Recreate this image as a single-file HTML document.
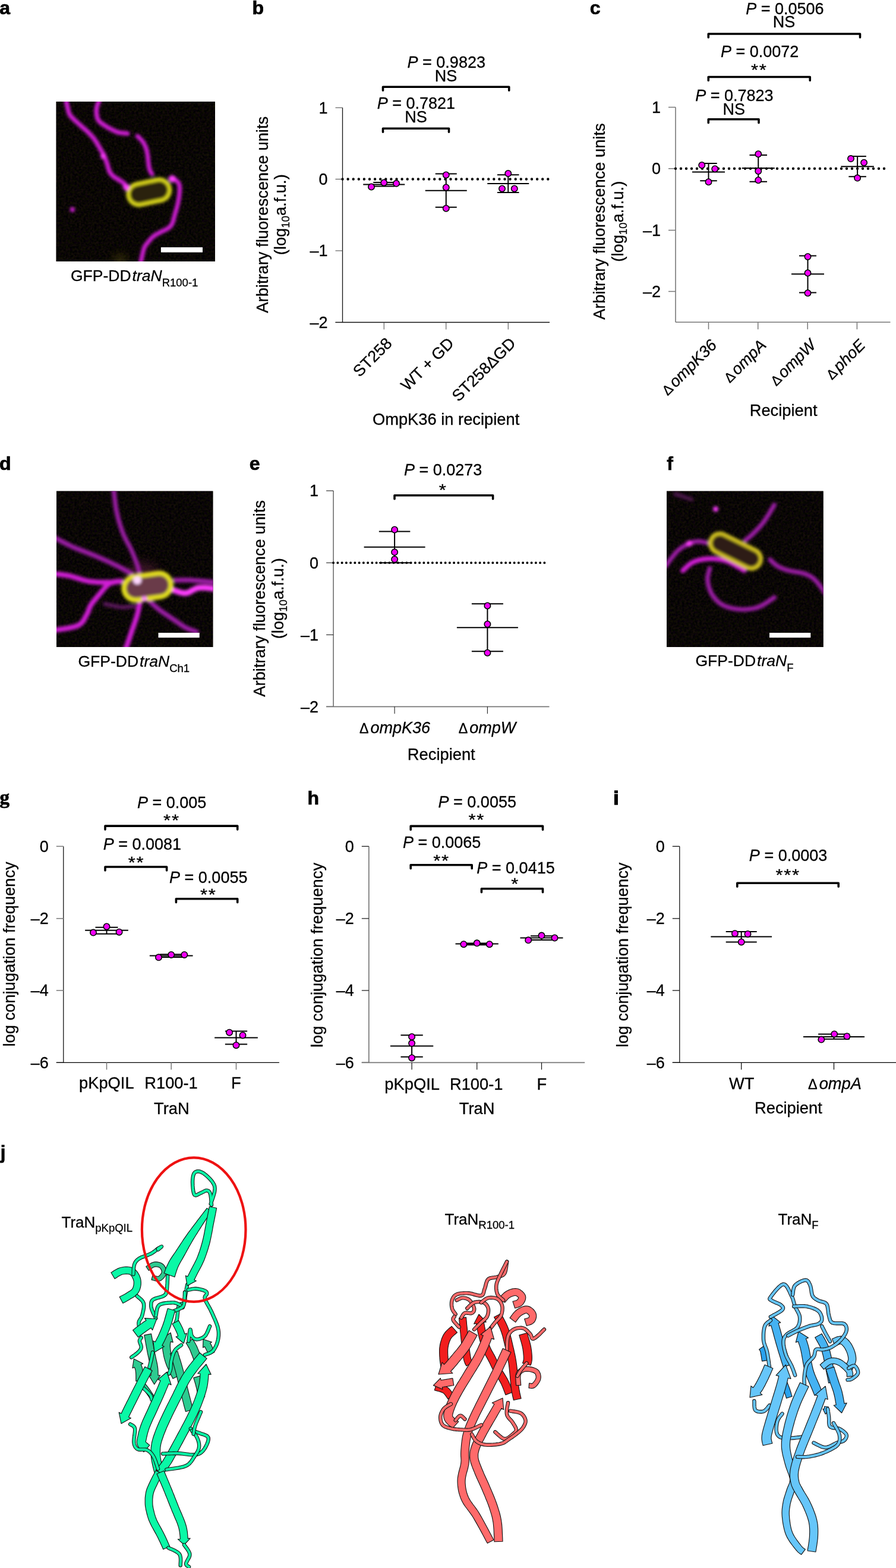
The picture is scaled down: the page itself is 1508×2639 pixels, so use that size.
<!DOCTYPE html><html><head><meta charset="utf-8"><title>Figure</title><style>html,body{margin:0;padding:0;background:#fff;} svg{display:block;} text{font-family:"Liberation Sans",Arial,Helvetica,sans-serif;fill:#000;stroke:#000;stroke-width:0.3px;} .pl{font-family:"Liberation Sans",Arial,sans-serif;font-weight:bold;}</style></head><body>
<svg width="1508" height="2639" viewBox="0 0 1508 2639">
<defs><filter id="blur3" x="-20%" y="-20%" width="140%" height="140%"><feGaussianBlur stdDeviation="2.5"/></filter><filter id="blur8" x="-50%" y="-50%" width="200%" height="200%"><feGaussianBlur stdDeviation="8"/></filter><filter id="blur2" x="-20%" y="-20%" width="140%" height="140%"><feGaussianBlur stdDeviation="1.6"/></filter><filter id="noise" x="0" y="0" width="100%" height="100%" color-interpolation-filters="sRGB"><feTurbulence type="fractalNoise" baseFrequency="0.27" numOctaves="2" seed="5"/><feColorMatrix values="0.14 0 0.1 0 -0.08  0.13 0 0 0 -0.035  0 0 0.11 0 -0.035  0 0 0 0 1"/></filter></defs>
<rect width="1508" height="2639" fill="#fff"/>
<text x="-0.8" y="24.3" font-size="32" font-weight="bold" style="font-family:'Liberation Sans',Arial,sans-serif;stroke:#000;stroke-width:0.7px">a</text>
<text x="424.6" y="24.3" font-size="32" font-weight="bold" style="font-family:'Liberation Sans',Arial,sans-serif;stroke:#000;stroke-width:0.7px">b</text>
<text x="992.8" y="24.3" font-size="32" font-weight="bold" style="font-family:'Liberation Sans',Arial,sans-serif;stroke:#000;stroke-width:0.7px">c</text>
<text x="-0.9" y="791" font-size="32" font-weight="bold" style="font-family:'Liberation Sans',Arial,sans-serif;stroke:#000;stroke-width:0.7px">d</text>
<text x="419.8" y="791" font-size="32" font-weight="bold" style="font-family:'Liberation Sans',Arial,sans-serif;stroke:#000;stroke-width:0.7px">e</text>
<text x="1122.3" y="791" font-size="32" font-weight="bold" style="font-family:'Liberation Sans',Arial,sans-serif;stroke:#000;stroke-width:0.7px">f</text>
<text x="-0.5" y="1352.5" font-size="33" font-weight="bold" style="font-family:'Liberation Serif',serif;stroke:#000;stroke-width:0.7px">g</text>
<text x="517.5" y="1354" font-size="32" font-weight="bold" style="font-family:'Liberation Sans',Arial,sans-serif;stroke:#000;stroke-width:0.7px">h</text>
<text x="1032.5" y="1354" font-size="32" font-weight="bold" style="font-family:'Liberation Sans',Arial,sans-serif;stroke:#000;stroke-width:1.6px">i</text>
<text x="0.8" y="1949.5" font-size="31" font-weight="bold" style="font-family:'Liberation Sans',Arial,sans-serif;stroke:#000;stroke-width:0.7px">j</text>
<clipPath id="ca"><rect x="94.5" y="171" width="267.5" height="269"/></clipPath>
<g clip-path="url(#ca)">
<rect x="94.5" y="171" width="267.5" height="269" fill="#0a0604"/>
<rect x="94.5" y="171" width="267.5" height="269" filter="url(#noise)" opacity="0.9"/>
<circle cx="202" cy="440" r="12" fill="#6a6010" opacity="0.45" filter="url(#blur8)"/>
<g filter="url(#blur3)">
<path d="M110.7,166.0 L111.0,167.8 L111.5,170.3 L112.1,173.2 L112.7,176.4 L113.4,179.4 L114.0,182.0 L114.5,184.2 L115.0,186.3 L115.4,188.2 L116.0,190.1 L116.9,192.1 L118.1,194.1 L119.7,196.2 L121.6,198.2 L123.7,200.3 L126.0,202.5 L128.5,204.7 L131.1,207.1 L134.0,209.7 L137.2,212.6 L140.5,215.5 L143.8,218.4 L146.9,221.2 L149.6,223.8 L151.8,226.1 L153.7,228.1 L155.4,230.1 L157.0,232.0 L158.5,233.9 L160.0,236.0 L161.5,238.2 L162.9,240.5 L164.3,242.9 L165.6,245.2 L166.9,247.5 L168.2,249.8 L169.5,252.0 L170.8,254.1 L172.1,256.2 L173.3,258.3 L174.5,260.4 L175.6,262.7 L176.6,265.2 L177.6,267.8 L178.6,270.5 L179.5,273.2 L180.3,275.7 L181.0,278.0 L181.6,280.0 L182.1,281.8 L182.5,283.5 L182.9,285.0 L183.4,286.5 L184.0,288.0 L184.8,289.5 L185.7,290.9 L186.6,292.2 L187.7,293.6 L188.8,294.8 L190.0,296.0 L191.3,297.1 L192.7,298.1 L194.2,299.1 L195.8,300.0 L197.4,301.0 L199.0,302.0 L200.7,303.1 L202.5,304.3 L204.3,305.4 L206.1,306.6 L207.7,307.9 L209.0,309.1 L210.1,310.5 L210.9,312.0 L211.6,313.5 L212.2,314.9 L212.6,316.1 L213.0,317.0" fill="none" stroke="#d11fd6" stroke-width="7.5" stroke-linecap="round" stroke-linejoin="round" opacity="1"/>
<path d="M168.2,166.0 L167.6,167.5 L166.7,169.7 L165.6,172.2 L164.6,175.0 L163.6,177.6 L163.0,180.0 L162.6,182.1 L162.4,184.2 L162.3,186.2 L162.3,188.1 L162.4,190.1 L162.6,192.0 L162.9,193.9 L163.2,195.8 L163.6,197.7 L164.1,199.5 L164.9,201.3 L166.0,203.0 L167.4,204.6 L169.2,206.2 L171.2,207.8 L173.3,209.2 L175.4,210.6 L177.5,212.0 L179.6,213.3 L181.7,214.6 L183.8,215.8 L186.0,217.0 L188.0,218.0 L190.0,219.0 L191.8,219.9 L193.3,220.6 L194.9,221.3 L196.4,221.9 L198.1,222.5 L200.0,223.0 L202.3,223.4 L205.1,223.8 L207.9,224.1 L210.6,224.3 L213.0,224.5 L214.6,224.7" fill="none" stroke="#d11fd6" stroke-width="7.5" stroke-linecap="round" stroke-linejoin="round" opacity="1"/>
<path d="M231.2,229.0 L232.2,229.9 L233.6,231.2 L235.2,232.8 L236.9,234.4 L238.6,236.2 L240.0,238.0 L241.2,239.8 L242.3,241.8 L243.4,243.8 L244.4,245.9 L245.2,248.0 L246.0,250.0 L246.6,252.0 L247.1,253.9 L247.5,255.9 L247.9,257.9 L248.2,259.9 L248.5,262.0 L248.8,264.3 L249.1,266.7 L249.3,269.1 L249.5,271.6 L249.7,273.9 L250.0,276.0 L250.3,277.9 L250.6,279.7 L250.8,281.4 L251.2,283.0 L251.5,284.6 L252.0,286.0 L252.6,287.4 L253.3,288.8 L254.1,290.1 L254.9,291.3 L255.5,292.3 L256.0,293.0" fill="none" stroke="#d11fd6" stroke-width="7.2" stroke-linecap="round" stroke-linejoin="round" opacity="1"/>
<path d="M287.0,300.0 L288.1,300.4 L289.8,300.9 L291.7,301.5 L293.7,302.2 L295.5,303.1 L297.0,304.0 L298.2,305.0 L299.2,306.1 L300.1,307.3 L300.9,308.6 L301.5,310.2 L302.0,312.0 L302.3,314.2 L302.4,316.6 L302.4,319.3 L302.3,322.1 L302.0,325.0 L301.8,327.7 L301.5,330.4 L301.1,333.0 L300.7,335.7 L300.2,338.4 L299.6,341.2 L299.0,344.0 L298.3,346.9 L297.5,350.0 L296.6,353.1 L295.7,356.2 L294.8,359.2 L294.0,362.0 L293.3,364.6 L292.7,367.2 L292.1,369.6 L291.5,371.9 L290.8,374.1 L290.0,376.0 L289.1,377.7 L288.2,379.2 L287.2,380.5 L286.0,381.7 L284.7,382.8 L283.2,384.0 L281.4,385.2 L279.3,386.3 L277.0,387.4 L274.7,388.5 L272.4,389.6 L270.2,390.7 L268.1,391.9 L266.0,393.0 L263.8,394.1 L261.8,395.3 L259.8,396.6 L258.0,398.0 L256.3,399.5 L254.7,401.1 L253.1,402.8 L251.7,404.6 L250.3,406.3 L249.0,408.0 L247.8,409.5 L246.6,410.7 L245.5,411.9 L244.5,413.3 L243.5,415.3 L242.4,418.0 L241.2,421.9 L240.0,427.0 L238.8,432.6 L237.7,438.1 L236.7,442.7 L236.0,446.0" fill="none" stroke="#d11fd6" stroke-width="7.2" stroke-linecap="round" stroke-linejoin="round" opacity="1"/>
<rect x="215.3" y="305.5" width="71" height="36" rx="18.0" transform="rotate(-12 250.8 323.5)" fill="#2a240a" stroke="#dcd81e" stroke-width="6.5"/>
<circle cx="121.8" cy="352.7" r="4.2" fill="#d11fd6"/>
<circle cx="290" cy="301" r="6" fill="#ff3cff"/>
<circle cx="212.5" cy="315" r="5.5" fill="#ff3cff"/>
<circle cx="173" cy="263" r="4" fill="#ff3cff"/>
</g>
<rect x="270.9" y="416.2" width="70.10000000000002" height="8.5" fill="#fff"/>
</g>
<clipPath id="cd"><rect x="95" y="826.5" width="263.5" height="262.5"/></clipPath>
<g clip-path="url(#cd)">
<rect x="95" y="826.5" width="263.5" height="262.5" fill="#0c050a"/>
<rect x="95" y="826.5" width="263.5" height="262.5" filter="url(#noise)" opacity="0.9"/>
<circle cx="240" cy="975" r="30" fill="#602040" opacity="0.5" filter="url(#blur8)"/>
<g filter="url(#blur3)">
<path d="M191.1,822.0 L191.6,826.4 L192.3,832.6 L193.1,839.9 L194.1,847.7 L195.2,855.4 L196.5,862.3 L198.0,868.7 L199.6,874.9 L201.4,881.1 L203.3,887.1 L205.3,892.9 L207.4,898.5 L209.7,903.7 L212.1,908.7 L214.7,913.4 L217.2,918.1 L219.7,922.7 L221.9,927.5 L224.0,932.5 L226.1,937.7 L228.1,943.0 L230.0,948.0 L231.6,952.6 L232.8,956.6 L233.6,960.0 L234.1,963.0 L234.4,965.6 L234.5,967.8 L234.5,969.6 L234.6,971.0" fill="none" stroke="#9c1aa6" stroke-width="7.5" stroke-linecap="round" stroke-linejoin="round" opacity="1"/>
<path d="M90.0,904.0 L93.5,905.8 L98.2,908.3 L103.8,911.2 L110.0,914.4 L116.2,917.5 L122.2,920.3 L128.0,922.8 L134.0,925.2 L140.1,927.5 L146.3,929.9 L152.4,932.3 L158.5,934.8 L164.6,937.4 L170.9,940.2 L177.2,942.9 L183.3,945.7 L189.2,948.5 L194.7,951.1 L200.1,953.8 L205.4,956.6 L210.6,959.4 L215.2,961.9 L219.0,964.0 L221.9,965.6" fill="none" stroke="#9c1aa6" stroke-width="8" stroke-linecap="round" stroke-linejoin="round" opacity="1"/>
<path d="M90.0,965.6 L92.8,965.9 L96.7,966.3 L101.4,966.8 L106.4,967.5 L111.7,968.2 L116.8,969.2 L121.9,970.5 L127.2,972.1 L132.7,973.9 L138.3,975.6 L143.9,977.1 L149.4,978.3 L155.0,979.1 L160.7,979.6 L166.4,979.9 L171.9,980.0 L177.2,980.1 L182.0,980.1 L186.5,980.0 L190.9,979.7 L194.9,979.3 L198.5,978.9 L201.6,978.5 L203.8,978.3" fill="none" stroke="#d11fd6" stroke-width="8.5" stroke-linecap="round" stroke-linejoin="round" opacity="1"/>
<path d="M90.0,1061.0 L94.8,1060.2 L101.7,1059.2 L109.7,1058.0 L118.0,1056.5 L125.5,1054.8 L131.3,1052.7 L135.4,1050.2 L138.4,1047.3 L140.7,1044.1 L142.5,1040.8 L144.1,1037.5 L145.8,1034.5 L147.3,1031.7 L148.5,1029.0 L149.4,1026.3 L150.3,1023.7 L151.5,1021.0 L153.0,1018.2 L155.0,1015.3 L157.3,1012.2 L159.8,1009.2 L162.4,1006.1 L165.0,1003.0 L167.5,1000.1 L169.9,997.1 L172.3,994.1 L174.8,991.1 L177.2,988.3 L179.6,985.8 L182.0,983.7 L184.6,982.1 L187.4,980.9 L190.2,980.0 L192.7,979.3 L194.9,978.8 L196.5,978.3" fill="none" stroke="#d11fd6" stroke-width="8.5" stroke-linecap="round" stroke-linejoin="round" opacity="1"/>
<path d="M236.4,1007.3 L235.9,1010.3 L235.1,1014.4 L234.3,1019.2 L233.3,1024.4 L232.2,1029.7 L231.0,1034.5 L229.7,1039.0 L228.3,1043.4 L226.8,1047.8 L225.2,1052.3 L223.6,1056.9 L221.9,1061.7 L220.1,1067.2 L218.0,1073.3 L215.9,1079.6 L213.9,1085.4 L212.2,1090.4 L211.0,1094.0" fill="none" stroke="#d11fd6" stroke-width="8.5" stroke-linecap="round" stroke-linejoin="round" opacity="1"/>
<path d="M250.9,1011.0 L252.6,1012.6 L254.9,1014.7 L257.6,1017.2 L260.7,1020.0 L264.0,1022.8 L267.3,1025.5 L270.8,1028.1 L274.7,1030.9 L278.7,1033.7 L282.8,1036.4 L286.9,1039.2 L290.8,1041.8 L294.6,1044.4 L298.3,1047.0 L302.0,1049.6 L305.7,1052.1 L309.2,1054.3 L312.6,1056.3 L316.0,1058.0 L319.6,1059.5 L323.0,1060.8 L326.1,1061.9 L328.8,1062.8 L330.7,1063.5" fill="none" stroke="#9c1aa6" stroke-width="8" stroke-linecap="round" stroke-linejoin="round" opacity="1"/>
<path d="M294.5,976.5 L297.3,976.5 L301.1,976.4 L305.6,976.3 L310.7,976.2 L316.1,976.3 L321.7,976.5 L328.1,976.9 L335.7,977.6 L343.5,978.3 L351.1,979.0 L357.5,979.7 L362.0,980.1" fill="none" stroke="#9c1aa6" stroke-width="8" stroke-linecap="round" stroke-linejoin="round" opacity="1"/>
<path d="M290.8,992.8 L293.2,993.6 L296.5,994.8 L300.3,996.1 L304.5,997.3 L308.7,998.2 L312.6,998.3 L316.2,997.5 L319.6,995.9 L323.1,994.0 L326.6,992.0 L330.3,990.3 L334.3,989.2 L338.9,988.9 L344.1,989.1 L349.5,989.5 L354.6,990.1 L358.9,990.7 L362.0,991.0" fill="none" stroke="#ff3cff" stroke-width="9.5" stroke-linecap="round" stroke-linejoin="round" opacity="1"/>
<path d="M176.6,1016.4 L179.6,1017.1 L183.9,1018.1 L188.8,1019.2 L194.1,1020.3 L199.3,1021.3 L203.8,1021.8 L208.0,1021.9 L212.3,1021.7 L216.4,1021.2 L220.1,1020.7 L223.3,1020.3 L225.6,1020.0" fill="none" stroke="#7a1c7e" stroke-width="7" stroke-linecap="round" stroke-linejoin="round" opacity="0.7"/>
<rect x="208.2" y="967.4" width="80" height="40" rx="20.0" transform="rotate(-8 248.2 987.4)" fill="#6a3a48" stroke="#e4e01c" stroke-width="8"/>
<circle cx="231" cy="976.5" r="7" fill="#ffd8ff"/>
<circle cx="243" cy="1008" r="4.5" fill="#ff88ff"/>
</g>
<rect x="266.5" y="1065" width="69.19999999999999" height="8.200000000000045" fill="#fff"/>
</g>
<clipPath id="cf"><rect x="1122" y="826.5" width="263.7" height="262.5"/></clipPath>
<g clip-path="url(#cf)">
<rect x="1122" y="826.5" width="263.7" height="262.5" fill="#0e060c"/>
<rect x="1122" y="826.5" width="263.7" height="262.5" filter="url(#noise)" opacity="0.9"/>
<g filter="url(#blur3)">
<path d="M1303.3,849.6 L1301.3,852.9 L1298.6,857.5 L1295.4,862.9 L1291.9,868.5 L1288.4,874.0 L1285.2,878.6 L1282.1,882.5 L1279.0,886.2 L1275.8,889.7 L1272.7,892.9 L1269.8,895.8 L1267.1,898.5 L1264.5,901.0 L1262.0,903.2 L1259.6,905.2 L1257.5,906.9 L1255.7,908.3 L1254.4,909.4" fill="none" stroke="#9c1aa6" stroke-width="7.5" stroke-linecap="round" stroke-linejoin="round" opacity="1"/>
<path d="M1120.0,953.0 L1122.2,950.1 L1125.2,945.9 L1128.8,941.0 L1132.7,936.0 L1136.5,931.3 L1140.1,927.5 L1143.5,924.5 L1146.9,922.0 L1150.3,919.8 L1153.7,917.9 L1157.0,916.2 L1160.1,914.8 L1163.0,913.6 L1165.7,912.7 L1168.4,912.0 L1171.0,911.5 L1173.6,911.3 L1176.4,911.2 L1179.5,911.4 L1183.0,912.0 L1186.5,912.8 L1189.7,913.6 L1192.5,914.3 L1194.5,914.8" fill="none" stroke="#9c1aa6" stroke-width="7.5" stroke-linecap="round" stroke-linejoin="round" opacity="1"/>
<path d="M1149.2,960.2 L1151.1,958.5 L1153.6,956.1 L1156.5,953.3 L1159.9,950.4 L1163.5,947.8 L1167.3,945.7 L1171.3,944.2 L1175.7,942.9 L1180.3,941.8 L1185.1,941.0 L1189.9,940.5 L1194.5,940.2 L1199.1,940.2 L1203.9,940.6 L1208.7,941.1 L1213.3,941.9 L1217.7,942.9 L1221.7,943.9 L1225.3,945.1 L1228.6,946.6 L1231.7,948.2 L1234.6,949.8 L1237.3,951.4 L1239.9,952.9 L1242.5,954.3 L1245.0,955.7 L1247.4,957.1 L1249.5,958.4 L1251.3,959.4 L1252.6,960.2" fill="none" stroke="#d11fd6" stroke-width="8" stroke-linecap="round" stroke-linejoin="round" opacity="1"/>
<path d="M1194.5,956.6 L1194.0,958.7 L1193.2,961.6 L1192.2,965.1 L1191.4,968.9 L1190.9,972.7 L1190.9,976.5 L1191.4,980.3 L1192.1,984.3 L1193.2,988.4 L1194.6,992.5 L1196.2,996.4 L1198.2,1000.1 L1200.5,1003.6 L1203.0,1006.9 L1205.9,1010.2 L1209.1,1013.2 L1212.5,1015.9 L1216.3,1018.2 L1220.5,1020.2 L1225.1,1021.8 L1230.0,1023.2 L1235.1,1024.3 L1240.2,1025.0 L1245.3,1025.5 L1250.4,1025.7 L1255.6,1025.5 L1260.8,1025.1 L1266.0,1024.4 L1271.2,1023.3 L1276.1,1021.8 L1281.2,1019.6 L1286.4,1016.7 L1291.6,1013.4 L1296.4,1010.2 L1300.4,1007.4 L1303.3,1005.5" fill="none" stroke="#9c1aa6" stroke-width="7.5" stroke-linecap="round" stroke-linejoin="round" opacity="1"/>
<path d="M1296.1,942.0 L1297.4,943.2 L1299.2,945.0 L1301.3,947.0 L1303.7,949.1 L1306.2,951.2 L1308.8,952.9 L1311.4,954.3 L1314.1,955.7 L1316.9,956.9 L1320.0,958.0 L1323.3,959.1 L1326.9,960.2 L1331.0,961.1 L1335.6,961.9 L1340.5,962.7 L1345.4,963.5 L1350.0,964.4 L1354.1,965.6 L1357.6,967.0 L1360.8,968.4 L1363.7,969.9 L1366.5,971.7 L1369.3,973.9 L1372.2,976.5 L1375.4,980.0 L1378.8,984.3 L1382.2,988.9 L1385.4,993.4 L1388.1,997.3 L1390.0,1000.0" fill="none" stroke="#9c1aa6" stroke-width="7.5" stroke-linecap="round" stroke-linejoin="round" opacity="1"/>
<path d="M1136.5,831.4 L1141.0,832.9 L1145.6,834.4 L1150.1,836.0 L1154.6,837.5 L1159.2,839.0 L1163.7,840.5" fill="none" stroke="#5a1a5a" stroke-width="7" stroke-linecap="round" stroke-linejoin="round" opacity="0.8"/>
<rect x="1192.0" y="911.0" width="92" height="33" rx="16.5" transform="rotate(26.5 1238 927.5)" fill="#2e1e16" stroke="#d4c420" stroke-width="6.5"/>
<circle cx="1204.5" cy="856.8" r="4.5" fill="#ff3cff"/>
<circle cx="1160.1" cy="914.8" r="5" fill="#ff3cff"/>
</g>
<rect x="1295" y="1065" width="69.29999999999995" height="8.200000000000045" fill="#fff"/>
</g>
<text x="119" y="473.2" font-size="26.5">GFP-DD<tspan dx="2" font-style="italic">traN</tspan><tspan font-size="18.5" dy="8.6">R100-1</tspan></text>
<text x="131.5" y="1122" font-size="26.5">GFP-DD<tspan dx="2" font-style="italic">traN</tspan><tspan font-size="18.5" dy="8.6">Ch1</tspan></text>
<text x="1170.5" y="1121.3" font-size="26.5">GFP-DD<tspan dx="2" font-style="italic">traN</tspan><tspan font-size="18.5" dy="8.6">F</tspan></text>
<line x1="576.50" y1="181.25" x2="576.50" y2="542.50" stroke="#111" stroke-width="1.3" />
<line x1="564.50" y1="181.25" x2="576.50" y2="181.25" stroke="#444" stroke-width="1.0" />
<text x="551.50" y="190.65" font-size="27" text-anchor="end" >1</text>
<line x1="564.50" y1="301.50" x2="576.50" y2="301.50" stroke="#444" stroke-width="1.0" />
<text x="551.50" y="310.90" font-size="27" text-anchor="end" >0</text>
<line x1="564.50" y1="422.00" x2="576.50" y2="422.00" stroke="#444" stroke-width="1.0" />
<text x="551.50" y="431.40" font-size="27" text-anchor="end" >&#8211;1</text>
<line x1="564.50" y1="542.50" x2="576.50" y2="542.50" stroke="#444" stroke-width="1.0" />
<text x="551.50" y="551.90" font-size="27" text-anchor="end" >&#8211;2</text>
<line x1="564.50" y1="542.50" x2="925.00" y2="542.50" stroke="#111" stroke-width="1.3" />
<line x1="646.25" y1="542.50" x2="646.25" y2="554.50" stroke="#444" stroke-width="1.0" />
<line x1="750.75" y1="542.50" x2="750.75" y2="554.50" stroke="#444" stroke-width="1.0" />
<line x1="855.25" y1="542.50" x2="855.25" y2="554.50" stroke="#444" stroke-width="1.0" />
<line x1="576.50" y1="301.50" x2="923.00" y2="301.50" stroke="#000" stroke-width="4.4" stroke-linecap="round" stroke-dasharray="0 9.1"/>
<line x1="646.25" y1="307.00" x2="646.25" y2="313.50" stroke="#000" stroke-width="2.0" />
<line x1="628.25" y1="307.00" x2="664.25" y2="307.00" stroke="#000" stroke-width="2.0" />
<line x1="628.25" y1="313.50" x2="664.25" y2="313.50" stroke="#000" stroke-width="2.0" />
<line x1="611.25" y1="310.50" x2="681.25" y2="310.50" stroke="#000" stroke-width="2.0" />
<circle cx="625.00" cy="314.50" r="5.2" fill="#f200f8" stroke="#000" stroke-width="1.6"/>
<circle cx="646.25" cy="307.50" r="5.2" fill="#f200f8" stroke="#000" stroke-width="1.6"/>
<circle cx="667.00" cy="308.75" r="5.2" fill="#f200f8" stroke="#000" stroke-width="1.6"/>
<line x1="750.75" y1="292.50" x2="750.75" y2="348.75" stroke="#000" stroke-width="2.0" />
<line x1="732.75" y1="292.50" x2="768.75" y2="292.50" stroke="#000" stroke-width="2.0" />
<line x1="732.75" y1="348.75" x2="768.75" y2="348.75" stroke="#000" stroke-width="2.0" />
<line x1="715.75" y1="320.75" x2="785.75" y2="320.75" stroke="#000" stroke-width="2.0" />
<circle cx="750.75" cy="294.50" r="5.2" fill="#f200f8" stroke="#000" stroke-width="1.6"/>
<circle cx="750.75" cy="315.50" r="5.2" fill="#f200f8" stroke="#000" stroke-width="1.6"/>
<circle cx="750.75" cy="350.75" r="5.2" fill="#f200f8" stroke="#000" stroke-width="1.6"/>
<line x1="855.25" y1="294.25" x2="855.25" y2="324.00" stroke="#000" stroke-width="2.0" />
<line x1="837.00" y1="294.25" x2="873.50" y2="294.25" stroke="#000" stroke-width="2.0" />
<line x1="837.00" y1="324.00" x2="873.50" y2="324.00" stroke="#000" stroke-width="2.0" />
<line x1="820.25" y1="309.00" x2="890.25" y2="309.00" stroke="#000" stroke-width="2.0" />
<circle cx="855.25" cy="292.00" r="5.2" fill="#f200f8" stroke="#000" stroke-width="1.6"/>
<circle cx="845.00" cy="317.50" r="5.2" fill="#f200f8" stroke="#000" stroke-width="1.6"/>
<circle cx="865.75" cy="317.50" r="5.2" fill="#f200f8" stroke="#000" stroke-width="1.6"/>
<path d="M644.50,222.25 V216.25 H755.50 V222.25" fill="none" stroke="#000" stroke-width="3.6" stroke-linejoin="round" stroke-linecap="round"/>
<text x="700.40" y="183.25" font-size="27" text-anchor="middle" ><tspan font-style="italic">P</tspan> = 0.7821</text>
<text x="700.00" y="206.25" font-size="27" text-anchor="middle" >NS</text>
<path d="M644.50,152.25 V146.25 H856.75 V152.25" fill="none" stroke="#000" stroke-width="3.6" stroke-linejoin="round" stroke-linecap="round"/>
<text x="751.25" y="114.25" font-size="27" text-anchor="middle" ><tspan font-style="italic">P</tspan> = 0.9823</text>
<text x="750.50" y="137.00" font-size="27" text-anchor="middle" >NS</text>
<text transform="translate(450.50,361.25) rotate(-90)" font-size="27.3" text-anchor="middle">Arbitrary fluorescence units</text>
<text transform="translate(481.00,361.25) rotate(-90)" font-size="27.3" text-anchor="middle">(log<tspan font-size="0.68em" dy="6">10</tspan><tspan dy="-6">a.f.u.)</tspan></text>
<text transform="translate(661.50,579.50) rotate(-45)" font-size="27" text-anchor="end">ST258</text>
<text transform="translate(765.50,579.50) rotate(-45)" font-size="27" text-anchor="end">WT + GD</text>
<text transform="translate(869.50,579.50) rotate(-45)" font-size="27" text-anchor="end">ST258&#916;GD</text>
<text x="750.60" y="715.00" font-size="27.3" text-anchor="middle" >OmpK36 in recipient</text>
<line x1="1137.00" y1="180.50" x2="1137.00" y2="542.30" stroke="#777" stroke-width="1.6" />
<line x1="1125.00" y1="180.50" x2="1137.00" y2="180.50" stroke="#777" stroke-width="1.5" />
<text x="1112.00" y="189.90" font-size="27" text-anchor="end" >1</text>
<line x1="1125.00" y1="283.75" x2="1137.00" y2="283.75" stroke="#777" stroke-width="1.5" />
<text x="1112.00" y="293.15" font-size="27" text-anchor="end" >0</text>
<line x1="1125.00" y1="387.50" x2="1137.00" y2="387.50" stroke="#777" stroke-width="1.5" />
<text x="1112.00" y="396.90" font-size="27" text-anchor="end" >&#8211;1</text>
<line x1="1125.00" y1="490.50" x2="1137.00" y2="490.50" stroke="#777" stroke-width="1.5" />
<text x="1112.00" y="499.90" font-size="27" text-anchor="end" >&#8211;2</text>
<line x1="1137.00" y1="542.30" x2="1498.50" y2="542.30" stroke="#777" stroke-width="1.6" />
<line x1="1192.50" y1="542.30" x2="1192.50" y2="554.30" stroke="#777" stroke-width="1.5" />
<line x1="1275.70" y1="542.30" x2="1275.70" y2="554.30" stroke="#777" stroke-width="1.5" />
<line x1="1359.20" y1="542.30" x2="1359.20" y2="554.30" stroke="#777" stroke-width="1.5" />
<line x1="1442.40" y1="542.30" x2="1442.40" y2="554.30" stroke="#777" stroke-width="1.5" />
<line x1="1137.00" y1="283.75" x2="1492.00" y2="283.75" stroke="#000" stroke-width="4.4" stroke-linecap="round" stroke-dasharray="0 9.0"/>
<line x1="1192.50" y1="275.00" x2="1192.50" y2="304.25" stroke="#000" stroke-width="2.0" />
<line x1="1178.25" y1="275.00" x2="1206.75" y2="275.00" stroke="#000" stroke-width="2.0" />
<line x1="1178.25" y1="304.25" x2="1206.75" y2="304.25" stroke="#000" stroke-width="2.0" />
<line x1="1165.00" y1="289.50" x2="1220.00" y2="289.50" stroke="#000" stroke-width="2.0" />
<circle cx="1181.25" cy="278.00" r="5.2" fill="#f200f8" stroke="#000" stroke-width="1.6"/>
<circle cx="1203.25" cy="284.25" r="5.2" fill="#f200f8" stroke="#000" stroke-width="1.6"/>
<circle cx="1192.50" cy="306.25" r="5.2" fill="#f200f8" stroke="#000" stroke-width="1.6"/>
<line x1="1276.25" y1="261.00" x2="1276.25" y2="305.75" stroke="#000" stroke-width="2.0" />
<line x1="1261.50" y1="261.00" x2="1291.00" y2="261.00" stroke="#000" stroke-width="2.0" />
<line x1="1261.50" y1="305.75" x2="1291.00" y2="305.75" stroke="#000" stroke-width="2.0" />
<line x1="1248.75" y1="283.00" x2="1303.75" y2="283.00" stroke="#000" stroke-width="2.0" />
<circle cx="1276.25" cy="259.25" r="5.2" fill="#f200f8" stroke="#000" stroke-width="1.6"/>
<circle cx="1276.25" cy="288.00" r="5.2" fill="#f200f8" stroke="#000" stroke-width="1.6"/>
<circle cx="1276.25" cy="303.25" r="5.2" fill="#f200f8" stroke="#000" stroke-width="1.6"/>
<line x1="1359.50" y1="430.50" x2="1359.50" y2="492.50" stroke="#000" stroke-width="2.0" />
<line x1="1345.00" y1="430.50" x2="1374.00" y2="430.50" stroke="#000" stroke-width="2.0" />
<line x1="1345.00" y1="492.50" x2="1374.00" y2="492.50" stroke="#000" stroke-width="2.0" />
<line x1="1332.00" y1="461.25" x2="1387.00" y2="461.25" stroke="#000" stroke-width="2.0" />
<circle cx="1359.50" cy="432.00" r="5.2" fill="#f200f8" stroke="#000" stroke-width="1.6"/>
<circle cx="1359.50" cy="459.50" r="5.2" fill="#f200f8" stroke="#000" stroke-width="1.6"/>
<circle cx="1359.50" cy="493.25" r="5.2" fill="#f200f8" stroke="#000" stroke-width="1.6"/>
<line x1="1443.10" y1="263.10" x2="1443.10" y2="297.25" stroke="#000" stroke-width="2.0" />
<line x1="1428.35" y1="263.10" x2="1457.85" y2="263.10" stroke="#000" stroke-width="2.0" />
<line x1="1428.35" y1="297.25" x2="1457.85" y2="297.25" stroke="#000" stroke-width="2.0" />
<line x1="1415.35" y1="280.25" x2="1470.85" y2="280.25" stroke="#000" stroke-width="2.0" />
<circle cx="1432.00" cy="267.10" r="5.2" fill="#f200f8" stroke="#000" stroke-width="1.6"/>
<circle cx="1454.10" cy="273.75" r="5.2" fill="#f200f8" stroke="#000" stroke-width="1.6"/>
<circle cx="1443.10" cy="299.60" r="5.2" fill="#f200f8" stroke="#000" stroke-width="1.6"/>
<path d="M1192.25,206.75 V200.75 H1277.00 V206.75" fill="none" stroke="#000" stroke-width="3.6" stroke-linejoin="round" stroke-linecap="round"/>
<text x="1235.90" y="170.00" font-size="27" text-anchor="middle" ><tspan font-style="italic">P</tspan> = 0.7823</text>
<text x="1235.25" y="192.50" font-size="27" text-anchor="middle" >NS</text>
<path d="M1192.25,135.50 V129.50 H1363.25 V135.50" fill="none" stroke="#000" stroke-width="3.6" stroke-linejoin="round" stroke-linecap="round"/>
<text x="1278.60" y="95.75" font-size="27" text-anchor="middle" ><tspan font-style="italic">P</tspan> = 0.0072</text>
<text transform="translate(1277.75,126.94) scale(1.15,1)" font-size="27" text-anchor="middle" letter-spacing="1.5">**</text>
<path d="M1192.25,63.00 V57.00 H1447.50 V63.00" fill="none" stroke="#000" stroke-width="3.6" stroke-linejoin="round" stroke-linecap="round"/>
<text x="1320.90" y="23.75" font-size="27" text-anchor="middle" ><tspan font-style="italic">P</tspan> = 0.0506</text>
<text x="1319.60" y="46.25" font-size="27" text-anchor="middle" >NS</text>
<text transform="translate(1017.50,372.70) rotate(-90)" font-size="27.3" text-anchor="middle">Arbitrary fluorescence units</text>
<text transform="translate(1048.80,372.70) rotate(-90)" font-size="27.3" text-anchor="middle">(log<tspan font-size="0.68em" dy="6">10</tspan><tspan dy="-6">a.f.u.)</tspan></text>
<text transform="translate(1208.00,582.50) rotate(-45)" font-size="27" text-anchor="end"><tspan font-size="0.86em">&#916;</tspan><tspan dx="3" font-style="italic">ompK36</tspan></text>
<text transform="translate(1291.20,582.50) rotate(-45)" font-size="27" text-anchor="end"><tspan font-size="0.86em">&#916;</tspan><tspan dx="3" font-style="italic">ompA</tspan></text>
<text transform="translate(1374.70,582.50) rotate(-45)" font-size="27" text-anchor="end"><tspan font-size="0.86em">&#916;</tspan><tspan dx="3" font-style="italic">ompW</tspan></text>
<text transform="translate(1457.90,582.50) rotate(-45)" font-size="27" text-anchor="end"><tspan font-size="0.86em">&#916;</tspan><tspan dx="3" font-style="italic">phoE</tspan></text>
<text x="1318.60" y="700.00" font-size="27.3" text-anchor="middle" >Recipient</text>
<line x1="561.10" y1="826.00" x2="561.10" y2="1189.30" stroke="#777" stroke-width="1.7" />
<line x1="549.10" y1="826.00" x2="561.10" y2="826.00" stroke="#222" stroke-width="1.1" />
<text x="536.10" y="835.40" font-size="27" text-anchor="end" >1</text>
<line x1="549.10" y1="947.20" x2="561.10" y2="947.20" stroke="#222" stroke-width="1.1" />
<text x="536.10" y="956.60" font-size="27" text-anchor="end" >0</text>
<line x1="549.10" y1="1068.40" x2="561.10" y2="1068.40" stroke="#222" stroke-width="1.1" />
<text x="536.10" y="1077.80" font-size="27" text-anchor="end" >&#8211;1</text>
<line x1="549.10" y1="1189.30" x2="561.10" y2="1189.30" stroke="#222" stroke-width="1.1" />
<text x="536.10" y="1198.70" font-size="27" text-anchor="end" >&#8211;2</text>
<line x1="549.00" y1="1189.30" x2="924.50" y2="1189.30" stroke="#777" stroke-width="1.7" />
<line x1="664.10" y1="1189.30" x2="664.10" y2="1201.30" stroke="#222" stroke-width="1.1" />
<line x1="820.40" y1="1189.30" x2="820.40" y2="1201.30" stroke="#222" stroke-width="1.1" />
<line x1="561.10" y1="947.30" x2="918.00" y2="947.30" stroke="#000" stroke-width="4.0" stroke-linecap="round" stroke-dasharray="0 7.25"/>
<line x1="664.10" y1="894.60" x2="664.10" y2="947.20" stroke="#000" stroke-width="2.0" />
<line x1="637.85" y1="894.60" x2="690.35" y2="894.60" stroke="#000" stroke-width="2.0" />
<line x1="637.85" y1="947.20" x2="690.35" y2="947.20" stroke="#000" stroke-width="2.0" />
<line x1="612.60" y1="920.70" x2="715.60" y2="920.70" stroke="#000" stroke-width="2.0" />
<circle cx="664.10" cy="891.50" r="5.2" fill="#f200f8" stroke="#000" stroke-width="1.6"/>
<circle cx="664.10" cy="929.30" r="5.2" fill="#f200f8" stroke="#000" stroke-width="1.6"/>
<circle cx="664.10" cy="941.30" r="5.2" fill="#f200f8" stroke="#000" stroke-width="1.6"/>
<line x1="820.40" y1="1016.25" x2="820.40" y2="1096.25" stroke="#000" stroke-width="2.0" />
<line x1="793.90" y1="1016.25" x2="846.90" y2="1016.25" stroke="#000" stroke-width="2.0" />
<line x1="793.90" y1="1096.25" x2="846.90" y2="1096.25" stroke="#000" stroke-width="2.0" />
<line x1="768.90" y1="1056.25" x2="871.90" y2="1056.25" stroke="#000" stroke-width="2.0" />
<circle cx="820.40" cy="1019.50" r="5.2" fill="#f200f8" stroke="#000" stroke-width="1.6"/>
<circle cx="820.40" cy="1050.50" r="5.2" fill="#f200f8" stroke="#000" stroke-width="1.6"/>
<circle cx="820.40" cy="1098.75" r="5.2" fill="#f200f8" stroke="#000" stroke-width="1.6"/>
<path d="M664.00,839.80 V833.80 H829.60 V839.80" fill="none" stroke="#000" stroke-width="3.6" stroke-linejoin="round" stroke-linecap="round"/>
<text x="745.65" y="799.50" font-size="27" text-anchor="middle" ><tspan font-style="italic">P</tspan> = 0.0273</text>
<text transform="translate(745.70,834.44) scale(1.15,1)" font-size="27" text-anchor="middle" letter-spacing="1.5">*</text>
<text transform="translate(445.50,1007.25) rotate(-90)" font-size="27.3" text-anchor="middle">Arbitrary fluorescence units</text>
<text transform="translate(476.50,1007.25) rotate(-90)" font-size="27.3" text-anchor="middle">(log<tspan font-size="0.68em" dy="6">10</tspan><tspan dy="-6">a.f.u.)</tspan></text>
<text x="664.60" y="1233.90" font-size="27" text-anchor="middle" ><tspan font-size="0.86em">&#916;</tspan><tspan dx="3" font-style="italic">ompK36</tspan></text>
<text x="820.00" y="1233.90" font-size="27" text-anchor="middle" ><tspan font-size="0.86em">&#916;</tspan><tspan dx="3" font-style="italic">ompW</tspan></text>
<text x="742.75" y="1279.20" font-size="27.3" text-anchor="middle" >Recipient</text>
<line x1="106.80" y1="1424.40" x2="106.80" y2="1788.30" stroke="#000" stroke-width="1.2" />
<line x1="94.80" y1="1424.40" x2="106.80" y2="1424.40" stroke="#777" stroke-width="1.5" />
<text x="81.80" y="1433.80" font-size="27" text-anchor="end" >0</text>
<line x1="94.80" y1="1545.90" x2="106.80" y2="1545.90" stroke="#777" stroke-width="1.5" />
<text x="81.80" y="1555.30" font-size="27" text-anchor="end" >&#8211;2</text>
<line x1="94.80" y1="1667.00" x2="106.80" y2="1667.00" stroke="#777" stroke-width="1.5" />
<text x="81.80" y="1676.40" font-size="27" text-anchor="end" >&#8211;4</text>
<line x1="94.80" y1="1788.30" x2="106.80" y2="1788.30" stroke="#777" stroke-width="1.5" />
<text x="81.80" y="1797.70" font-size="27" text-anchor="end" >&#8211;6</text>
<line x1="94.80" y1="1788.30" x2="470.00" y2="1788.30" stroke="#000" stroke-width="1.2" />
<line x1="179.50" y1="1788.30" x2="179.50" y2="1800.30" stroke="#777" stroke-width="1.5" />
<line x1="288.20" y1="1788.30" x2="288.20" y2="1800.30" stroke="#777" stroke-width="1.5" />
<line x1="397.50" y1="1788.30" x2="397.50" y2="1800.30" stroke="#777" stroke-width="1.5" />
<line x1="179.50" y1="1560.80" x2="179.50" y2="1571.80" stroke="#000" stroke-width="2.0" />
<line x1="160.50" y1="1560.80" x2="198.50" y2="1560.80" stroke="#000" stroke-width="2.0" />
<line x1="160.50" y1="1571.80" x2="198.50" y2="1571.80" stroke="#000" stroke-width="2.0" />
<line x1="143.15" y1="1565.80" x2="215.85" y2="1565.80" stroke="#000" stroke-width="2.0" />
<circle cx="157.00" cy="1569.60" r="5.2" fill="#f200f8" stroke="#000" stroke-width="1.6"/>
<circle cx="179.50" cy="1559.50" r="5.2" fill="#f200f8" stroke="#000" stroke-width="1.6"/>
<circle cx="200.60" cy="1568.70" r="5.2" fill="#f200f8" stroke="#000" stroke-width="1.6"/>
<line x1="288.20" y1="1606.30" x2="288.20" y2="1611.00" stroke="#000" stroke-width="2.0" />
<line x1="269.20" y1="1606.30" x2="307.20" y2="1606.30" stroke="#000" stroke-width="2.0" />
<line x1="269.20" y1="1611.00" x2="307.20" y2="1611.00" stroke="#000" stroke-width="2.0" />
<line x1="251.85" y1="1608.50" x2="324.55" y2="1608.50" stroke="#000" stroke-width="2.0" />
<circle cx="267.00" cy="1611.30" r="5.2" fill="#f200f8" stroke="#000" stroke-width="1.6"/>
<circle cx="288.20" cy="1606.90" r="5.2" fill="#f200f8" stroke="#000" stroke-width="1.6"/>
<circle cx="310.30" cy="1606.90" r="5.2" fill="#f200f8" stroke="#000" stroke-width="1.6"/>
<line x1="397.50" y1="1735.50" x2="397.50" y2="1757.60" stroke="#000" stroke-width="2.0" />
<line x1="378.85" y1="1735.50" x2="416.15" y2="1735.50" stroke="#000" stroke-width="2.0" />
<line x1="378.85" y1="1757.60" x2="416.15" y2="1757.60" stroke="#000" stroke-width="2.0" />
<line x1="361.15" y1="1746.50" x2="433.85" y2="1746.50" stroke="#000" stroke-width="2.0" />
<circle cx="386.10" cy="1737.70" r="5.2" fill="#f200f8" stroke="#000" stroke-width="1.6"/>
<circle cx="408.50" cy="1742.40" r="5.2" fill="#f200f8" stroke="#000" stroke-width="1.6"/>
<circle cx="397.50" cy="1759.20" r="5.2" fill="#f200f8" stroke="#000" stroke-width="1.6"/>
<path d="M177.00,1396.10 V1390.10 H399.70 V1396.10" fill="none" stroke="#000" stroke-width="3.6" stroke-linejoin="round" stroke-linecap="round"/>
<text x="289.10" y="1359.50" font-size="27" text-anchor="middle" ><tspan font-style="italic">P</tspan> = 0.005</text>
<text transform="translate(288.90,1390.04) scale(1.15,1)" font-size="27" text-anchor="middle" letter-spacing="1.5">**</text>
<path d="M177.00,1465.00 V1459.00 H280.60 V1465.00" fill="none" stroke="#000" stroke-width="3.6" stroke-linejoin="round" stroke-linecap="round"/>
<text x="239.35" y="1430.00" font-size="27" text-anchor="middle" ><tspan font-style="italic">P</tspan> = 0.0081</text>
<text transform="translate(229.50,1461.04) scale(1.15,1)" font-size="27" text-anchor="middle" letter-spacing="1.5">**</text>
<path d="M296.40,1518.70 V1512.70 H399.70 V1518.70" fill="none" stroke="#000" stroke-width="3.6" stroke-linejoin="round" stroke-linecap="round"/>
<text x="350.75" y="1485.90" font-size="27" text-anchor="middle" ><tspan font-style="italic">P</tspan> = 0.0055</text>
<text transform="translate(350.70,1514.84) scale(1.15,1)" font-size="27" text-anchor="middle" letter-spacing="1.5">**</text>
<text transform="translate(25.00,1606.00) rotate(-90)" font-size="27.3" text-anchor="middle">log conjugation frequency</text>
<text x="179.30" y="1831.80" font-size="27.3" text-anchor="middle" >pKpQIL</text>
<text x="288.00" y="1831.80" font-size="27.3" text-anchor="middle" >R100-1</text>
<text x="397.30" y="1831.80" font-size="27.3" text-anchor="middle" >F</text>
<text x="288.80" y="1874.50" font-size="27.3" text-anchor="middle" >TraN</text>
<line x1="620.80" y1="1424.40" x2="620.80" y2="1788.30" stroke="#777" stroke-width="1.7" />
<line x1="608.80" y1="1424.40" x2="620.80" y2="1424.40" stroke="#111" stroke-width="1.2" />
<text x="595.80" y="1433.80" font-size="27" text-anchor="end" >0</text>
<line x1="608.80" y1="1545.90" x2="620.80" y2="1545.90" stroke="#111" stroke-width="1.2" />
<text x="595.80" y="1555.30" font-size="27" text-anchor="end" >&#8211;2</text>
<line x1="608.80" y1="1667.00" x2="620.80" y2="1667.00" stroke="#111" stroke-width="1.2" />
<text x="595.80" y="1676.40" font-size="27" text-anchor="end" >&#8211;4</text>
<line x1="608.80" y1="1788.30" x2="620.80" y2="1788.30" stroke="#111" stroke-width="1.2" />
<text x="595.80" y="1797.70" font-size="27" text-anchor="end" >&#8211;6</text>
<line x1="608.80" y1="1788.30" x2="984.20" y2="1788.30" stroke="#777" stroke-width="1.7" />
<line x1="693.10" y1="1788.30" x2="693.10" y2="1800.30" stroke="#111" stroke-width="1.2" />
<line x1="802.70" y1="1788.30" x2="802.70" y2="1800.30" stroke="#111" stroke-width="1.2" />
<line x1="911.50" y1="1788.30" x2="911.50" y2="1800.30" stroke="#111" stroke-width="1.2" />
<line x1="693.10" y1="1742.30" x2="693.10" y2="1778.80" stroke="#000" stroke-width="2.0" />
<line x1="674.45" y1="1742.30" x2="711.75" y2="1742.30" stroke="#000" stroke-width="2.0" />
<line x1="674.45" y1="1778.80" x2="711.75" y2="1778.80" stroke="#000" stroke-width="2.0" />
<line x1="656.95" y1="1760.40" x2="729.25" y2="1760.40" stroke="#000" stroke-width="2.0" />
<circle cx="693.10" cy="1745.00" r="5.2" fill="#f200f8" stroke="#000" stroke-width="1.6"/>
<circle cx="693.10" cy="1755.80" r="5.2" fill="#f200f8" stroke="#000" stroke-width="1.6"/>
<circle cx="693.10" cy="1780.40" r="5.2" fill="#f200f8" stroke="#000" stroke-width="1.6"/>
<line x1="802.70" y1="1587.60" x2="802.70" y2="1590.20" stroke="#000" stroke-width="2.0" />
<line x1="784.20" y1="1587.60" x2="821.20" y2="1587.60" stroke="#000" stroke-width="2.0" />
<line x1="784.20" y1="1590.20" x2="821.20" y2="1590.20" stroke="#000" stroke-width="2.0" />
<line x1="766.55" y1="1588.50" x2="838.85" y2="1588.50" stroke="#000" stroke-width="2.0" />
<circle cx="780.40" cy="1589.20" r="5.2" fill="#f200f8" stroke="#000" stroke-width="1.6"/>
<circle cx="802.70" cy="1587.30" r="5.2" fill="#f200f8" stroke="#000" stroke-width="1.6"/>
<circle cx="823.80" cy="1589.20" r="5.2" fill="#f200f8" stroke="#000" stroke-width="1.6"/>
<line x1="911.50" y1="1575.20" x2="911.50" y2="1582.00" stroke="#000" stroke-width="2.0" />
<line x1="893.00" y1="1575.20" x2="930.00" y2="1575.20" stroke="#000" stroke-width="2.0" />
<line x1="893.00" y1="1582.00" x2="930.00" y2="1582.00" stroke="#000" stroke-width="2.0" />
<line x1="875.50" y1="1578.50" x2="947.50" y2="1578.50" stroke="#000" stroke-width="2.0" />
<circle cx="889.20" cy="1582.30" r="5.2" fill="#f200f8" stroke="#000" stroke-width="1.6"/>
<circle cx="911.50" cy="1574.60" r="5.2" fill="#f200f8" stroke="#000" stroke-width="1.6"/>
<circle cx="933.50" cy="1578.50" r="5.2" fill="#f200f8" stroke="#000" stroke-width="1.6"/>
<path d="M691.20,1396.40 V1390.40 H913.50 V1396.40" fill="none" stroke="#000" stroke-width="3.6" stroke-linejoin="round" stroke-linecap="round"/>
<text x="803.25" y="1359.20" font-size="27" text-anchor="middle" ><tspan font-style="italic">P</tspan> = 0.0055</text>
<text transform="translate(802.30,1389.44) scale(1.15,1)" font-size="27" text-anchor="middle" letter-spacing="1.5">**</text>
<path d="M691.20,1461.80 V1455.80 H794.20 V1461.80" fill="none" stroke="#000" stroke-width="3.6" stroke-linejoin="round" stroke-linecap="round"/>
<text x="743.65" y="1426.90" font-size="27" text-anchor="middle" ><tspan font-style="italic">P</tspan> = 0.0065</text>
<text transform="translate(743.10,1457.94) scale(1.15,1)" font-size="27" text-anchor="middle" letter-spacing="1.5">**</text>
<path d="M810.40,1501.80 V1495.80 H913.50 V1501.80" fill="none" stroke="#000" stroke-width="3.6" stroke-linejoin="round" stroke-linecap="round"/>
<text x="868.00" y="1470.00" font-size="27" text-anchor="middle" ><tspan font-style="italic">P</tspan> = 0.0415</text>
<text transform="translate(867.10,1497.14) scale(1.15,1)" font-size="27" text-anchor="middle" letter-spacing="1.5">*</text>
<text transform="translate(542.50,1607.50) rotate(-90)" font-size="27.3" text-anchor="middle">log conjugation frequency</text>
<text x="693.65" y="1833.50" font-size="27.3" text-anchor="middle" >pKpQIL</text>
<text x="801.70" y="1833.50" font-size="27.3" text-anchor="middle" >R100-1</text>
<text x="911.90" y="1833.50" font-size="27.3" text-anchor="middle" >F</text>
<text x="802.70" y="1875.00" font-size="27.3" text-anchor="middle" >TraN</text>
<line x1="1143.80" y1="1424.40" x2="1143.80" y2="1788.30" stroke="#000" stroke-width="1.2" />
<line x1="1131.80" y1="1424.40" x2="1143.80" y2="1424.40" stroke="#000" stroke-width="1.2" />
<text x="1118.80" y="1433.80" font-size="27" text-anchor="end" >0</text>
<line x1="1131.80" y1="1545.90" x2="1143.80" y2="1545.90" stroke="#000" stroke-width="1.2" />
<text x="1118.80" y="1555.30" font-size="27" text-anchor="end" >&#8211;2</text>
<line x1="1131.80" y1="1667.00" x2="1143.80" y2="1667.00" stroke="#000" stroke-width="1.2" />
<text x="1118.80" y="1676.40" font-size="27" text-anchor="end" >&#8211;4</text>
<line x1="1131.80" y1="1788.30" x2="1143.80" y2="1788.30" stroke="#000" stroke-width="1.2" />
<text x="1118.80" y="1797.70" font-size="27" text-anchor="end" >&#8211;6</text>
<line x1="1131.80" y1="1788.30" x2="1508.00" y2="1788.30" stroke="#000" stroke-width="1.2" />
<line x1="1247.70" y1="1788.30" x2="1247.70" y2="1800.30" stroke="#000" stroke-width="1.2" />
<line x1="1403.50" y1="1788.30" x2="1403.50" y2="1800.30" stroke="#000" stroke-width="1.2" />
<line x1="1247.70" y1="1568.00" x2="1247.70" y2="1585.40" stroke="#000" stroke-width="2.0" />
<line x1="1221.70" y1="1568.00" x2="1273.70" y2="1568.00" stroke="#000" stroke-width="2.0" />
<line x1="1221.70" y1="1585.40" x2="1273.70" y2="1585.40" stroke="#000" stroke-width="2.0" />
<line x1="1196.35" y1="1576.50" x2="1299.05" y2="1576.50" stroke="#000" stroke-width="2.0" />
<circle cx="1236.90" cy="1571.20" r="5.2" fill="#f200f8" stroke="#000" stroke-width="1.6"/>
<circle cx="1258.50" cy="1571.90" r="5.2" fill="#f200f8" stroke="#000" stroke-width="1.6"/>
<circle cx="1247.70" cy="1585.40" r="5.2" fill="#f200f8" stroke="#000" stroke-width="1.6"/>
<line x1="1403.50" y1="1740.40" x2="1403.50" y2="1748.80" stroke="#000" stroke-width="2.0" />
<line x1="1377.15" y1="1740.40" x2="1429.85" y2="1740.40" stroke="#000" stroke-width="2.0" />
<line x1="1377.15" y1="1748.80" x2="1429.85" y2="1748.80" stroke="#000" stroke-width="2.0" />
<line x1="1352.00" y1="1745.00" x2="1455.00" y2="1745.00" stroke="#000" stroke-width="2.0" />
<circle cx="1382.30" cy="1749.60" r="5.2" fill="#f200f8" stroke="#000" stroke-width="1.6"/>
<circle cx="1404.20" cy="1740.40" r="5.2" fill="#f200f8" stroke="#000" stroke-width="1.6"/>
<circle cx="1425.40" cy="1744.20" r="5.2" fill="#f200f8" stroke="#000" stroke-width="1.6"/>
<path d="M1240.80,1492.20 V1486.20 H1411.20 V1492.20" fill="none" stroke="#000" stroke-width="3.6" stroke-linejoin="round" stroke-linecap="round"/>
<text x="1326.55" y="1448.80" font-size="27" text-anchor="middle" ><tspan font-style="italic">P</tspan> = 0.0003</text>
<text transform="translate(1326.15,1482.44) scale(1.15,1)" font-size="27" text-anchor="middle" letter-spacing="1.5">***</text>
<text transform="translate(1057.00,1607.10) rotate(-90)" font-size="27.3" text-anchor="middle">log conjugation frequency</text>
<text x="1248.25" y="1832.70" font-size="27.3" text-anchor="middle" >WT</text>
<text x="1405.00" y="1832.70" font-size="27.3" text-anchor="middle" ><tspan font-size="0.86em">&#916;</tspan><tspan dx="3" font-style="italic">ompA</tspan></text>
<text x="1326.90" y="1873.80" font-size="27.3" text-anchor="middle" >Recipient</text>
<text x="103.5" y="2065.9" font-size="26">TraN<tspan font-size="18.5" dy="7.5">pKpQIL</tspan></text>
<text x="748.5" y="2060.7" font-size="26">TraN<tspan font-size="18.5" dy="7.5">R100-1</tspan></text>
<text x="1309.5" y="2060.7" font-size="26">TraN<tspan font-size="18.5" dy="7.5">F</tspan></text>
<g id="panel-j">
<path d="M240.9,2324.0 L240.8,2322.5 L240.8,2320.4 L240.8,2317.7 L240.8,2314.8 L240.6,2311.6 L240.4,2308.4 L240.0,2305.2 L239.4,2302.1 L238.5,2299.1 L237.4,2296.5 L240.7,2295.1 L225.3,2287.1 L223.0,2302.5 L226.3,2301.1 L227.2,2303.3 L227.8,2305.1 L228.2,2307.1 L228.5,2309.5 L228.7,2312.3 L228.8,2315.1 L228.8,2317.9 L228.8,2320.4 L228.8,2322.7 L228.9,2324.4 Z" fill="#2ccb90" stroke="#141414" stroke-width="1.15" stroke-linejoin="round"/>
<path d="M242.8,2247.1 L243.2,2249.4 L243.8,2252.6 L244.5,2256.3 L245.2,2260.5 L246.0,2264.8 L246.8,2269.2 L247.6,2273.5 L248.3,2277.4 L249.1,2281.0 L249.9,2284.6 L250.7,2288.1 L251.4,2291.5 L252.2,2294.8 L252.8,2298.0 L253.3,2301.1 L253.7,2304.2 L254.0,2307.4 L254.1,2311.0 L254.1,2314.8 L250.5,2314.8 L259.7,2330.0 L269.7,2314.7 L266.1,2314.7 L266.1,2310.8 L266.0,2306.8 L265.7,2303.0 L265.2,2299.4 L264.6,2295.8 L263.9,2292.3 L263.1,2288.8 L262.3,2285.4 L261.6,2281.9 L260.8,2278.5 L260.1,2275.0 L259.4,2271.3 L258.6,2267.1 L257.8,2262.7 L257.0,2258.3 L256.3,2254.2 L255.6,2250.4 L255.0,2247.3 L254.6,2244.9 Z" fill="#2ccb90" stroke="#141414" stroke-width="1.15" stroke-linejoin="round"/>
<path d="M302.7,2314.6 L301.6,2312.4 L300.2,2309.6 L298.5,2306.2 L296.7,2302.5 L294.9,2298.7 L293.2,2294.9 L291.7,2291.2 L290.6,2287.9 L289.7,2284.7 L288.8,2281.3 L288.0,2277.9 L287.4,2274.6 L286.9,2271.3 L286.6,2268.2 L286.4,2265.3 L286.5,2262.9 L286.8,2260.7 L287.4,2258.1 L291.2,2259.1 L287.1,2243.0 L271.1,2254.0 L274.8,2254.9 L274.0,2258.2 L273.5,2261.9 L273.4,2265.6 L273.6,2269.2 L274.0,2272.9 L274.6,2276.7 L275.3,2280.5 L276.1,2284.4 L277.1,2288.1 L278.2,2291.9 L279.6,2295.8 L281.2,2300.0 L283.1,2304.1 L285.0,2308.2 L286.9,2312.0 L288.6,2315.4 L289.9,2318.1 L290.9,2320.2 Z" fill="#2ccb90" stroke="#141414" stroke-width="1.15" stroke-linejoin="round"/>
<path d="M286.4,2278.1 L287.0,2280.2 L287.9,2283.1 L289.0,2286.4 L290.1,2290.1 L291.3,2294.0 L292.5,2298.0 L293.6,2301.8 L294.6,2305.3 L295.5,2308.7 L296.4,2312.1 L297.2,2315.5 L298.1,2318.9 L298.9,2322.3 L299.7,2325.7 L300.5,2329.2 L301.4,2332.7 L302.3,2336.2 L303.2,2339.8 L304.1,2343.5 L305.0,2347.2 L305.9,2350.8 L306.8,2354.2 L307.6,2357.3 L308.3,2360.2 L309.0,2362.8 L309.6,2365.3 L310.2,2367.6 L310.8,2369.7 L311.3,2371.6 L311.8,2373.2 L312.1,2374.6 L312.4,2375.7 L325.0,2372.3 L324.7,2371.2 L324.3,2369.8 L323.9,2368.2 L323.4,2366.3 L322.8,2364.3 L322.2,2362.0 L321.6,2359.6 L320.9,2357.0 L320.2,2354.1 L319.4,2351.0 L318.5,2347.6 L317.6,2344.0 L316.7,2340.4 L315.8,2336.7 L314.9,2333.0 L314.0,2329.5 L313.2,2326.1 L312.3,2322.7 L311.5,2319.3 L310.7,2315.8 L309.9,2312.4 L309.0,2308.9 L308.1,2305.4 L307.2,2301.9 L306.1,2298.2 L305.0,2294.2 L303.8,2290.2 L302.5,2286.3 L301.4,2282.5 L300.3,2279.2 L299.5,2276.4 L298.8,2274.3 Z" fill="#2ccb90" stroke="#141414" stroke-width="1.15" stroke-linejoin="round"/>
<path d="M313.1,2260.2 L313.6,2261.1 L314.4,2262.3 L315.2,2263.7 L316.1,2265.3 L317.0,2266.9 L318.0,2268.6 L318.9,2270.3 L319.7,2272.0 L320.5,2273.9 L321.4,2276.2 L322.4,2278.7 L323.4,2281.3 L324.3,2283.8 L325.2,2286.0 L325.9,2288.0 L326.4,2289.4 L338.6,2284.8 L338.1,2283.4 L337.4,2281.5 L336.5,2279.2 L335.6,2276.7 L334.6,2274.0 L333.5,2271.4 L332.5,2268.9 L331.5,2266.6 L330.5,2264.5 L329.4,2262.5 L328.4,2260.5 L327.3,2258.7 L326.4,2257.1 L325.5,2255.7 L324.8,2254.5 L324.3,2253.6 Z" fill="#2ccb90" stroke="#141414" stroke-width="1.15" stroke-linejoin="round"/>
<path d="M361.0,2275.8 L360.6,2274.8 L360.0,2273.5 L359.3,2271.8 L358.5,2270.0 L357.7,2268.0 L356.7,2266.0 L355.8,2264.1 L354.8,2262.2 L353.7,2260.6 L356.5,2258.8 L342.0,2254.0 L341.6,2268.1 L344.4,2266.4 L345.2,2267.8 L346.0,2269.2 L346.8,2270.8 L347.7,2272.6 L348.5,2274.4 L349.2,2276.2 L349.9,2277.8 L350.5,2279.2 L351.0,2280.2 Z" fill="#2ccb90" stroke="#141414" stroke-width="1.15" stroke-linejoin="round"/>
<path d="M325.8,2318.9 L326.2,2320.3 L326.7,2322.1 L327.4,2324.3 L328.1,2326.7 L328.8,2329.2 L329.5,2331.7 L330.1,2334.1 L330.7,2336.3 L331.1,2338.4 L331.6,2340.7 L332.1,2343.1 L332.6,2345.5 L333.0,2347.7 L333.3,2349.7 L333.6,2351.4 L333.9,2352.7 L344.7,2350.7 L344.5,2349.4 L344.2,2347.7 L343.8,2345.7 L343.4,2343.4 L342.9,2341.0 L342.4,2338.5 L341.9,2336.1 L341.3,2333.7 L340.8,2331.3 L340.1,2328.8 L339.4,2326.2 L338.6,2323.6 L337.9,2321.2 L337.3,2319.0 L336.8,2317.2 L336.4,2315.9 Z" fill="#2ccb90" stroke="#141414" stroke-width="1.15" stroke-linejoin="round"/>
<path d="M236.9,2332.5 L237.5,2333.3 L238.4,2334.3 L239.3,2335.5 L240.4,2336.8 L241.5,2338.2 L242.7,2339.6 L243.8,2341.0 L244.8,2342.4 L245.8,2343.8 L246.9,2345.4 L248.0,2347.1 L249.2,2348.8 L250.2,2350.5 L251.2,2352.0 L252.0,2353.2 L252.7,2354.2 L259.3,2349.8 L258.7,2348.9 L257.9,2347.6 L256.9,2346.1 L255.8,2344.4 L254.7,2342.7 L253.5,2340.9 L252.3,2339.2 L251.2,2337.6 L250.1,2336.2 L249.0,2334.7 L247.8,2333.2 L246.6,2331.7 L245.5,2330.4 L244.5,2329.2 L243.7,2328.2 L243.1,2327.5 Z" fill="#2ccb90" stroke="#141414" stroke-width="1.15" stroke-linejoin="round"/>
<path d="M193.1,2152.2 L194.3,2151.4 L195.9,2150.4 L197.7,2149.3 L199.5,2148.1 L201.5,2146.9 L203.3,2146.0 L205.0,2145.3 L206.4,2144.8 L208.1,2144.5 L210.0,2144.3 L211.9,2144.1 L213.7,2144.1 L215.5,2144.2 L216.9,2144.4 L218.1,2144.7 L218.9,2145.1 L219.6,2145.7 L220.6,2146.7 L221.6,2148.0 L222.6,2149.5 L223.4,2151.2 L224.2,2152.9 L224.7,2154.6 L225.1,2156.1 L225.3,2157.5 L225.3,2159.2 L225.2,2160.9 L225.0,2162.8 L224.6,2164.5 L224.1,2166.2 L223.5,2167.7 L222.9,2168.9 L222.2,2169.8 L221.3,2170.7 L220.1,2171.7 L218.7,2172.7 L217.0,2173.7 L215.3,2174.8 L213.5,2175.9 L211.8,2176.9 L210.3,2177.9 L208.9,2178.7 L207.4,2179.5 L205.9,2180.3 L204.5,2181.0 L203.2,2181.6 L202.1,2182.2 L201.2,2182.7 L206.8,2193.3 L207.6,2192.9 L208.6,2192.4 L209.9,2191.7 L211.4,2191.0 L213.1,2190.1 L214.8,2189.1 L216.6,2188.1 L218.2,2187.1 L219.7,2186.1 L221.4,2185.1 L223.3,2184.0 L225.3,2182.7 L227.4,2181.2 L229.5,2179.5 L231.4,2177.5 L233.1,2175.1 L234.4,2172.7 L235.4,2170.2 L236.2,2167.6 L236.8,2164.9 L237.2,2162.1 L237.3,2159.4 L237.2,2156.6 L236.9,2153.9 L236.3,2151.3 L235.4,2148.6 L234.3,2146.0 L232.9,2143.5 L231.4,2141.1 L229.6,2138.8 L227.6,2136.7 L225.1,2134.9 L222.4,2133.5 L219.6,2132.7 L216.8,2132.2 L214.0,2132.1 L211.3,2132.1 L208.6,2132.3 L206.1,2132.7 L203.6,2133.2 L200.9,2134.0 L198.2,2135.1 L195.7,2136.4 L193.3,2137.8 L191.2,2139.1 L189.4,2140.3 L188.0,2141.2 L186.9,2141.8 Z" fill="#0af8a6" stroke="#141414" stroke-width="1.15" stroke-linejoin="round"/>
<path d="M250.2,2138.3 L251.2,2137.7 L252.5,2136.8 L253.9,2135.7 L255.5,2134.6 L257.0,2133.6 L258.5,2132.8 L259.8,2132.2 L260.8,2131.9 L261.7,2131.8 L262.9,2131.9 L264.2,2132.0 L265.5,2132.3 L266.8,2132.6 L267.9,2133.1 L268.7,2133.6 L269.4,2134.0 L269.9,2134.6 L270.5,2135.4 L271.0,2136.4 L271.5,2137.5 L271.9,2138.6 L272.1,2139.7 L272.1,2140.6 L272.1,2141.2 L271.9,2142.0 L271.4,2143.0 L270.7,2144.2 L269.9,2145.3 L268.9,2146.4 L268.0,2147.3 L267.1,2148.0 L266.6,2148.2 L266.2,2148.3 L265.3,2148.3 L264.0,2148.1 L262.5,2147.8 L261.0,2147.3 L259.5,2146.8 L258.0,2146.4 L257.0,2146.1 L255.0,2153.9 L255.9,2154.1 L257.0,2154.5 L258.6,2155.0 L260.5,2155.5 L262.5,2156.0 L264.7,2156.3 L267.0,2156.3 L269.4,2155.8 L271.4,2154.7 L273.1,2153.4 L274.7,2151.9 L276.1,2150.3 L277.4,2148.5 L278.5,2146.7 L279.3,2144.8 L279.9,2142.8 L280.1,2140.7 L280.0,2138.6 L279.6,2136.6 L279.0,2134.7 L278.2,2132.8 L277.2,2131.1 L276.0,2129.4 L274.6,2128.0 L273.0,2126.8 L271.3,2125.8 L269.4,2125.1 L267.5,2124.5 L265.5,2124.1 L263.4,2123.9 L261.4,2123.8 L259.2,2124.1 L257.0,2124.7 L254.9,2125.6 L252.9,2126.8 L251.0,2128.0 L249.3,2129.2 L247.8,2130.3 L246.6,2131.1 L245.8,2131.7 Z" fill="#2ccb90" stroke="#141414" stroke-width="1.15" stroke-linejoin="round"/>
<path d="M354.7,2026.0 L355.3,2024.3 L356.1,2021.9 L357.1,2019.1 L358.2,2016.0 L359.2,2012.8 L360.1,2009.7 L360.9,2006.8 L361.3,2004.4 L361.5,2002.4 L361.6,2000.5 L361.5,1998.9 L361.3,1997.4 L361.0,1995.9 L360.4,1994.4 L359.7,1992.9 L358.8,1991.2 L357.6,1989.4 L356.1,1987.4 L354.3,1985.3 L352.4,1983.3 L350.4,1981.3 L348.4,1979.4 L346.5,1977.8 L344.8,1976.4 L343.2,1975.2 L341.7,1974.2 L340.1,1973.4 L338.6,1972.7 L337.2,1972.1 L335.8,1971.7 L334.5,1971.5 L333.3,1971.4 L332.1,1971.5 L331.0,1971.7 L330.0,1972.0 L329.0,1972.6 L328.1,1973.2 L327.3,1974.1 L326.5,1975.2 L325.9,1976.4 L325.4,1977.9 L325.0,1979.7 L324.6,1981.7 L324.4,1983.8 L324.2,1986.1 L324.1,1988.4 L324.1,1990.7 L324.2,1992.9 L324.3,1995.2 L324.5,1997.8 L324.7,2000.5 L325.1,2003.2 L325.5,2005.7 L326.0,2007.9 L326.7,2009.8 L327.5,2011.0 L328.5,2011.6 L329.7,2011.7 L331.0,2011.4 L332.4,2010.7 L333.9,2009.9 L335.4,2009.1 L336.9,2008.3 L338.2,2007.7 L339.5,2007.2 L340.8,2006.5 L342.2,2005.8 L343.5,2005.1 L344.7,2004.5 L345.9,2004.0 L347.1,2003.6 L348.1,2003.6 L349.0,2003.8 L349.9,2004.0 L350.7,2004.4 L351.5,2005.0 L352.2,2005.8 L352.8,2006.7 L353.4,2007.9 L353.9,2009.3 L354.4,2011.1 L354.7,2013.5 L355.1,2016.2 L355.3,2019.0 L355.5,2021.8 L355.7,2024.3 L355.9,2026.5 L356.0,2028.0" fill="none" stroke="#141414" stroke-width="6.4" stroke-linecap="round" stroke-linejoin="round"/><path d="M354.7,2026.0 L355.3,2024.3 L356.1,2021.9 L357.1,2019.1 L358.2,2016.0 L359.2,2012.8 L360.1,2009.7 L360.9,2006.8 L361.3,2004.4 L361.5,2002.4 L361.6,2000.5 L361.5,1998.9 L361.3,1997.4 L361.0,1995.9 L360.4,1994.4 L359.7,1992.9 L358.8,1991.2 L357.6,1989.4 L356.1,1987.4 L354.3,1985.3 L352.4,1983.3 L350.4,1981.3 L348.4,1979.4 L346.5,1977.8 L344.8,1976.4 L343.2,1975.2 L341.7,1974.2 L340.1,1973.4 L338.6,1972.7 L337.2,1972.1 L335.8,1971.7 L334.5,1971.5 L333.3,1971.4 L332.1,1971.5 L331.0,1971.7 L330.0,1972.0 L329.0,1972.6 L328.1,1973.2 L327.3,1974.1 L326.5,1975.2 L325.9,1976.4 L325.4,1977.9 L325.0,1979.7 L324.6,1981.7 L324.4,1983.8 L324.2,1986.1 L324.1,1988.4 L324.1,1990.7 L324.2,1992.9 L324.3,1995.2 L324.5,1997.8 L324.7,2000.5 L325.1,2003.2 L325.5,2005.7 L326.0,2007.9 L326.7,2009.8 L327.5,2011.0 L328.5,2011.6 L329.7,2011.7 L331.0,2011.4 L332.4,2010.7 L333.9,2009.9 L335.4,2009.1 L336.9,2008.3 L338.2,2007.7 L339.5,2007.2 L340.8,2006.5 L342.2,2005.8 L343.5,2005.1 L344.7,2004.5 L345.9,2004.0 L347.1,2003.6 L348.1,2003.6 L349.0,2003.8 L349.9,2004.0 L350.7,2004.4 L351.5,2005.0 L352.2,2005.8 L352.8,2006.7 L353.4,2007.9 L353.9,2009.3 L354.4,2011.1 L354.7,2013.5 L355.1,2016.2 L355.3,2019.0 L355.5,2021.8 L355.7,2024.3 L355.9,2026.5 L356.0,2028.0" fill="none" stroke="#0af8a6" stroke-width="4.2" stroke-linecap="round" stroke-linejoin="round"/>
<path d="M282.2,2148.0 L282.1,2150.0 L282.0,2152.8 L281.8,2156.1 L281.7,2159.7 L281.4,2163.4 L281.2,2166.9 L280.9,2170.0 L280.5,2172.5 L280.1,2174.3 L279.8,2175.8 L279.5,2176.9 L279.1,2177.8 L278.5,2178.5 L277.8,2179.2 L276.9,2180.0 L275.6,2180.8 L273.9,2181.7 L271.7,2182.5 L269.1,2183.3 L266.5,2184.0 L263.8,2184.8 L261.3,2185.6 L259.1,2186.4 L257.5,2187.4 L256.3,2188.5 L255.5,2189.6 L254.9,2190.9 L254.5,2192.1 L254.3,2193.4 L254.3,2194.7 L254.2,2196.0 L254.2,2197.3 L254.2,2198.6 L254.4,2199.8 L254.6,2201.1 L255.0,2202.3 L255.4,2203.6 L255.9,2204.9 L256.4,2206.2 L256.9,2207.5 L257.5,2208.9 L258.2,2210.5 L259.0,2212.0 L259.8,2213.6 L260.6,2215.1 L261.3,2216.5 L262.0,2217.6 L262.4,2218.5" fill="none" stroke="#141414" stroke-width="6.4" stroke-linecap="round" stroke-linejoin="round"/><path d="M282.2,2148.0 L282.1,2150.0 L282.0,2152.8 L281.8,2156.1 L281.7,2159.7 L281.4,2163.4 L281.2,2166.9 L280.9,2170.0 L280.5,2172.5 L280.1,2174.3 L279.8,2175.8 L279.5,2176.9 L279.1,2177.8 L278.5,2178.5 L277.8,2179.2 L276.9,2180.0 L275.6,2180.8 L273.9,2181.7 L271.7,2182.5 L269.1,2183.3 L266.5,2184.0 L263.8,2184.8 L261.3,2185.6 L259.1,2186.4 L257.5,2187.4 L256.3,2188.5 L255.5,2189.6 L254.9,2190.9 L254.5,2192.1 L254.3,2193.4 L254.3,2194.7 L254.2,2196.0 L254.2,2197.3 L254.2,2198.6 L254.4,2199.8 L254.6,2201.1 L255.0,2202.3 L255.4,2203.6 L255.9,2204.9 L256.4,2206.2 L256.9,2207.5 L257.5,2208.9 L258.2,2210.5 L259.0,2212.0 L259.8,2213.6 L260.6,2215.1 L261.3,2216.5 L262.0,2217.6 L262.4,2218.5" fill="none" stroke="#0af8a6" stroke-width="4.2" stroke-linecap="round" stroke-linejoin="round"/>
<path d="M315.2,2162.0 L314.9,2163.5 L314.6,2165.6 L314.1,2168.0 L313.7,2170.7 L313.2,2173.5 L312.7,2176.2 L312.3,2178.7 L311.9,2180.8 L311.7,2182.6 L311.5,2184.3 L311.5,2185.8 L311.4,2187.2 L311.3,2188.5 L311.1,2189.8 L310.8,2190.9 L310.2,2192.0 L309.4,2192.9 L308.3,2193.5 L307.0,2194.0 L305.6,2194.4 L304.2,2194.8 L302.9,2195.5 L301.8,2196.5 L300.9,2197.9 L300.2,2199.9 L299.7,2202.3 L299.4,2205.1 L299.1,2208.1 L298.9,2211.0 L298.6,2213.9 L298.4,2216.4 L298.1,2218.5 L297.7,2220.2 L297.4,2221.6 L297.0,2222.8 L296.6,2223.9 L296.2,2224.8 L295.9,2225.5 L295.6,2226.2 L295.4,2226.7" fill="none" stroke="#141414" stroke-width="6.4" stroke-linecap="round" stroke-linejoin="round"/><path d="M315.2,2162.0 L314.9,2163.5 L314.6,2165.6 L314.1,2168.0 L313.7,2170.7 L313.2,2173.5 L312.7,2176.2 L312.3,2178.7 L311.9,2180.8 L311.7,2182.6 L311.5,2184.3 L311.5,2185.8 L311.4,2187.2 L311.3,2188.5 L311.1,2189.8 L310.8,2190.9 L310.2,2192.0 L309.4,2192.9 L308.3,2193.5 L307.0,2194.0 L305.6,2194.4 L304.2,2194.8 L302.9,2195.5 L301.8,2196.5 L300.9,2197.9 L300.2,2199.9 L299.7,2202.3 L299.4,2205.1 L299.1,2208.1 L298.9,2211.0 L298.6,2213.9 L298.4,2216.4 L298.1,2218.5 L297.7,2220.2 L297.4,2221.6 L297.0,2222.8 L296.6,2223.9 L296.2,2224.8 L295.9,2225.5 L295.6,2226.2 L295.4,2226.7" fill="none" stroke="#0af8a6" stroke-width="4.2" stroke-linecap="round" stroke-linejoin="round"/>
<path d="M262.4,2214.3 L262.7,2212.8 L263.0,2210.8 L263.3,2208.3 L263.8,2205.7 L264.4,2203.0 L265.2,2200.4 L266.4,2198.2 L267.9,2196.5 L269.9,2195.3 L272.5,2194.4 L275.4,2193.7 L278.6,2193.2 L281.7,2192.8 L284.8,2192.6 L287.6,2192.5 L289.9,2192.4 L291.8,2192.4 L293.5,2192.5 L295.0,2192.8 L296.3,2193.2 L297.6,2193.6 L298.7,2194.1 L299.8,2194.6 L300.9,2195.1 L302.0,2195.7 L303.1,2196.4 L304.1,2197.2 L305.0,2198.0 L305.8,2198.8 L306.6,2199.5 L307.2,2200.2 L307.7,2200.6" fill="none" stroke="#141414" stroke-width="6.4" stroke-linecap="round" stroke-linejoin="round"/><path d="M262.4,2214.3 L262.7,2212.8 L263.0,2210.8 L263.3,2208.3 L263.8,2205.7 L264.4,2203.0 L265.2,2200.4 L266.4,2198.2 L267.9,2196.5 L269.9,2195.3 L272.5,2194.4 L275.4,2193.7 L278.6,2193.2 L281.7,2192.8 L284.8,2192.6 L287.6,2192.5 L289.9,2192.4 L291.8,2192.4 L293.5,2192.5 L295.0,2192.8 L296.3,2193.2 L297.6,2193.6 L298.7,2194.1 L299.8,2194.6 L300.9,2195.1 L302.0,2195.7 L303.1,2196.4 L304.1,2197.2 L305.0,2198.0 L305.8,2198.8 L306.6,2199.5 L307.2,2200.2 L307.7,2200.6" fill="none" stroke="#0af8a6" stroke-width="4.2" stroke-linecap="round" stroke-linejoin="round"/>
<path d="M289.9,2207.5 L291.4,2206.9 L293.4,2206.2 L295.9,2205.3 L298.6,2204.3 L301.3,2203.2 L303.9,2201.9 L306.1,2200.6 L307.7,2199.2 L308.8,2197.6 L309.5,2195.8 L309.9,2193.8 L310.2,2191.7 L310.3,2189.6 L310.3,2187.6 L310.4,2185.7 L310.5,2184.1 L310.7,2182.6 L310.8,2181.2 L310.9,2179.8 L310.9,2178.6 L311.0,2177.5 L311.0,2176.5 L311.0,2175.7 L311.0,2175.0" fill="none" stroke="#141414" stroke-width="6.4" stroke-linecap="round" stroke-linejoin="round"/><path d="M289.9,2207.5 L291.4,2206.9 L293.4,2206.2 L295.9,2205.3 L298.6,2204.3 L301.3,2203.2 L303.9,2201.9 L306.1,2200.6 L307.7,2199.2 L308.8,2197.6 L309.5,2195.8 L309.9,2193.8 L310.2,2191.7 L310.3,2189.6 L310.3,2187.6 L310.4,2185.7 L310.5,2184.1 L310.7,2182.6 L310.8,2181.2 L310.9,2179.8 L310.9,2178.6 L311.0,2177.5 L311.0,2176.5 L311.0,2175.7 L311.0,2175.0" fill="none" stroke="#0af8a6" stroke-width="4.2" stroke-linecap="round" stroke-linejoin="round"/>
<path d="M316.8,2170.9 L317.8,2170.7 L319.1,2170.4 L320.7,2170.1 L322.5,2169.7 L324.4,2169.4 L326.3,2169.1 L328.2,2169.0 L330.0,2169.0 L331.9,2169.2 L333.9,2169.5 L335.9,2169.9 L338.0,2170.3 L340.0,2170.8 L341.9,2171.4 L343.5,2172.0 L344.8,2172.5 L345.8,2173.0 L346.6,2173.6 L347.2,2174.1 L347.6,2174.7 L347.9,2175.3 L348.0,2176.0 L348.1,2176.7 L348.1,2177.5 L347.9,2178.3 L347.4,2179.0 L346.7,2179.7 L346.0,2180.6 L345.3,2181.5 L344.8,2182.6 L344.6,2184.0 L344.8,2185.7 L345.5,2187.7 L346.5,2190.1 L347.9,2192.6 L349.4,2195.4 L351.0,2198.3 L352.7,2201.3 L354.3,2204.4 L355.8,2207.5 L357.3,2210.7 L358.8,2214.1 L360.4,2217.7 L362.0,2221.3 L363.5,2224.9 L364.8,2228.4 L366.0,2231.8 L366.8,2234.9 L367.4,2237.8 L367.8,2240.6 L368.0,2243.2 L368.0,2245.8 L367.9,2248.3 L367.6,2250.7 L367.3,2253.1 L366.8,2255.5 L366.2,2257.9 L365.5,2260.4 L364.6,2262.9 L363.6,2265.3 L362.4,2267.6 L361.2,2269.8 L359.9,2271.7 L358.6,2273.4 L357.0,2274.8 L355.2,2276.1 L353.2,2277.1 L351.2,2278.0 L349.2,2278.7 L347.4,2279.3 L345.9,2279.8 L344.8,2280.3" fill="none" stroke="#141414" stroke-width="6.4" stroke-linecap="round" stroke-linejoin="round"/><path d="M316.8,2170.9 L317.8,2170.7 L319.1,2170.4 L320.7,2170.1 L322.5,2169.7 L324.4,2169.4 L326.3,2169.1 L328.2,2169.0 L330.0,2169.0 L331.9,2169.2 L333.9,2169.5 L335.9,2169.9 L338.0,2170.3 L340.0,2170.8 L341.9,2171.4 L343.5,2172.0 L344.8,2172.5 L345.8,2173.0 L346.6,2173.6 L347.2,2174.1 L347.6,2174.7 L347.9,2175.3 L348.0,2176.0 L348.1,2176.7 L348.1,2177.5 L347.9,2178.3 L347.4,2179.0 L346.7,2179.7 L346.0,2180.6 L345.3,2181.5 L344.8,2182.6 L344.6,2184.0 L344.8,2185.7 L345.5,2187.7 L346.5,2190.1 L347.9,2192.6 L349.4,2195.4 L351.0,2198.3 L352.7,2201.3 L354.3,2204.4 L355.8,2207.5 L357.3,2210.7 L358.8,2214.1 L360.4,2217.7 L362.0,2221.3 L363.5,2224.9 L364.8,2228.4 L366.0,2231.8 L366.8,2234.9 L367.4,2237.8 L367.8,2240.6 L368.0,2243.2 L368.0,2245.8 L367.9,2248.3 L367.6,2250.7 L367.3,2253.1 L366.8,2255.5 L366.2,2257.9 L365.5,2260.4 L364.6,2262.9 L363.6,2265.3 L362.4,2267.6 L361.2,2269.8 L359.9,2271.7 L358.6,2273.4 L357.0,2274.8 L355.2,2276.1 L353.2,2277.1 L351.2,2278.0 L349.2,2278.7 L347.4,2279.3 L345.9,2279.8 L344.8,2280.3" fill="none" stroke="#0af8a6" stroke-width="4.2" stroke-linecap="round" stroke-linejoin="round"/>
<path d="M265.7,2101.6 L264.9,2102.2 L263.8,2103.1 L262.6,2104.1 L261.2,2105.2 L259.6,2106.4 L257.9,2107.6 L256.1,2108.8 L254.2,2109.9 L252.0,2110.9 L249.6,2111.9 L246.9,2112.9 L244.1,2113.9 L241.3,2114.9 L238.7,2115.9 L236.4,2117.0 L234.4,2118.1 L232.8,2119.2 L231.4,2120.3 L230.2,2121.4 L229.2,2122.5 L228.3,2123.7 L227.5,2125.0 L226.8,2126.4 L226.2,2128.0 L225.7,2129.9 L225.3,2132.0 L225.0,2134.4 L224.8,2136.9 L224.7,2139.2 L224.7,2141.4 L224.6,2143.2 L224.5,2144.5" fill="none" stroke="#141414" stroke-width="6.4" stroke-linecap="round" stroke-linejoin="round"/><path d="M265.7,2101.6 L264.9,2102.2 L263.8,2103.1 L262.6,2104.1 L261.2,2105.2 L259.6,2106.4 L257.9,2107.6 L256.1,2108.8 L254.2,2109.9 L252.0,2110.9 L249.6,2111.9 L246.9,2112.9 L244.1,2113.9 L241.3,2114.9 L238.7,2115.9 L236.4,2117.0 L234.4,2118.1 L232.8,2119.2 L231.4,2120.3 L230.2,2121.4 L229.2,2122.5 L228.3,2123.7 L227.5,2125.0 L226.8,2126.4 L226.2,2128.0 L225.7,2129.9 L225.3,2132.0 L225.0,2134.4 L224.8,2136.9 L224.7,2139.2 L224.7,2141.4 L224.6,2143.2 L224.5,2144.5" fill="none" stroke="#0af8a6" stroke-width="4.2" stroke-linecap="round" stroke-linejoin="round"/>
<path d="M265.7,2101.6 L266.3,2101.3 L267.1,2100.8 L268.1,2100.1 L269.2,2099.5 L270.3,2098.9 L271.1,2098.4 L271.8,2098.1 L272.0,2098.0 L271.8,2098.2 L271.2,2098.8 L270.4,2099.5 L269.4,2100.3 L268.4,2101.1 L267.4,2101.9 L266.5,2102.6 L266.0,2103.0" fill="none" stroke="#141414" stroke-width="6.4" stroke-linecap="round" stroke-linejoin="round"/><path d="M265.7,2101.6 L266.3,2101.3 L267.1,2100.8 L268.1,2100.1 L269.2,2099.5 L270.3,2098.9 L271.1,2098.4 L271.8,2098.1 L272.0,2098.0 L271.8,2098.2 L271.2,2098.8 L270.4,2099.5 L269.4,2100.3 L268.4,2101.1 L267.4,2101.9 L266.5,2102.6 L266.0,2103.0" fill="none" stroke="#0af8a6" stroke-width="4.2" stroke-linecap="round" stroke-linejoin="round"/>
<path d="M230.8,2181.4 L231.7,2182.3 L233.1,2183.4 L234.7,2184.7 L236.5,2186.3 L238.2,2187.9 L239.8,2189.8 L241.0,2191.7 L241.8,2193.7 L242.1,2195.9 L242.2,2198.5 L241.9,2201.2 L241.5,2204.1 L240.9,2206.9 L240.3,2209.6 L239.7,2212.1 L239.1,2214.3 L238.5,2216.1 L237.8,2217.7 L236.9,2219.1 L236.1,2220.3 L235.3,2221.5 L234.6,2222.7 L234.0,2223.9 L233.6,2225.3 L233.4,2226.9 L233.5,2228.6 L233.6,2230.4 L233.9,2232.2 L234.2,2233.9 L234.5,2235.4 L234.8,2236.7 L234.9,2237.7" fill="none" stroke="#141414" stroke-width="6.4" stroke-linecap="round" stroke-linejoin="round"/><path d="M230.8,2181.4 L231.7,2182.3 L233.1,2183.4 L234.7,2184.7 L236.5,2186.3 L238.2,2187.9 L239.8,2189.8 L241.0,2191.7 L241.8,2193.7 L242.1,2195.9 L242.2,2198.5 L241.9,2201.2 L241.5,2204.1 L240.9,2206.9 L240.3,2209.6 L239.7,2212.1 L239.1,2214.3 L238.5,2216.1 L237.8,2217.7 L236.9,2219.1 L236.1,2220.3 L235.3,2221.5 L234.6,2222.7 L234.0,2223.9 L233.6,2225.3 L233.4,2226.9 L233.5,2228.6 L233.6,2230.4 L233.9,2232.2 L234.2,2233.9 L234.5,2235.4 L234.8,2236.7 L234.9,2237.7" fill="none" stroke="#0af8a6" stroke-width="4.2" stroke-linecap="round" stroke-linejoin="round"/>
<path d="M317.4,2256.9 L317.6,2255.2 L317.9,2252.7 L318.2,2249.8 L318.6,2246.6 L319.0,2243.5 L319.4,2240.8 L319.7,2238.8 L320.1,2237.7 L320.4,2237.7 L320.7,2238.5 L320.9,2239.9 L321.2,2241.7 L321.5,2243.7 L321.8,2245.6 L322.3,2247.4 L322.9,2248.7 L323.6,2249.7 L324.4,2250.7 L325.3,2251.6 L326.3,2252.5 L327.4,2253.2 L328.5,2253.7 L329.8,2254.1 L331.1,2254.2 L332.6,2254.1 L334.3,2253.9 L336.1,2253.4 L337.9,2252.8 L339.8,2252.1 L341.6,2251.1 L343.3,2250.0 L344.8,2248.7 L346.2,2247.1 L347.4,2245.0 L348.7,2242.6 L349.8,2240.1 L350.8,2237.7 L351.7,2235.4 L352.5,2233.5 L353.1,2232.2" fill="none" stroke="#141414" stroke-width="6.4" stroke-linecap="round" stroke-linejoin="round"/><path d="M317.4,2256.9 L317.6,2255.2 L317.9,2252.7 L318.2,2249.8 L318.6,2246.6 L319.0,2243.5 L319.4,2240.8 L319.7,2238.8 L320.1,2237.7 L320.4,2237.7 L320.7,2238.5 L320.9,2239.9 L321.2,2241.7 L321.5,2243.7 L321.8,2245.6 L322.3,2247.4 L322.9,2248.7 L323.6,2249.7 L324.4,2250.7 L325.3,2251.6 L326.3,2252.5 L327.4,2253.2 L328.5,2253.7 L329.8,2254.1 L331.1,2254.2 L332.6,2254.1 L334.3,2253.9 L336.1,2253.4 L337.9,2252.8 L339.8,2252.1 L341.6,2251.1 L343.3,2250.0 L344.8,2248.7 L346.2,2247.1 L347.4,2245.0 L348.7,2242.6 L349.8,2240.1 L350.8,2237.7 L351.7,2235.4 L352.5,2233.5 L353.1,2232.2" fill="none" stroke="#0af8a6" stroke-width="4.2" stroke-linecap="round" stroke-linejoin="round"/>
<path d="M305.0,2263.8 L304.1,2264.5 L302.9,2265.4 L301.4,2266.4 L299.8,2267.6 L298.2,2268.9 L296.6,2270.3 L295.2,2271.8 L294.0,2273.4 L293.0,2275.2 L292.1,2277.1 L291.4,2279.2 L290.7,2281.4 L290.0,2283.6 L289.5,2285.8 L289.0,2287.9 L288.5,2289.9 L288.1,2291.8 L287.9,2293.6 L287.7,2295.5 L287.6,2297.3 L287.5,2299.0 L287.4,2300.6 L287.3,2302.2 L287.1,2303.6 L286.8,2305.0 L286.5,2306.2 L286.1,2307.5 L285.7,2308.6 L285.3,2309.6 L284.9,2310.5 L284.6,2311.3 L284.4,2311.9" fill="none" stroke="#141414" stroke-width="6.4" stroke-linecap="round" stroke-linejoin="round"/><path d="M305.0,2263.8 L304.1,2264.5 L302.9,2265.4 L301.4,2266.4 L299.8,2267.6 L298.2,2268.9 L296.6,2270.3 L295.2,2271.8 L294.0,2273.4 L293.0,2275.2 L292.1,2277.1 L291.4,2279.2 L290.7,2281.4 L290.0,2283.6 L289.5,2285.8 L289.0,2287.9 L288.5,2289.9 L288.1,2291.8 L287.9,2293.6 L287.7,2295.5 L287.6,2297.3 L287.5,2299.0 L287.4,2300.6 L287.3,2302.2 L287.1,2303.6 L286.8,2305.0 L286.5,2306.2 L286.1,2307.5 L285.7,2308.6 L285.3,2309.6 L284.9,2310.5 L284.6,2311.3 L284.4,2311.9" fill="none" stroke="#0af8a6" stroke-width="4.2" stroke-linecap="round" stroke-linejoin="round"/>
<path d="M237.7,2251.4 L237.4,2251.8 L237.1,2252.3 L236.6,2252.8 L236.1,2253.5 L235.7,2254.2 L235.3,2255.0 L235.0,2255.9 L234.9,2256.9 L235.0,2258.0 L235.4,2259.3 L235.9,2260.7 L236.5,2262.2 L237.0,2263.7 L237.5,2265.2 L237.7,2266.6 L237.7,2267.9 L237.4,2269.1 L237.0,2270.2 L236.5,2271.2 L235.8,2272.2 L235.0,2273.2 L234.2,2274.2 L233.2,2275.2 L232.2,2276.2 L231.0,2277.3 L229.6,2278.4 L228.0,2279.6 L226.4,2280.8 L224.8,2281.9 L223.3,2282.9 L222.1,2283.8 L221.2,2284.4" fill="none" stroke="#141414" stroke-width="6.4" stroke-linecap="round" stroke-linejoin="round"/><path d="M237.7,2251.4 L237.4,2251.8 L237.1,2252.3 L236.6,2252.8 L236.1,2253.5 L235.7,2254.2 L235.3,2255.0 L235.0,2255.9 L234.9,2256.9 L235.0,2258.0 L235.4,2259.3 L235.9,2260.7 L236.5,2262.2 L237.0,2263.7 L237.5,2265.2 L237.7,2266.6 L237.7,2267.9 L237.4,2269.1 L237.0,2270.2 L236.5,2271.2 L235.8,2272.2 L235.0,2273.2 L234.2,2274.2 L233.2,2275.2 L232.2,2276.2 L231.0,2277.3 L229.6,2278.4 L228.0,2279.6 L226.4,2280.8 L224.8,2281.9 L223.3,2282.9 L222.1,2283.8 L221.2,2284.4" fill="none" stroke="#0af8a6" stroke-width="4.2" stroke-linecap="round" stroke-linejoin="round"/>
<path d="M256.9,2276.2 L256.7,2277.3 L256.4,2278.7 L256.1,2280.5 L255.7,2282.4 L255.3,2284.4 L254.9,2286.3 L254.6,2288.2 L254.2,2289.9 L253.8,2291.5 L253.4,2293.1 L253.0,2294.7 L252.6,2296.3 L252.2,2297.7 L251.9,2299.0 L251.6,2300.1 L251.4,2300.9" fill="none" stroke="#141414" stroke-width="6.4" stroke-linecap="round" stroke-linejoin="round"/><path d="M256.9,2276.2 L256.7,2277.3 L256.4,2278.7 L256.1,2280.5 L255.7,2282.4 L255.3,2284.4 L254.9,2286.3 L254.6,2288.2 L254.2,2289.9 L253.8,2291.5 L253.4,2293.1 L253.0,2294.7 L252.6,2296.3 L252.2,2297.7 L251.9,2299.0 L251.6,2300.1 L251.4,2300.9" fill="none" stroke="#0af8a6" stroke-width="4.2" stroke-linecap="round" stroke-linejoin="round"/>
<path d="M241.8,2336.6 L242.7,2337.5 L244.0,2338.6 L245.5,2340.0 L247.1,2341.6 L248.8,2343.2 L250.4,2344.8 L251.7,2346.3 L252.8,2347.6 L253.6,2348.8 L254.1,2350.0 L254.5,2351.2 L254.8,2352.4 L255.1,2353.4 L255.2,2354.4 L255.3,2355.2 L255.5,2355.8" fill="none" stroke="#141414" stroke-width="6.4" stroke-linecap="round" stroke-linejoin="round"/><path d="M241.8,2336.6 L242.7,2337.5 L244.0,2338.6 L245.5,2340.0 L247.1,2341.6 L248.8,2343.2 L250.4,2344.8 L251.7,2346.3 L252.8,2347.6 L253.6,2348.8 L254.1,2350.0 L254.5,2351.2 L254.8,2352.4 L255.1,2353.4 L255.2,2354.4 L255.3,2355.2 L255.5,2355.8" fill="none" stroke="#0af8a6" stroke-width="4.2" stroke-linecap="round" stroke-linejoin="round"/>
<path d="M348.3,2033.4 L347.0,2035.2 L345.1,2037.6 L342.9,2040.4 L340.5,2043.5 L337.9,2046.9 L335.3,2050.3 L332.7,2053.6 L330.4,2056.8 L328.1,2059.8 L325.8,2062.9 L323.5,2065.9 L321.2,2069.0 L318.9,2072.1 L316.6,2075.2 L314.4,2078.3 L312.3,2081.3 L310.2,2084.3 L308.2,2087.2 L306.3,2090.2 L304.4,2093.0 L302.6,2095.9 L300.8,2098.6 L299.0,2101.3 L297.3,2103.9 L295.6,2106.5 L293.9,2109.0 L292.2,2111.4 L290.5,2113.9 L288.8,2116.4 L287.2,2118.9 L285.6,2121.5 L284.2,2124.1 L282.8,2126.9 L281.4,2129.7 L280.2,2132.4 L279.1,2135.1 L278.1,2137.6 L277.3,2139.7 L276.6,2141.4 L276.1,2142.7 L293.9,2149.3 L294.4,2147.8 L295.0,2145.9 L295.6,2143.7 L296.4,2141.4 L297.2,2138.9 L298.0,2136.5 L298.9,2134.1 L299.8,2131.9 L300.8,2129.7 L302.0,2127.5 L303.3,2125.1 L304.6,2122.7 L306.1,2120.2 L307.6,2117.6 L309.1,2114.9 L310.7,2112.1 L312.3,2109.3 L313.8,2106.4 L315.4,2103.5 L317.0,2100.6 L318.6,2097.6 L320.3,2094.7 L322.0,2091.7 L323.7,2088.7 L325.5,2085.6 L327.5,2082.5 L329.4,2079.3 L331.5,2076.1 L333.5,2072.8 L335.6,2069.6 L337.6,2066.4 L339.6,2063.2 L341.7,2059.9 L344.0,2056.4 L346.3,2052.9 L348.6,2049.3 L350.8,2046.0 L352.8,2043.0 L354.4,2040.5 L355.7,2038.6 Z" fill="#0af8a6" stroke="#141414" stroke-width="1.15" stroke-linejoin="round"/>
<path d="M352.4,2030.8 L351.9,2032.9 L351.4,2035.8 L350.7,2039.2 L350.0,2042.9 L349.2,2046.9 L348.4,2051.0 L347.6,2055.0 L346.9,2058.8 L346.2,2062.5 L345.5,2066.3 L344.8,2070.1 L344.1,2073.8 L343.4,2077.6 L342.6,2081.3 L341.8,2084.9 L340.9,2088.5 L340.0,2092.0 L339.0,2095.5 L338.0,2099.0 L336.9,2102.5 L335.8,2105.9 L334.6,2109.2 L333.4,2112.5 L332.2,2115.6 L330.9,2118.7 L329.6,2121.6 L328.1,2124.6 L326.6,2127.5 L325.0,2130.4 L323.5,2133.3 L321.9,2136.2 L320.4,2139.2 L318.9,2142.2 L317.3,2145.4 L315.7,2148.6 L312.4,2146.9 L315.0,2164.0 L330.3,2155.8 L326.9,2154.2 L328.5,2151.0 L330.1,2147.8 L331.6,2144.8 L333.0,2142.0 L334.5,2139.2 L336.1,2136.3 L337.7,2133.3 L339.3,2130.2 L340.8,2127.0 L342.3,2123.7 L343.8,2120.4 L345.1,2116.9 L346.4,2113.4 L347.6,2109.9 L348.8,2106.3 L350.0,2102.6 L351.0,2099.0 L352.1,2095.3 L353.1,2091.5 L354.0,2087.7 L354.8,2083.9 L355.6,2080.0 L356.4,2076.2 L357.1,2072.3 L357.8,2068.5 L358.4,2064.8 L359.1,2061.2 L359.9,2057.4 L360.7,2053.4 L361.5,2049.3 L362.3,2045.3 L363.0,2041.6 L363.7,2038.2 L364.2,2035.3 L364.6,2033.2 Z" fill="#0af8a6" stroke="#141414" stroke-width="1.15" stroke-linejoin="round"/>
<path d="M232.6,2250.6 L233.9,2249.6 L235.6,2248.3 L237.7,2246.7 L239.9,2245.0 L242.3,2243.3 L244.7,2241.5 L247.1,2239.7 L249.3,2238.2 L251.6,2236.6 L254.2,2234.9 L256.6,2238.6 L263.8,2219.8 L243.4,2218.6 L245.9,2222.4 L243.2,2224.1 L240.7,2225.8 L238.3,2227.6 L235.8,2229.4 L233.3,2231.2 L230.8,2233.1 L228.6,2234.8 L226.5,2236.4 L224.9,2237.7 L223.6,2238.6 Z" fill="#0af8a6" stroke="#141414" stroke-width="1.15" stroke-linejoin="round"/>
<path d="M282.2,2202.3 L281.7,2204.2 L281.0,2206.7 L280.2,2209.7 L279.3,2213.0 L278.3,2216.5 L277.3,2219.9 L276.4,2223.2 L275.4,2226.0 L274.5,2228.7 L273.6,2231.3 L272.6,2233.8 L271.6,2236.3 L270.6,2238.7 L269.6,2241.2 L268.5,2243.6 L267.5,2246.0 L266.4,2248.5 L265.1,2251.0 L263.8,2253.6 L262.5,2256.1 L261.3,2258.6 L257.8,2256.8 L260.0,2276.0 L276.3,2266.3 L272.8,2264.6 L274.1,2262.1 L275.4,2259.4 L276.8,2256.7 L278.1,2254.0 L279.3,2251.4 L280.5,2248.8 L281.6,2246.3 L282.6,2243.7 L283.7,2241.1 L284.7,2238.5 L285.8,2235.8 L286.8,2233.0 L287.8,2230.2 L288.8,2227.0 L289.8,2223.6 L290.8,2220.0 L291.8,2216.5 L292.7,2213.1 L293.6,2210.1 L294.2,2207.6 L294.8,2205.7 Z" fill="#0af8a6" stroke="#141414" stroke-width="1.15" stroke-linejoin="round"/>
<path d="M290.1,2228.1 L290.7,2229.4 L291.7,2231.0 L292.7,2233.0 L293.8,2235.1 L295.0,2237.4 L296.1,2239.7 L297.1,2241.9 L298.0,2243.9 L298.8,2246.1 L299.6,2248.7 L296.1,2249.8 L309.1,2261.0 L314.4,2244.0 L311.0,2245.1 L310.1,2242.3 L309.2,2239.7 L308.1,2237.1 L307.0,2234.5 L305.7,2232.0 L304.5,2229.6 L303.3,2227.3 L302.2,2225.4 L301.4,2223.7 L300.7,2222.5 Z" fill="#0af8a6" stroke="#141414" stroke-width="1.15" stroke-linejoin="round"/>
<path d="M243.8,2300.3 L243.0,2301.8 L241.9,2303.8 L240.7,2306.2 L239.2,2308.9 L237.7,2311.8 L236.1,2314.8 L234.5,2317.9 L232.9,2321.0 L231.3,2324.1 L229.6,2327.4 L227.9,2330.9 L226.1,2334.4 L224.3,2338.0 L222.5,2341.5 L220.8,2345.1 L219.0,2348.6 L217.3,2352.1 L215.5,2355.7 L213.6,2359.3 L211.8,2363.0 L210.0,2366.5 L208.3,2370.0 L206.7,2373.2 L205.3,2376.2 L204.0,2378.9 L200.2,2377.1 L204.0,2396.0 L220.4,2386.7 L216.6,2384.9 L217.9,2382.2 L219.3,2379.3 L220.9,2376.2 L222.6,2372.8 L224.3,2369.3 L226.1,2365.6 L228.0,2362.0 L229.8,2358.3 L231.6,2354.8 L233.3,2351.3 L235.1,2347.8 L236.9,2344.2 L238.6,2340.6 L240.4,2337.1 L242.1,2333.7 L243.8,2330.5 L245.3,2327.4 L246.9,2324.4 L248.5,2321.3 L250.1,2318.3 L251.6,2315.5 L253.0,2312.8 L254.3,2310.4 L255.4,2308.4 L256.2,2306.9 Z" fill="#0af8a6" stroke="#141414" stroke-width="1.15" stroke-linejoin="round"/>
<path d="M251.8,2432.3 L251.0,2431.5 L249.8,2430.7 L248.7,2429.8 L247.5,2428.8 L246.4,2427.9 L245.7,2427.2 L245.3,2426.7 L245.2,2426.7 L245.3,2426.8 L245.3,2426.8 L245.3,2426.8 L245.3,2426.6 L245.4,2425.9 L245.6,2424.8 L246.0,2423.3 L246.3,2421.5 L246.7,2419.6 L247.2,2417.5 L247.7,2415.3 L248.3,2412.9 L249.0,2410.4 L249.8,2407.8 L250.6,2405.2 L251.6,2402.4 L252.8,2399.6 L254.1,2396.4 L255.6,2393.1 L257.1,2389.6 L258.8,2386.1 L260.5,2382.5 L262.1,2378.9 L263.7,2375.4 L265.3,2372.0 L266.8,2368.5 L268.4,2365.1 L270.0,2361.7 L271.6,2358.2 L273.1,2354.7 L274.7,2351.2 L276.2,2347.8 L277.7,2344.2 L279.3,2340.4 L280.9,2336.6 L282.5,2332.7 L283.9,2329.1 L288.1,2330.8 L281.0,2309.0 L265.9,2321.8 L270.0,2323.5 L268.6,2327.1 L267.1,2330.8 L265.5,2334.6 L263.9,2338.3 L262.4,2341.8 L260.9,2345.2 L259.4,2348.6 L257.9,2352.0 L256.4,2355.4 L254.8,2358.9 L253.2,2362.3 L251.6,2365.8 L250.1,2369.2 L248.5,2372.7 L246.9,2376.2 L245.2,2379.8 L243.5,2383.4 L241.9,2386.9 L240.3,2390.5 L238.9,2393.9 L237.6,2397.2 L236.5,2400.3 L235.5,2403.4 L234.6,2406.3 L233.8,2409.1 L233.1,2411.7 L232.6,2414.2 L232.1,2416.5 L231.7,2418.5 L231.3,2420.2 L231.0,2421.7 L230.7,2423.3 L230.4,2425.0 L230.3,2426.9 L230.4,2428.9 L230.9,2431.0 L231.8,2433.3 L233.1,2435.6 L234.7,2437.5 L236.4,2439.0 L237.9,2440.4 L239.4,2441.6 L240.7,2442.6 L241.6,2443.3 L242.2,2443.7 Z" fill="#0af8a6" stroke="#141414" stroke-width="1.15" stroke-linejoin="round"/>
<path d="M336.1,2276.7 L334.7,2278.4 L332.8,2280.6 L330.6,2283.3 L328.0,2286.4 L325.4,2289.6 L322.8,2292.8 L320.2,2296.0 L318.0,2298.9 L316.0,2301.6 L314.2,2304.2 L312.4,2306.7 L310.7,2309.2 L308.9,2311.8 L307.2,2314.5 L305.5,2317.3 L303.8,2320.4 L302.0,2323.6 L300.2,2327.1 L298.4,2330.6 L296.7,2334.1 L295.0,2337.7 L293.2,2341.3 L291.6,2344.8 L289.9,2348.2 L288.2,2351.6 L286.4,2355.1 L284.7,2358.5 L282.9,2361.9 L281.1,2365.4 L279.4,2368.9 L277.7,2372.4 L276.0,2375.9 L274.4,2379.3 L272.7,2382.9 L271.0,2386.4 L269.4,2389.9 L267.8,2393.5 L266.3,2397.0 L264.8,2400.4 L263.5,2403.7 L262.2,2406.9 L261.0,2410.1 L259.9,2413.2 L258.8,2416.3 L257.8,2419.3 L256.9,2422.4 L256.1,2425.4 L255.4,2428.5 L254.9,2431.5 L254.5,2434.5 L254.2,2437.3 L254.1,2440.1 L254.0,2442.8 L254.1,2445.5 L254.1,2448.0 L254.3,2450.5 L254.5,2453.1 L254.8,2455.7 L255.2,2458.2 L255.7,2460.6 L256.1,2462.8 L256.6,2464.9 L257.0,2466.9 L257.4,2468.7 L257.9,2470.5 L258.3,2472.4 L258.8,2474.1 L259.2,2475.7 L259.7,2477.2 L260.0,2478.4 L260.3,2479.4 L260.5,2480.1 L275.5,2475.9 L275.2,2475.0 L274.9,2473.9 L274.5,2472.7 L274.1,2471.4 L273.7,2470.0 L273.3,2468.5 L272.9,2466.9 L272.6,2465.3 L272.2,2463.5 L271.7,2461.5 L271.3,2459.6 L270.8,2457.5 L270.5,2455.5 L270.1,2453.5 L269.9,2451.5 L269.7,2449.5 L269.6,2447.4 L269.6,2445.1 L269.5,2442.9 L269.6,2440.7 L269.7,2438.4 L269.9,2436.2 L270.2,2433.9 L270.6,2431.5 L271.1,2429.1 L271.8,2426.6 L272.6,2424.0 L273.5,2421.3 L274.5,2418.5 L275.5,2415.5 L276.7,2412.5 L277.9,2409.5 L279.2,2406.3 L280.5,2403.1 L282.0,2399.8 L283.5,2396.4 L285.1,2392.9 L286.7,2389.4 L288.4,2386.0 L290.0,2382.5 L291.6,2379.2 L293.3,2375.8 L295.0,2372.4 L296.7,2369.0 L298.5,2365.5 L300.2,2362.1 L302.0,2358.6 L303.7,2355.2 L305.5,2351.6 L307.2,2348.0 L308.9,2344.4 L310.6,2340.9 L312.3,2337.4 L314.0,2334.1 L315.6,2331.0 L317.2,2328.0 L318.8,2325.3 L320.4,2322.7 L322.0,2320.2 L323.5,2317.9 L325.1,2315.6 L326.8,2313.2 L328.5,2310.8 L330.4,2308.3 L332.5,2305.5 L334.8,2302.5 L337.4,2299.4 L340.0,2296.3 L342.5,2293.3 L344.7,2290.6 L346.6,2288.3 L348.1,2286.5 Z" fill="#0af8a6" stroke="#141414" stroke-width="1.15" stroke-linejoin="round"/>
<path d="M273.5,2482.3 L274.5,2481.0 L275.8,2479.5 L277.3,2477.5 L279.2,2475.2 L281.2,2472.6 L283.4,2469.6 L285.6,2466.3 L288.0,2462.7 L290.4,2458.6 L293.0,2454.0 L295.8,2449.0 L298.7,2443.8 L301.6,2438.5 L304.4,2433.2 L307.2,2428.1 L309.8,2423.3 L312.2,2418.8 L314.6,2414.3 L317.0,2409.9 L319.3,2405.6 L321.6,2401.3 L323.7,2397.1 L325.8,2393.1 L327.8,2389.1 L329.6,2385.3 L331.4,2381.7 L333.0,2378.2 L334.6,2374.8 L336.1,2371.4 L337.6,2368.0 L339.0,2364.6 L340.3,2361.1 L341.6,2357.6 L342.9,2354.0 L344.1,2350.5 L345.2,2346.9 L346.3,2343.3 L347.3,2339.7 L348.2,2336.1 L349.0,2332.4 L349.6,2328.5 L350.1,2324.5 L350.5,2320.5 L350.8,2316.6 L351.1,2312.9 L355.2,2313.2 L347.0,2296.0 L332.9,2311.7 L337.1,2312.0 L336.8,2315.6 L336.6,2319.3 L336.2,2323.0 L335.8,2326.5 L335.2,2329.8 L334.5,2333.0 L333.7,2336.2 L332.8,2339.5 L331.9,2342.8 L330.8,2346.1 L329.7,2349.4 L328.5,2352.8 L327.3,2356.1 L326.0,2359.4 L324.7,2362.6 L323.3,2365.8 L321.9,2369.0 L320.4,2372.3 L318.8,2375.7 L317.0,2379.2 L315.2,2382.9 L313.3,2386.7 L311.3,2390.7 L309.2,2394.8 L306.9,2399.0 L304.7,2403.3 L302.3,2407.7 L299.9,2412.1 L297.4,2416.7 L294.9,2421.5 L292.1,2426.5 L289.3,2431.8 L286.4,2437.1 L283.6,2442.2 L280.9,2447.1 L278.3,2451.5 L276.0,2455.3 L274.0,2458.6 L271.9,2461.6 L270.0,2464.2 L268.1,2466.6 L266.4,2468.8 L264.9,2470.6 L263.5,2472.3 L262.5,2473.7 Z" fill="#0af8a6" stroke="#141414" stroke-width="1.15" stroke-linejoin="round"/>
<path d="M219.1,2397.0 L219.8,2397.5 L220.7,2398.0 L221.9,2398.5 L223.1,2399.2 L224.4,2400.1 L225.5,2401.2 L226.4,2402.6 L227.0,2404.4 L227.2,2406.7 L227.1,2409.5 L226.7,2412.6 L226.3,2416.0 L225.8,2419.4 L225.5,2422.6 L225.3,2425.5 L225.4,2428.0 L225.7,2430.0 L226.2,2431.8 L226.8,2433.4 L227.5,2434.8 L228.3,2436.1 L229.3,2437.1 L230.4,2438.1 L231.7,2438.9 L233.2,2439.5 L235.1,2439.7 L237.1,2439.7 L239.2,2439.6 L241.4,2439.6 L243.5,2439.6 L245.5,2439.8 L247.3,2440.4 L248.9,2441.3 L250.5,2442.3 L251.9,2443.4 L253.3,2444.7 L254.6,2446.2 L255.9,2447.8 L257.1,2449.5 L258.3,2451.4 L259.5,2453.7 L260.6,2456.4 L261.8,2459.3 L262.8,2462.4 L263.8,2465.4 L264.7,2468.1 L265.4,2470.3 L266.0,2472.0" fill="none" stroke="#141414" stroke-width="6.4" stroke-linecap="round" stroke-linejoin="round"/><path d="M219.1,2397.0 L219.8,2397.5 L220.7,2398.0 L221.9,2398.5 L223.1,2399.2 L224.4,2400.1 L225.5,2401.2 L226.4,2402.6 L227.0,2404.4 L227.2,2406.7 L227.1,2409.5 L226.7,2412.6 L226.3,2416.0 L225.8,2419.4 L225.5,2422.6 L225.3,2425.5 L225.4,2428.0 L225.7,2430.0 L226.2,2431.8 L226.8,2433.4 L227.5,2434.8 L228.3,2436.1 L229.3,2437.1 L230.4,2438.1 L231.7,2438.9 L233.2,2439.5 L235.1,2439.7 L237.1,2439.7 L239.2,2439.6 L241.4,2439.6 L243.5,2439.6 L245.5,2439.8 L247.3,2440.4 L248.9,2441.3 L250.5,2442.3 L251.9,2443.4 L253.3,2444.7 L254.6,2446.2 L255.9,2447.8 L257.1,2449.5 L258.3,2451.4 L259.5,2453.7 L260.6,2456.4 L261.8,2459.3 L262.8,2462.4 L263.8,2465.4 L264.7,2468.1 L265.4,2470.3 L266.0,2472.0" fill="none" stroke="#0af8a6" stroke-width="4.2" stroke-linecap="round" stroke-linejoin="round"/>
<path d="M274.0,2446.7 L276.0,2446.6 L278.6,2446.5 L281.7,2446.4 L285.2,2446.2 L288.9,2446.1 L292.7,2446.0 L296.4,2445.9 L300.0,2446.0 L303.6,2446.2 L307.3,2446.6 L311.2,2447.1 L315.1,2447.6 L318.9,2448.1 L322.6,2448.4 L325.9,2448.5 L328.8,2448.3 L331.3,2447.8 L333.5,2447.2 L335.5,2446.5 L337.2,2445.5 L338.8,2444.4 L340.2,2443.1 L341.6,2441.7 L343.0,2440.0 L344.4,2438.0 L345.9,2435.5 L347.3,2432.8 L348.6,2430.0 L349.7,2427.1 L350.5,2424.4 L350.8,2422.0 L350.7,2420.0 L349.9,2418.4 L348.6,2417.1 L346.8,2416.0 L344.7,2415.1 L342.5,2414.3 L340.3,2413.6 L338.3,2413.0 L336.6,2412.3 L335.2,2411.7 L333.8,2411.2 L332.6,2410.8 L331.4,2410.5 L330.3,2410.2 L329.2,2409.9 L328.2,2409.5 L327.2,2409.1 L326.2,2408.6 L325.3,2407.9 L324.3,2407.2 L323.5,2406.5 L322.7,2405.9 L322.0,2405.3 L321.4,2404.8 L320.9,2404.4" fill="none" stroke="#141414" stroke-width="6.4" stroke-linecap="round" stroke-linejoin="round"/><path d="M274.0,2446.7 L276.0,2446.6 L278.6,2446.5 L281.7,2446.4 L285.2,2446.2 L288.9,2446.1 L292.7,2446.0 L296.4,2445.9 L300.0,2446.0 L303.6,2446.2 L307.3,2446.6 L311.2,2447.1 L315.1,2447.6 L318.9,2448.1 L322.6,2448.4 L325.9,2448.5 L328.8,2448.3 L331.3,2447.8 L333.5,2447.2 L335.5,2446.5 L337.2,2445.5 L338.8,2444.4 L340.2,2443.1 L341.6,2441.7 L343.0,2440.0 L344.4,2438.0 L345.9,2435.5 L347.3,2432.8 L348.6,2430.0 L349.7,2427.1 L350.5,2424.4 L350.8,2422.0 L350.7,2420.0 L349.9,2418.4 L348.6,2417.1 L346.8,2416.0 L344.7,2415.1 L342.5,2414.3 L340.3,2413.6 L338.3,2413.0 L336.6,2412.3 L335.2,2411.7 L333.8,2411.2 L332.6,2410.8 L331.4,2410.5 L330.3,2410.2 L329.2,2409.9 L328.2,2409.5 L327.2,2409.1 L326.2,2408.6 L325.3,2407.9 L324.3,2407.2 L323.5,2406.5 L322.7,2405.9 L322.0,2405.3 L321.4,2404.8 L320.9,2404.4" fill="none" stroke="#0af8a6" stroke-width="4.2" stroke-linecap="round" stroke-linejoin="round"/>
<path d="M280.2,2473.3 L282.9,2472.9 L286.6,2472.4 L291.0,2471.8 L295.8,2471.1 L300.7,2470.3 L305.4,2469.4 L309.7,2468.3 L313.1,2467.0 L315.8,2465.5 L318.1,2463.8 L320.0,2461.8 L321.7,2459.8 L323.2,2457.7 L324.6,2455.5 L325.9,2453.4 L327.2,2451.4 L328.6,2449.4 L329.8,2447.5 L331.1,2445.5 L332.2,2443.6 L333.2,2441.6 L334.0,2439.6 L334.6,2437.7 L335.0,2435.7 L335.2,2433.7 L335.1,2431.7 L334.9,2429.6 L334.5,2427.6 L334.0,2425.6 L333.3,2423.7 L332.6,2421.8 L331.9,2420.0 L331.0,2418.2 L329.9,2416.5 L328.6,2414.7 L327.3,2413.0 L325.9,2411.5 L324.7,2410.1 L323.7,2408.9 L323.0,2408.0" fill="none" stroke="#141414" stroke-width="6.4" stroke-linecap="round" stroke-linejoin="round"/><path d="M280.2,2473.3 L282.9,2472.9 L286.6,2472.4 L291.0,2471.8 L295.8,2471.1 L300.7,2470.3 L305.4,2469.4 L309.7,2468.3 L313.1,2467.0 L315.8,2465.5 L318.1,2463.8 L320.0,2461.8 L321.7,2459.8 L323.2,2457.7 L324.6,2455.5 L325.9,2453.4 L327.2,2451.4 L328.6,2449.4 L329.8,2447.5 L331.1,2445.5 L332.2,2443.6 L333.2,2441.6 L334.0,2439.6 L334.6,2437.7 L335.0,2435.7 L335.2,2433.7 L335.1,2431.7 L334.9,2429.6 L334.5,2427.6 L334.0,2425.6 L333.3,2423.7 L332.6,2421.8 L331.9,2420.0 L331.0,2418.2 L329.9,2416.5 L328.6,2414.7 L327.3,2413.0 L325.9,2411.5 L324.7,2410.1 L323.7,2408.9 L323.0,2408.0" fill="none" stroke="#0af8a6" stroke-width="4.2" stroke-linecap="round" stroke-linejoin="round"/>
<path d="M338.0,2376.4 L337.2,2378.3 L336.1,2380.8 L334.8,2383.9 L333.4,2387.2 L331.9,2390.7 L330.5,2394.1 L329.3,2397.2 L328.4,2399.8 L327.7,2402.1 L327.2,2404.2 L326.7,2406.3 L326.4,2408.1 L326.1,2409.8 L325.9,2411.3 L325.8,2412.5 L325.6,2413.5" fill="none" stroke="#141414" stroke-width="6.4" stroke-linecap="round" stroke-linejoin="round"/><path d="M338.0,2376.4 L337.2,2378.3 L336.1,2380.8 L334.8,2383.9 L333.4,2387.2 L331.9,2390.7 L330.5,2394.1 L329.3,2397.2 L328.4,2399.8 L327.7,2402.1 L327.2,2404.2 L326.7,2406.3 L326.4,2408.1 L326.1,2409.8 L325.9,2411.3 L325.8,2412.5 L325.6,2413.5" fill="none" stroke="#0af8a6" stroke-width="4.2" stroke-linecap="round" stroke-linejoin="round"/>
<path d="M262.3,2474.9 L261.6,2476.2 L260.6,2477.9 L259.5,2480.0 L258.2,2482.4 L256.9,2484.8 L255.6,2487.4 L254.3,2489.9 L253.2,2492.2 L252.2,2494.4 L251.2,2496.5 L250.2,2498.7 L249.2,2500.9 L248.2,2503.2 L247.3,2505.5 L246.5,2508.0 L245.8,2510.5 L245.3,2513.0 L244.9,2515.5 L244.6,2518.0 L244.3,2520.5 L244.2,2522.9 L244.2,2525.3 L244.2,2527.6 L244.2,2529.9 L244.3,2532.2 L244.5,2534.4 L244.8,2536.5 L245.2,2538.5 L245.5,2540.6 L246.0,2542.6 L246.5,2544.5 L246.9,2546.5 L247.4,2548.5 L247.9,2550.4 L248.5,2552.3 L249.1,2554.4 L249.8,2556.5 L250.6,2558.7 L251.6,2561.0 L252.7,2563.6 L254.0,2566.3 L255.5,2569.3 L257.2,2572.3 L258.9,2575.4 L260.7,2578.6 L262.4,2581.6 L263.9,2584.5 L265.4,2587.2 L266.7,2590.0 L268.1,2592.9 L269.5,2595.8 L270.8,2598.7 L272.0,2601.3 L273.1,2603.8 L274.0,2605.8 L274.7,2607.4 L285.7,2602.4 L285.0,2600.9 L284.1,2598.9 L283.0,2596.4 L281.8,2593.7 L280.5,2590.8 L279.1,2587.7 L277.7,2584.7 L276.2,2581.8 L274.7,2578.8 L273.1,2575.7 L271.4,2572.6 L269.7,2569.5 L268.0,2566.5 L266.4,2563.5 L265.1,2560.9 L263.9,2558.4 L263.0,2556.3 L262.2,2554.2 L261.5,2552.4 L261.0,2550.6 L260.4,2548.9 L260.0,2547.2 L259.5,2545.4 L259.1,2543.5 L258.6,2541.6 L258.2,2539.8 L257.8,2538.1 L257.5,2536.4 L257.2,2534.7 L257.0,2533.0 L256.9,2531.3 L256.8,2529.5 L256.8,2527.5 L256.8,2525.5 L256.8,2523.5 L257.0,2521.4 L257.2,2519.4 L257.4,2517.4 L257.8,2515.4 L258.2,2513.5 L258.7,2511.7 L259.3,2509.9 L260.1,2508.0 L260.9,2506.0 L261.8,2504.0 L262.8,2502.0 L263.8,2499.9 L264.8,2497.8 L265.9,2495.6 L267.0,2493.3 L268.3,2490.9 L269.6,2488.5 L270.9,2486.2 L272.0,2484.2 L273.0,2482.4 L273.7,2481.1 Z" fill="#0af8a6" stroke="#141414" stroke-width="1.15" stroke-linejoin="round"/>
<path d="M264.0,2480.5 L264.9,2482.7 L266.1,2485.5 L267.5,2488.9 L269.1,2492.7 L270.8,2496.7 L272.5,2500.8 L274.2,2504.8 L275.8,2508.7 L277.3,2512.4 L278.8,2516.2 L280.4,2520.1 L282.0,2524.1 L283.5,2528.0 L285.1,2532.0 L286.7,2536.0 L288.3,2539.9 L289.9,2544.0 L291.7,2548.1 L293.4,2552.2 L295.1,2556.2 L296.8,2560.1 L298.3,2563.8 L299.5,2567.4 L300.6,2570.6 L301.3,2573.6 L301.9,2576.7 L302.4,2579.6 L302.7,2582.5 L303.0,2585.3 L303.2,2587.9 L303.3,2590.3 L299.4,2590.6 L310.0,2600.0 L320.2,2589.1 L316.3,2589.4 L316.1,2587.0 L315.9,2584.2 L315.6,2581.2 L315.3,2577.9 L314.7,2574.4 L314.0,2570.8 L313.0,2567.0 L311.8,2563.2 L310.4,2559.2 L308.8,2555.2 L307.1,2551.1 L305.4,2547.0 L303.6,2543.0 L301.9,2539.0 L300.3,2535.1 L298.8,2531.2 L297.2,2527.2 L295.6,2523.2 L294.0,2519.3 L292.5,2515.3 L290.9,2511.4 L289.4,2507.5 L287.8,2503.7 L286.2,2499.9 L284.5,2495.8 L282.8,2491.6 L281.1,2487.6 L279.5,2483.8 L278.1,2480.5 L276.9,2477.6 L276.0,2475.5 Z" fill="#0af8a6" stroke="#141414" stroke-width="1.15" stroke-linejoin="round"/>
<path d="M283.4,2605.0 L285.0,2605.8 L287.2,2606.8 L289.8,2607.9 L292.6,2609.2 L295.5,2610.7 L298.2,2612.3 L300.5,2614.0 L302.1,2615.8 L303.1,2617.9 L303.7,2620.4 L304.0,2623.1 L304.1,2625.9 L304.0,2628.6 L303.8,2631.0 L303.7,2633.1 L303.7,2634.6" fill="none" stroke="#141414" stroke-width="6.4" stroke-linecap="round" stroke-linejoin="round"/><path d="M283.4,2605.0 L285.0,2605.8 L287.2,2606.8 L289.8,2607.9 L292.6,2609.2 L295.5,2610.7 L298.2,2612.3 L300.5,2614.0 L302.1,2615.8 L303.1,2617.9 L303.7,2620.4 L304.0,2623.1 L304.1,2625.9 L304.0,2628.6 L303.8,2631.0 L303.7,2633.1 L303.7,2634.6" fill="none" stroke="#0af8a6" stroke-width="4.2" stroke-linecap="round" stroke-linejoin="round"/>
<path d="M310.0,2600.0 L310.8,2601.2 L312.1,2602.8 L313.5,2604.8 L315.1,2606.9 L316.6,2609.2 L317.9,2611.5 L318.9,2613.7 L319.4,2615.8 L319.3,2617.8 L318.7,2620.0 L317.7,2622.1 L316.5,2624.3 L315.3,2626.4 L314.3,2628.3 L313.5,2630.0 L313.1,2631.5 L313.2,2632.7 L313.7,2633.7 L314.3,2634.6 L315.2,2635.2 L316.0,2635.8 L316.9,2636.3 L317.5,2636.6 L318.0,2637.0" fill="none" stroke="#141414" stroke-width="6.4" stroke-linecap="round" stroke-linejoin="round"/><path d="M310.0,2600.0 L310.8,2601.2 L312.1,2602.8 L313.5,2604.8 L315.1,2606.9 L316.6,2609.2 L317.9,2611.5 L318.9,2613.7 L319.4,2615.8 L319.3,2617.8 L318.7,2620.0 L317.7,2622.1 L316.5,2624.3 L315.3,2626.4 L314.3,2628.3 L313.5,2630.0 L313.1,2631.5 L313.2,2632.7 L313.7,2633.7 L314.3,2634.6 L315.2,2635.2 L316.0,2635.8 L316.9,2636.3 L317.5,2636.6 L318.0,2637.0" fill="none" stroke="#0af8a6" stroke-width="4.2" stroke-linecap="round" stroke-linejoin="round"/>
<ellipse cx="326.2" cy="2069.6" rx="87.3" ry="121.3" fill="none" stroke="#ee1111" stroke-width="4.2"/>
<path d="M760.1,2232.2 L759.3,2233.0 L758.0,2234.0 L756.4,2235.3 L754.6,2236.9 L752.7,2238.7 L750.7,2240.7 L748.7,2243.0 L747.1,2245.4 L745.7,2247.8 L744.6,2250.2 L743.5,2252.7 L742.7,2255.3 L741.9,2257.9 L741.2,2260.5 L740.6,2263.1 L740.2,2265.8 L739.8,2268.5 L739.6,2271.4 L739.6,2274.2 L739.6,2277.0 L739.7,2279.7 L739.8,2282.3 L740.0,2284.6 L740.1,2286.9 L740.3,2289.2 L740.6,2291.5 L740.9,2293.6 L741.2,2295.7 L741.5,2297.5 L741.8,2299.1 L742.0,2300.4 L742.2,2301.3 L756.0,2299.1 L755.8,2298.0 L755.6,2296.6 L755.3,2295.1 L755.0,2293.4 L754.7,2291.6 L754.5,2289.7 L754.2,2287.8 L754.1,2285.9 L754.0,2283.8 L753.8,2281.5 L753.7,2279.1 L753.6,2276.7 L753.6,2274.3 L753.6,2272.0 L753.8,2269.9 L754.0,2267.8 L754.4,2265.8 L754.8,2263.7 L755.4,2261.6 L756.0,2259.6 L756.6,2257.7 L757.4,2255.9 L758.2,2254.2 L758.9,2252.8 L759.8,2251.6 L761.0,2250.2 L762.4,2248.8 L763.9,2247.4 L765.5,2246.0 L767.0,2244.7 L768.4,2243.5 L769.5,2242.6 Z" fill="#f21e1e" stroke="#141414" stroke-width="1.15" stroke-linejoin="round"/>
<path d="M772.5,2218.3 L772.8,2221.4 L773.2,2225.6 L773.7,2230.6 L774.2,2236.1 L774.8,2241.8 L775.4,2247.6 L775.9,2252.9 L776.4,2257.7 L776.9,2262.0 L777.4,2266.2 L777.9,2270.3 L778.4,2274.3 L778.9,2278.1 L779.4,2281.6 L779.9,2284.7 L780.4,2287.6 L781.0,2290.2 L781.7,2292.4 L782.5,2294.3 L783.2,2295.9 L783.9,2297.1 L784.5,2298.0 L784.7,2298.5 L784.9,2298.9 L795.7,2293.5 L795.2,2292.7 L794.7,2291.8 L794.3,2291.1 L793.9,2290.4 L793.5,2289.6 L793.1,2288.5 L792.6,2287.1 L792.2,2285.2 L791.7,2282.7 L791.3,2279.8 L790.8,2276.4 L790.3,2272.8 L789.8,2268.9 L789.3,2264.8 L788.8,2260.6 L788.4,2256.3 L787.9,2251.7 L787.3,2246.3 L786.7,2240.7 L786.2,2234.9 L785.6,2229.4 L785.2,2224.4 L784.8,2220.2 L784.5,2217.1 Z" fill="#f21e1e" stroke="#141414" stroke-width="1.15" stroke-linejoin="round"/>
<path d="M863.1,2343.0 L862.5,2341.5 L861.8,2339.5 L860.9,2337.1 L859.9,2334.4 L858.7,2331.5 L857.5,2328.5 L856.2,2325.6 L854.9,2322.8 L853.5,2320.1 L852.0,2317.5 L850.4,2314.9 L848.9,2312.4 L847.3,2309.9 L845.8,2307.5 L844.4,2305.2 L843.1,2302.9 L841.8,2300.5 L840.6,2298.1 L839.4,2295.8 L838.2,2293.3 L837.0,2290.9 L835.9,2288.5 L834.6,2286.0 L833.4,2283.4 L832.1,2280.9 L830.7,2278.5 L829.5,2276.3 L828.2,2274.1 L827.0,2271.9 L825.9,2269.6 L824.8,2267.2 L823.8,2264.6 L822.8,2261.6 L821.7,2258.2 L820.7,2254.6 L819.7,2250.8 L818.8,2247.0 L817.9,2243.2 L817.0,2239.5 L816.3,2236.1 L815.6,2232.7 L815.0,2229.1 L814.4,2225.5 L818.3,2224.9 L806.0,2212.0 L797.7,2228.1 L801.6,2227.5 L802.1,2231.2 L802.8,2235.0 L803.5,2238.7 L804.3,2242.4 L805.2,2246.2 L806.1,2250.1 L807.1,2254.1 L808.2,2258.0 L809.3,2261.9 L810.4,2265.6 L811.6,2269.0 L812.8,2272.2 L814.1,2275.2 L815.5,2277.9 L816.8,2280.3 L818.1,2282.7 L819.4,2284.9 L820.6,2287.1 L821.8,2289.4 L823.0,2291.7 L824.2,2294.1 L825.4,2296.6 L826.5,2299.0 L827.8,2301.5 L829.0,2304.0 L830.3,2306.6 L831.7,2309.1 L833.2,2311.7 L834.7,2314.3 L836.3,2316.8 L837.9,2319.3 L839.4,2321.7 L840.8,2324.1 L842.1,2326.4 L843.3,2328.6 L844.4,2331.0 L845.5,2333.6 L846.6,2336.3 L847.7,2339.1 L848.7,2341.7 L849.6,2344.0 L850.3,2346.1 L850.9,2347.6 Z" fill="#f21e1e" stroke="#141414" stroke-width="1.15" stroke-linejoin="round"/>
<path d="M831.6,2216.8 L832.6,2218.6 L833.9,2221.0 L835.4,2223.8 L837.0,2226.8 L838.7,2230.0 L840.3,2233.3 L841.8,2236.6 L843.0,2239.7 L844.1,2242.8 L845.2,2246.2 L846.2,2249.7 L847.1,2253.3 L848.0,2257.1 L848.9,2260.8 L849.8,2264.6 L850.7,2268.3 L851.5,2271.9 L852.3,2275.4 L853.1,2278.8 L853.8,2282.2 L854.5,2285.7 L855.2,2289.3 L855.9,2293.1 L856.5,2297.1 L857.0,2301.5 L857.5,2306.4 L858.0,2311.7 L858.5,2317.0 L858.9,2322.3 L859.4,2327.4 L859.9,2332.2 L860.4,2336.3 L860.9,2340.0 L861.5,2343.4 L862.1,2346.5 L862.6,2349.2 L863.2,2351.5 L863.7,2353.5 L864.1,2355.2 L864.3,2356.5 L877.1,2353.7 L876.7,2352.3 L876.3,2350.5 L875.9,2348.6 L875.3,2346.3 L874.8,2343.9 L874.3,2341.1 L873.7,2338.0 L873.2,2334.7 L872.8,2330.8 L872.3,2326.2 L871.9,2321.2 L871.5,2315.9 L871.0,2310.5 L870.5,2305.1 L869.9,2300.0 L869.3,2295.3 L868.7,2291.0 L868.0,2287.0 L867.3,2283.2 L866.6,2279.6 L865.8,2276.0 L865.0,2272.5 L864.2,2268.9 L863.3,2265.3 L862.5,2261.6 L861.6,2257.8 L860.7,2254.0 L859.7,2250.1 L858.7,2246.3 L857.6,2242.5 L856.5,2238.8 L855.2,2235.1 L853.7,2231.5 L852.0,2227.8 L850.3,2224.2 L848.5,2220.7 L846.8,2217.6 L845.3,2214.8 L844.1,2212.5 L843.2,2210.8 Z" fill="#f21e1e" stroke="#141414" stroke-width="1.15" stroke-linejoin="round"/>
<path d="M873.8,2247.1 L874.3,2248.8 L874.9,2251.1 L875.7,2253.8 L876.6,2256.7 L877.5,2259.8 L878.3,2262.8 L879.0,2265.6 L879.5,2268.2 L880.0,2270.6 L880.3,2273.0 L880.7,2275.6 L880.9,2278.0 L881.1,2280.4 L881.3,2282.6 L881.4,2284.7 L881.4,2286.3 L881.3,2287.6 L881.2,2288.6 L881.0,2289.6 L880.8,2290.5 L880.5,2291.4 L880.2,2292.3 L879.9,2293.3 L879.6,2294.2 L893.2,2297.8 L893.3,2297.4 L893.5,2296.7 L893.8,2295.7 L894.3,2294.3 L894.7,2292.7 L895.0,2290.8 L895.3,2288.7 L895.4,2286.5 L895.4,2284.2 L895.3,2281.9 L895.1,2279.3 L894.9,2276.7 L894.6,2273.9 L894.2,2271.1 L893.8,2268.3 L893.3,2265.4 L892.6,2262.5 L891.8,2259.3 L891.0,2256.0 L890.0,2252.8 L889.2,2249.8 L888.4,2247.1 L887.7,2244.9 L887.2,2243.3 Z" fill="#f21e1e" stroke="#141414" stroke-width="1.15" stroke-linejoin="round"/>
<path d="M731.3,2339.8 L732.7,2340.2 L734.6,2340.6 L736.6,2341.2 L738.8,2341.7 L741.0,2342.4 L743.0,2343.1 L744.7,2343.8 L745.8,2344.4 L746.7,2345.1 L747.8,2346.2 L749.0,2347.6 L750.2,2349.2 L751.3,2350.8 L752.3,2352.3 L753.3,2353.7 L754.1,2354.8 L763.7,2347.6 L763.1,2346.8 L762.2,2345.6 L761.2,2343.9 L759.8,2342.1 L758.3,2340.1 L756.6,2338.1 L754.7,2336.2 L752.4,2334.4 L749.9,2333.0 L747.3,2331.9 L744.7,2331.0 L742.1,2330.2 L739.6,2329.5 L737.5,2329.0 L735.8,2328.6 L734.7,2328.2 Z" fill="#f21e1e" stroke="#141414" stroke-width="1.15" stroke-linejoin="round"/>
<path d="M849.6,2192.1 L850.4,2191.3 L851.4,2190.1 L852.5,2188.9 L853.6,2187.6 L854.8,2186.3 L856.0,2185.2 L857.1,2184.3 L858.1,2183.6 L859.3,2183.0 L860.7,2182.3 L862.2,2181.7 L863.7,2181.2 L865.1,2180.8 L866.3,2180.6 L867.3,2180.5 L867.8,2180.5 L868.3,2180.7 L869.1,2181.0 L870.1,2181.6 L871.0,2182.3 L871.9,2183.1 L872.5,2183.8 L872.9,2184.3 L872.9,2184.2 L872.8,2183.8 L872.8,2183.9 L872.7,2184.3 L872.4,2185.0 L871.9,2185.9 L871.4,2186.7 L870.9,2187.4 L870.5,2187.8 L870.3,2187.9 L869.8,2188.2 L868.9,2188.6 L867.7,2189.0 L866.4,2189.3 L865.2,2189.7 L863.9,2190.0 L863.0,2190.3 L866.6,2201.7 L867.2,2201.5 L868.2,2201.3 L869.6,2200.9 L871.2,2200.5 L873.0,2199.9 L874.9,2199.1 L876.8,2198.0 L878.7,2196.6 L880.1,2195.1 L881.2,2193.6 L882.3,2191.9 L883.3,2190.1 L884.1,2188.1 L884.6,2185.8 L884.8,2183.3 L884.3,2180.6 L883.2,2178.2 L881.9,2176.3 L880.3,2174.6 L878.6,2173.0 L876.7,2171.6 L874.6,2170.3 L872.3,2169.3 L869.8,2168.7 L867.2,2168.5 L864.7,2168.7 L862.4,2169.1 L860.1,2169.7 L857.9,2170.5 L855.8,2171.4 L853.9,2172.3 L851.9,2173.4 L849.9,2174.7 L848.1,2176.2 L846.4,2177.8 L844.8,2179.4 L843.5,2180.9 L842.4,2182.2 L841.5,2183.2 L840.8,2183.9 Z" fill="#ff6a6a" stroke="#141414" stroke-width="1.15" stroke-linejoin="round"/>
<path d="M867.7,2225.4 L868.5,2224.3 L869.4,2222.9 L870.5,2221.4 L871.7,2219.8 L873.0,2218.2 L874.2,2216.7 L875.4,2215.5 L876.4,2214.6 L877.6,2213.7 L879.1,2212.8 L880.6,2211.9 L882.1,2211.2 L883.5,2210.6 L884.7,2210.2 L885.5,2210.0 L885.9,2210.0 L886.1,2210.0 L886.6,2210.3 L887.4,2210.8 L888.3,2211.5 L889.2,2212.3 L890.0,2213.2 L890.5,2213.9 L890.7,2214.3 L890.7,2214.3 L890.7,2214.6 L890.7,2215.1 L890.6,2215.8 L890.4,2216.4 L890.2,2217.1 L889.9,2217.6 L889.9,2217.6 L890.0,2217.6 L889.6,2217.8 L888.7,2218.1 L887.5,2218.5 L886.2,2218.9 L884.9,2219.2 L883.6,2219.6 L882.7,2219.9 L886.3,2231.3 L887.0,2231.1 L888.0,2230.8 L889.4,2230.5 L891.1,2230.0 L892.9,2229.4 L894.8,2228.6 L896.8,2227.4 L898.7,2225.8 L900.1,2223.9 L901.0,2222.2 L901.8,2220.3 L902.3,2218.3 L902.7,2216.3 L902.7,2214.1 L902.4,2211.8 L901.7,2209.5 L900.6,2207.5 L899.4,2205.7 L897.9,2204.0 L896.2,2202.4 L894.3,2200.9 L892.2,2199.6 L889.7,2198.6 L886.9,2198.0 L884.2,2198.1 L881.6,2198.6 L879.3,2199.3 L877.0,2200.3 L874.9,2201.4 L872.8,2202.6 L870.9,2203.8 L869.0,2205.2 L867.1,2206.8 L865.3,2208.7 L863.6,2210.6 L862.2,2212.5 L860.8,2214.4 L859.7,2215.9 L858.8,2217.2 L858.1,2218.0 Z" fill="#ff6a6a" stroke="#141414" stroke-width="1.15" stroke-linejoin="round"/>
<path d="M876.7,2331.4 L876.6,2329.7 L876.4,2327.4 L876.2,2324.8 L876.0,2322.0 L875.8,2319.2 L875.9,2316.7 L876.1,2314.6 L876.4,2313.4 L876.9,2312.5 L877.6,2311.5 L878.5,2310.7 L879.6,2309.9 L880.8,2309.3 L882.2,2308.7 L883.6,2308.3 L885.0,2308.1 L886.5,2308.0 L888.5,2308.1 L890.7,2308.3 L892.9,2308.7 L895.1,2309.3 L897.1,2309.9 L898.7,2310.6 L899.7,2311.2 L900.4,2311.8 L900.9,2312.5 L901.4,2313.5 L901.8,2314.5 L902.0,2315.7 L902.2,2316.9 L902.2,2318.1 L902.1,2319.1 L901.8,2320.0 L901.3,2321.3 L900.5,2322.7 L899.6,2324.1 L898.5,2325.5 L897.5,2326.8 L896.5,2327.8 L895.8,2328.4 L895.6,2328.5 L895.3,2328.6 L894.9,2328.6 L894.2,2328.6 L893.3,2328.4 L892.5,2328.3 L891.5,2328.1 L890.6,2328.0 L890.0,2336.0 L890.4,2336.0 L891.0,2336.1 L892.0,2336.3 L893.4,2336.5 L894.9,2336.6 L896.7,2336.4 L898.7,2335.9 L900.6,2334.8 L902.0,2333.6 L903.4,2332.1 L904.8,2330.5 L906.1,2328.7 L907.4,2326.8 L908.5,2324.8 L909.4,2322.7 L909.9,2320.5 L910.2,2318.5 L910.2,2316.5 L909.9,2314.4 L909.5,2312.3 L908.7,2310.2 L907.7,2308.2 L906.3,2306.4 L904.5,2304.8 L902.3,2303.5 L899.9,2302.5 L897.4,2301.6 L894.6,2300.9 L891.9,2300.4 L889.1,2300.1 L886.5,2300.0 L884.0,2300.1 L881.8,2300.5 L879.6,2301.2 L877.4,2302.0 L875.4,2303.1 L873.5,2304.5 L871.7,2306.2 L870.2,2308.1 L869.0,2310.4 L868.2,2313.2 L867.9,2316.2 L867.8,2319.3 L868.0,2322.5 L868.2,2325.5 L868.4,2328.1 L868.6,2330.3 L868.7,2331.8 Z" fill="#ff6a6a" stroke="#141414" stroke-width="1.15" stroke-linejoin="round"/>
<path d="M853.1,2123.5 L852.8,2125.1 L852.6,2127.4 L852.2,2130.1 L851.8,2133.0 L851.3,2136.0 L850.7,2138.8 L850.0,2141.3 L849.1,2143.2 L848.0,2144.6 L846.8,2145.7 L845.5,2146.5 L844.0,2147.1 L842.4,2147.6 L840.8,2148.1 L839.1,2148.6 L837.4,2149.1 L835.6,2149.6 L833.5,2149.9 L831.4,2150.2 L829.2,2150.4 L827.0,2150.8 L825.0,2151.2 L823.2,2152.0 L821.7,2153.0 L820.5,2154.4 L819.5,2156.2 L818.8,2158.2 L818.1,2160.4 L817.6,2162.6 L817.0,2164.8 L816.5,2166.8 L815.8,2168.7 L815.2,2170.5 L814.7,2172.3 L814.3,2174.1 L813.8,2175.8 L813.3,2177.4 L812.5,2178.8 L811.4,2179.8 L809.9,2180.5 L807.9,2180.7 L805.6,2180.5 L802.9,2179.9 L800.0,2179.1 L796.9,2178.3 L793.9,2177.4 L791.0,2176.8 L788.3,2176.5 L785.7,2176.4 L783.0,2176.4 L780.3,2176.5 L777.6,2176.6 L775.1,2176.9 L772.7,2177.3 L770.6,2177.8 L768.7,2178.5 L767.1,2179.3 L765.7,2180.3 L764.5,2181.4 L763.5,2182.7 L762.7,2184.0 L761.9,2185.4 L761.3,2186.8 L760.8,2188.3 L760.4,2189.9 L760.1,2191.5 L760.0,2193.3 L759.9,2195.1 L760.0,2197.0 L760.2,2198.8 L760.5,2200.4 L760.8,2202.0 L761.3,2203.5 L762.0,2205.0 L762.8,2206.4 L763.7,2207.8 L764.7,2209.1 L765.5,2210.2 L766.2,2211.2 L766.7,2211.9" fill="none" stroke="#141414" stroke-width="6.4" stroke-linecap="round" stroke-linejoin="round"/><path d="M853.1,2123.5 L852.8,2125.1 L852.6,2127.4 L852.2,2130.1 L851.8,2133.0 L851.3,2136.0 L850.7,2138.8 L850.0,2141.3 L849.1,2143.2 L848.0,2144.6 L846.8,2145.7 L845.5,2146.5 L844.0,2147.1 L842.4,2147.6 L840.8,2148.1 L839.1,2148.6 L837.4,2149.1 L835.6,2149.6 L833.5,2149.9 L831.4,2150.2 L829.2,2150.4 L827.0,2150.8 L825.0,2151.2 L823.2,2152.0 L821.7,2153.0 L820.5,2154.4 L819.5,2156.2 L818.8,2158.2 L818.1,2160.4 L817.6,2162.6 L817.0,2164.8 L816.5,2166.8 L815.8,2168.7 L815.2,2170.5 L814.7,2172.3 L814.3,2174.1 L813.8,2175.8 L813.3,2177.4 L812.5,2178.8 L811.4,2179.8 L809.9,2180.5 L807.9,2180.7 L805.6,2180.5 L802.9,2179.9 L800.0,2179.1 L796.9,2178.3 L793.9,2177.4 L791.0,2176.8 L788.3,2176.5 L785.7,2176.4 L783.0,2176.4 L780.3,2176.5 L777.6,2176.6 L775.1,2176.9 L772.7,2177.3 L770.6,2177.8 L768.7,2178.5 L767.1,2179.3 L765.7,2180.3 L764.5,2181.4 L763.5,2182.7 L762.7,2184.0 L761.9,2185.4 L761.3,2186.8 L760.8,2188.3 L760.4,2189.9 L760.1,2191.5 L760.0,2193.3 L759.9,2195.1 L760.0,2197.0 L760.2,2198.8 L760.5,2200.4 L760.8,2202.0 L761.3,2203.5 L762.0,2205.0 L762.8,2206.4 L763.7,2207.8 L764.7,2209.1 L765.5,2210.2 L766.2,2211.2 L766.7,2211.9" fill="none" stroke="#ff6a6a" stroke-width="4.2" stroke-linecap="round" stroke-linejoin="round"/>
<path d="M853.1,2123.5 L852.1,2125.4 L850.8,2127.9 L849.3,2131.0 L847.6,2134.3 L845.8,2137.8 L844.1,2141.2 L842.6,2144.4 L841.3,2147.1 L840.2,2149.4 L839.2,2151.6 L838.3,2153.6 L837.5,2155.4 L836.8,2157.3 L836.2,2159.1 L835.7,2160.9 L835.4,2162.8 L835.2,2164.8 L835.2,2166.9 L835.2,2168.9 L835.4,2171.0 L835.7,2173.0 L836.2,2175.0 L836.7,2176.8 L837.4,2178.5 L838.3,2180.1 L839.5,2181.6 L840.9,2183.0 L842.4,2184.4 L843.9,2185.6 L845.3,2186.7 L846.4,2187.6 L847.2,2188.3" fill="none" stroke="#141414" stroke-width="6.4" stroke-linecap="round" stroke-linejoin="round"/><path d="M853.1,2123.5 L852.1,2125.4 L850.8,2127.9 L849.3,2131.0 L847.6,2134.3 L845.8,2137.8 L844.1,2141.2 L842.6,2144.4 L841.3,2147.1 L840.2,2149.4 L839.2,2151.6 L838.3,2153.6 L837.5,2155.4 L836.8,2157.3 L836.2,2159.1 L835.7,2160.9 L835.4,2162.8 L835.2,2164.8 L835.2,2166.9 L835.2,2168.9 L835.4,2171.0 L835.7,2173.0 L836.2,2175.0 L836.7,2176.8 L837.4,2178.5 L838.3,2180.1 L839.5,2181.6 L840.9,2183.0 L842.4,2184.4 L843.9,2185.6 L845.3,2186.7 L846.4,2187.6 L847.2,2188.3" fill="none" stroke="#ff6a6a" stroke-width="4.2" stroke-linecap="round" stroke-linejoin="round"/>
<path d="M768.7,2188.3 L769.4,2187.9 L770.4,2187.4 L771.6,2186.8 L772.9,2186.1 L774.2,2185.5 L775.7,2184.9 L777.1,2184.5 L778.5,2184.4 L779.9,2184.4 L781.4,2184.6 L783.0,2184.9 L784.5,2185.2 L786.1,2185.8 L787.6,2186.5 L789.0,2187.3 L790.3,2188.3 L791.5,2189.6 L792.8,2191.2 L794.0,2193.0 L795.2,2194.9 L796.2,2196.9 L797.1,2198.8 L797.7,2200.5 L798.1,2202.0 L798.2,2203.3 L798.1,2204.6 L797.8,2205.7 L797.4,2206.8 L796.8,2207.8 L796.0,2208.6 L795.1,2209.3 L794.2,2209.9 L793.1,2210.2 L791.7,2210.3 L790.1,2210.1 L788.4,2209.9 L786.7,2209.7 L785.1,2209.5 L783.6,2209.6 L782.4,2209.9 L781.3,2210.6 L780.4,2211.5 L779.5,2212.6 L778.7,2213.8 L778.0,2215.0 L777.4,2216.1 L776.9,2217.0 L776.5,2217.7" fill="none" stroke="#141414" stroke-width="6.4" stroke-linecap="round" stroke-linejoin="round"/><path d="M768.7,2188.3 L769.4,2187.9 L770.4,2187.4 L771.6,2186.8 L772.9,2186.1 L774.2,2185.5 L775.7,2184.9 L777.1,2184.5 L778.5,2184.4 L779.9,2184.4 L781.4,2184.6 L783.0,2184.9 L784.5,2185.2 L786.1,2185.8 L787.6,2186.5 L789.0,2187.3 L790.3,2188.3 L791.5,2189.6 L792.8,2191.2 L794.0,2193.0 L795.2,2194.9 L796.2,2196.9 L797.1,2198.8 L797.7,2200.5 L798.1,2202.0 L798.2,2203.3 L798.1,2204.6 L797.8,2205.7 L797.4,2206.8 L796.8,2207.8 L796.0,2208.6 L795.1,2209.3 L794.2,2209.9 L793.1,2210.2 L791.7,2210.3 L790.1,2210.1 L788.4,2209.9 L786.7,2209.7 L785.1,2209.5 L783.6,2209.6 L782.4,2209.9 L781.3,2210.6 L780.4,2211.5 L779.5,2212.6 L778.7,2213.8 L778.0,2215.0 L777.4,2216.1 L776.9,2217.0 L776.5,2217.7" fill="none" stroke="#ff6a6a" stroke-width="4.2" stroke-linecap="round" stroke-linejoin="round"/>
<path d="M786.3,2202.0 L787.2,2201.2 L788.3,2200.0 L789.7,2198.6 L791.2,2197.1 L792.9,2195.6 L794.6,2194.2 L796.4,2193.0 L798.1,2192.2 L799.9,2191.7 L801.9,2191.3 L804.0,2191.1 L806.2,2191.0 L808.3,2191.1 L810.3,2191.3 L812.2,2191.7 L813.8,2192.2 L815.2,2192.9 L816.6,2193.9 L817.8,2195.0 L818.9,2196.2 L819.8,2197.6 L820.6,2199.0 L821.2,2200.5 L821.7,2202.0 L822.0,2203.6 L822.1,2205.3 L822.0,2207.1 L821.8,2208.9 L821.5,2210.7 L821.0,2212.5 L820.4,2214.2 L819.7,2215.8 L818.9,2217.2 L817.8,2218.5 L816.7,2219.7 L815.4,2220.8 L814.1,2222.0 L812.7,2223.1 L811.3,2224.3 L809.9,2225.6 L808.4,2227.1 L806.8,2228.7 L805.1,2230.4 L803.4,2232.1 L801.7,2233.8 L800.3,2235.2 L799.0,2236.5 L798.1,2237.4" fill="none" stroke="#141414" stroke-width="6.4" stroke-linecap="round" stroke-linejoin="round"/><path d="M786.3,2202.0 L787.2,2201.2 L788.3,2200.0 L789.7,2198.6 L791.2,2197.1 L792.9,2195.6 L794.6,2194.2 L796.4,2193.0 L798.1,2192.2 L799.9,2191.7 L801.9,2191.3 L804.0,2191.1 L806.2,2191.0 L808.3,2191.1 L810.3,2191.3 L812.2,2191.7 L813.8,2192.2 L815.2,2192.9 L816.6,2193.9 L817.8,2195.0 L818.9,2196.2 L819.8,2197.6 L820.6,2199.0 L821.2,2200.5 L821.7,2202.0 L822.0,2203.6 L822.1,2205.3 L822.0,2207.1 L821.8,2208.9 L821.5,2210.7 L821.0,2212.5 L820.4,2214.2 L819.7,2215.8 L818.9,2217.2 L817.8,2218.5 L816.7,2219.7 L815.4,2220.8 L814.1,2222.0 L812.7,2223.1 L811.3,2224.3 L809.9,2225.6 L808.4,2227.1 L806.8,2228.7 L805.1,2230.4 L803.4,2232.1 L801.7,2233.8 L800.3,2235.2 L799.0,2236.5 L798.1,2237.4" fill="none" stroke="#ff6a6a" stroke-width="4.2" stroke-linecap="round" stroke-linejoin="round"/>
<path d="M809.9,2192.2 L810.8,2191.5 L811.9,2190.6 L813.3,2189.4 L814.8,2188.2 L816.5,2187.0 L818.2,2185.9 L820.0,2185.0 L821.7,2184.4 L823.5,2184.1 L825.5,2184.0 L827.6,2184.0 L829.8,2184.1 L831.9,2184.4 L833.9,2184.9 L835.8,2185.5 L837.4,2186.3 L838.8,2187.3 L840.1,2188.5 L841.3,2189.8 L842.4,2191.3 L843.3,2193.0 L844.1,2194.6 L844.7,2196.4 L845.2,2198.1 L845.5,2199.9 L845.6,2201.8 L845.5,2203.9 L845.4,2205.9 L845.0,2208.0 L844.6,2210.1 L844.0,2212.0 L843.3,2213.8 L842.4,2215.5 L841.3,2217.1 L840.1,2218.6 L838.7,2220.1 L837.3,2221.5 L835.9,2222.9 L834.6,2224.2 L833.4,2225.6 L832.3,2227.0 L831.1,2228.4 L830.0,2229.9 L828.9,2231.2 L827.9,2232.5 L827.0,2233.7 L826.2,2234.7 L825.6,2235.4" fill="none" stroke="#141414" stroke-width="6.4" stroke-linecap="round" stroke-linejoin="round"/><path d="M809.9,2192.2 L810.8,2191.5 L811.9,2190.6 L813.3,2189.4 L814.8,2188.2 L816.5,2187.0 L818.2,2185.9 L820.0,2185.0 L821.7,2184.4 L823.5,2184.1 L825.5,2184.0 L827.6,2184.0 L829.8,2184.1 L831.9,2184.4 L833.9,2184.9 L835.8,2185.5 L837.4,2186.3 L838.8,2187.3 L840.1,2188.5 L841.3,2189.8 L842.4,2191.3 L843.3,2193.0 L844.1,2194.6 L844.7,2196.4 L845.2,2198.1 L845.5,2199.9 L845.6,2201.8 L845.5,2203.9 L845.4,2205.9 L845.0,2208.0 L844.6,2210.1 L844.0,2212.0 L843.3,2213.8 L842.4,2215.5 L841.3,2217.1 L840.1,2218.6 L838.7,2220.1 L837.3,2221.5 L835.9,2222.9 L834.6,2224.2 L833.4,2225.6 L832.3,2227.0 L831.1,2228.4 L830.0,2229.9 L828.9,2231.2 L827.9,2232.5 L827.0,2233.7 L826.2,2234.7 L825.6,2235.4" fill="none" stroke="#ff6a6a" stroke-width="4.2" stroke-linecap="round" stroke-linejoin="round"/>
<path d="M764.8,2215.8 L764.6,2216.2 L764.2,2216.7 L763.7,2217.3 L763.2,2218.0 L762.8,2218.8 L762.5,2219.7 L762.5,2220.6 L762.8,2221.7 L763.5,2223.0 L764.6,2224.5 L766.0,2226.2 L767.6,2227.9 L769.1,2229.6 L770.6,2231.2 L771.8,2232.5 L772.6,2233.4" fill="none" stroke="#141414" stroke-width="6.4" stroke-linecap="round" stroke-linejoin="round"/><path d="M764.8,2215.8 L764.6,2216.2 L764.2,2216.7 L763.7,2217.3 L763.2,2218.0 L762.8,2218.8 L762.5,2219.7 L762.5,2220.6 L762.8,2221.7 L763.5,2223.0 L764.6,2224.5 L766.0,2226.2 L767.6,2227.9 L769.1,2229.6 L770.6,2231.2 L771.8,2232.5 L772.6,2233.4" fill="none" stroke="#ff6a6a" stroke-width="4.2" stroke-linecap="round" stroke-linejoin="round"/>
<path d="M853.1,2272.7 L853.2,2270.8 L853.3,2268.2 L853.3,2265.1 L853.4,2261.6 L853.6,2258.1 L853.9,2254.7 L854.4,2251.6 L855.0,2249.1 L855.8,2247.0 L856.8,2245.1 L857.8,2243.4 L859.0,2241.9 L860.3,2240.6 L861.7,2239.4 L863.2,2238.3 L864.8,2237.4 L866.5,2236.6 L868.4,2235.9 L870.4,2235.4 L872.5,2235.1 L874.6,2234.9 L876.7,2234.8 L878.7,2235.0 L880.5,2235.4 L882.2,2236.1 L883.9,2237.1 L885.6,2238.3 L887.1,2239.7 L888.6,2241.1 L890.0,2242.6 L891.2,2244.0 L892.3,2245.2 L893.1,2246.4 L893.7,2247.6 L894.2,2248.8 L894.5,2250.0 L894.8,2251.1 L895.1,2252.0 L895.6,2252.7 L896.2,2253.1 L897.0,2253.2 L897.8,2253.1 L898.7,2252.8 L899.6,2252.3 L900.6,2251.6 L901.7,2250.8 L902.8,2250.0 L904.0,2249.0 L905.4,2247.8 L907.0,2246.4 L908.7,2244.7 L910.4,2242.9 L912.1,2241.2 L913.7,2239.7 L915.0,2238.3 L915.9,2237.4" fill="none" stroke="#141414" stroke-width="6.4" stroke-linecap="round" stroke-linejoin="round"/><path d="M853.1,2272.7 L853.2,2270.8 L853.3,2268.2 L853.3,2265.1 L853.4,2261.6 L853.6,2258.1 L853.9,2254.7 L854.4,2251.6 L855.0,2249.1 L855.8,2247.0 L856.8,2245.1 L857.8,2243.4 L859.0,2241.9 L860.3,2240.6 L861.7,2239.4 L863.2,2238.3 L864.8,2237.4 L866.5,2236.6 L868.4,2235.9 L870.4,2235.4 L872.5,2235.1 L874.6,2234.9 L876.7,2234.8 L878.7,2235.0 L880.5,2235.4 L882.2,2236.1 L883.9,2237.1 L885.6,2238.3 L887.1,2239.7 L888.6,2241.1 L890.0,2242.6 L891.2,2244.0 L892.3,2245.2 L893.1,2246.4 L893.7,2247.6 L894.2,2248.8 L894.5,2250.0 L894.8,2251.1 L895.1,2252.0 L895.6,2252.7 L896.2,2253.1 L897.0,2253.2 L897.8,2253.1 L898.7,2252.8 L899.6,2252.3 L900.6,2251.6 L901.7,2250.8 L902.8,2250.0 L904.0,2249.0 L905.4,2247.8 L907.0,2246.4 L908.7,2244.7 L910.4,2242.9 L912.1,2241.2 L913.7,2239.7 L915.0,2238.3 L915.9,2237.4" fill="none" stroke="#ff6a6a" stroke-width="4.2" stroke-linecap="round" stroke-linejoin="round"/>
<path d="M886.4,2294.3 L885.6,2295.2 L884.5,2296.4 L883.3,2297.9 L881.9,2299.5 L880.4,2301.2 L879.0,2302.9 L877.7,2304.5 L876.6,2306.0 L875.6,2307.4 L874.7,2308.8 L873.8,2310.3 L873.0,2311.7 L872.3,2313.0 L871.7,2314.2 L871.1,2315.1 L870.7,2315.9" fill="none" stroke="#141414" stroke-width="6.4" stroke-linecap="round" stroke-linejoin="round"/><path d="M886.4,2294.3 L885.6,2295.2 L884.5,2296.4 L883.3,2297.9 L881.9,2299.5 L880.4,2301.2 L879.0,2302.9 L877.7,2304.5 L876.6,2306.0 L875.6,2307.4 L874.7,2308.8 L873.8,2310.3 L873.0,2311.7 L872.3,2313.0 L871.7,2314.2 L871.1,2315.1 L870.7,2315.9" fill="none" stroke="#ff6a6a" stroke-width="4.2" stroke-linecap="round" stroke-linejoin="round"/>
<path d="M789.2,2239.2 L788.2,2241.1 L786.8,2243.6 L785.1,2246.6 L783.3,2249.8 L781.4,2253.2 L779.4,2256.5 L777.6,2259.6 L775.8,2262.3 L774.0,2264.8 L772.2,2267.2 L770.3,2269.6 L768.4,2272.0 L766.4,2274.4 L764.4,2276.7 L762.5,2279.0 L760.6,2281.3 L758.7,2283.5 L757.0,2285.7 L755.3,2287.7 L753.7,2289.6 L752.1,2291.5 L750.6,2293.2 L749.1,2294.8 L747.4,2296.4 L744.1,2292.9 L738.0,2313.0 L761.9,2311.3 L758.6,2307.8 L760.4,2306.0 L762.3,2304.0 L764.2,2302.0 L765.9,2299.9 L767.7,2297.9 L769.4,2295.8 L771.1,2293.7 L772.8,2291.5 L774.7,2289.3 L776.6,2287.0 L778.6,2284.7 L780.7,2282.2 L782.8,2279.6 L784.9,2276.9 L787.0,2274.2 L789.0,2271.3 L791.1,2268.2 L793.2,2264.7 L795.2,2261.2 L797.2,2257.7 L799.1,2254.4 L800.8,2251.4 L802.1,2249.0 L803.2,2247.2 Z" fill="#ff6a6a" stroke="#141414" stroke-width="1.15" stroke-linejoin="round"/>
<path d="M761.9,2319.8 L760.8,2319.9 L759.4,2320.1 L757.6,2320.4 L755.7,2320.7 L753.6,2321.0 L751.4,2321.4 L749.1,2321.7 L747.0,2322.1 L744.6,2322.5 L742.1,2323.0 L741.4,2319.5 L729.4,2331.6 L745.0,2338.3 L744.3,2334.8 L746.8,2334.3 L749.0,2333.9 L751.1,2333.6 L753.3,2333.2 L755.4,2332.9 L757.5,2332.6 L759.4,2332.3 L761.1,2332.0 L762.6,2331.8 L763.7,2331.6 Z" fill="#ff6a6a" stroke="#141414" stroke-width="1.15" stroke-linejoin="round"/>
<path d="M771.7,2392.7 L770.5,2391.6 L768.9,2390.4 L767.2,2389.1 L765.6,2387.7 L764.0,2386.3 L762.8,2385.1 L762.1,2384.2 L761.9,2383.7 L761.8,2383.3 L761.7,2382.6 L761.7,2381.8 L761.8,2380.7 L762.1,2379.3 L762.6,2377.6 L763.2,2375.6 L764.0,2373.2 L764.9,2370.8 L766.0,2368.1 L767.2,2365.2 L768.6,2362.1 L770.2,2358.9 L771.8,2355.6 L773.5,2352.2 L775.3,2348.9 L777.2,2345.5 L779.2,2342.0 L781.3,2338.4 L783.5,2334.8 L785.8,2331.0 L788.1,2327.3 L790.5,2323.5 L792.7,2319.8 L794.9,2316.1 L797.2,2312.5 L799.5,2308.8 L801.8,2305.1 L804.1,2301.3 L806.3,2297.6 L808.5,2293.8 L810.6,2289.9 L812.6,2286.1 L814.6,2282.2 L816.4,2278.4 L818.3,2274.5 L820.0,2270.7 L821.7,2267.0 L823.2,2263.3 L824.7,2259.8 L826.1,2256.2 L827.3,2252.6 L831.6,2254.1 L825.6,2233.0 L809.0,2246.0 L813.2,2247.5 L812.0,2251.0 L810.7,2254.2 L809.4,2257.5 L807.9,2261.0 L806.3,2264.6 L804.7,2268.2 L802.9,2271.9 L801.1,2275.6 L799.3,2279.3 L797.4,2282.9 L795.4,2286.4 L793.4,2290.0 L791.2,2293.6 L789.0,2297.2 L786.7,2300.9 L784.4,2304.6 L782.1,2308.3 L779.9,2312.0 L777.7,2315.7 L775.4,2319.4 L773.1,2323.2 L770.7,2326.9 L768.4,2330.7 L766.2,2334.4 L764.1,2338.1 L762.1,2341.7 L760.2,2345.3 L758.4,2348.8 L756.7,2352.3 L755.0,2355.7 L753.5,2359.1 L752.1,2362.3 L750.9,2365.4 L749.8,2368.4 L748.9,2371.0 L748.2,2373.4 L747.5,2375.8 L747.0,2378.3 L746.7,2380.9 L746.7,2383.5 L747.1,2386.3 L747.9,2389.3 L749.5,2392.3 L751.5,2394.9 L753.6,2397.1 L755.8,2399.1 L757.8,2400.7 L759.6,2402.1 L760.9,2403.2 L761.7,2403.9 Z" fill="#ff6a6a" stroke="#141414" stroke-width="1.15" stroke-linejoin="round"/>
<path d="M846.3,2269.5 L845.1,2272.1 L843.6,2275.4 L841.8,2279.3 L839.7,2283.7 L837.6,2288.5 L835.3,2293.3 L833.0,2298.1 L830.8,2302.8 L828.6,2307.4 L826.2,2312.1 L823.8,2317.0 L821.3,2322.0 L818.8,2327.0 L816.3,2332.1 L813.8,2337.1 L811.3,2342.1 L808.8,2347.0 L806.3,2352.1 L803.7,2357.2 L801.1,2362.3 L798.6,2367.4 L796.2,2372.3 L793.9,2377.1 L791.8,2381.6 L789.9,2385.8 L788.1,2389.7 L786.4,2393.5 L784.9,2397.2 L783.4,2400.9 L782.0,2404.6 L780.8,2408.4 L779.7,2412.3 L778.7,2416.3 L778.0,2420.4 L777.4,2424.5 L776.9,2428.6 L776.5,2432.5 L776.2,2436.2 L775.9,2439.7 L775.7,2443.0 L775.6,2446.1 L775.6,2448.9 L775.7,2451.4 L775.9,2453.6 L776.0,2455.7 L776.1,2457.6 L776.0,2459.7 L775.8,2462.1 L775.4,2464.9 L774.7,2468.1 L773.7,2471.7 L772.7,2475.5 L771.7,2479.5 L770.9,2483.7 L770.2,2488.1 L770.0,2492.4 L770.1,2496.5 L770.4,2500.4 L770.9,2504.4 L771.5,2508.4 L772.4,2512.4 L773.6,2516.4 L774.9,2520.4 L776.6,2524.5 L778.6,2528.5 L780.9,2532.4 L783.4,2536.0 L786.1,2539.5 L788.7,2543.0 L791.4,2546.6 L794.1,2550.4 L796.7,2554.5 L799.5,2559.4 L802.8,2565.1 L806.2,2571.3 L809.7,2577.6 L813.0,2583.7 L815.9,2589.3 L818.4,2593.9 L820.3,2597.3 L830.9,2591.7 L829.1,2588.2 L826.6,2583.6 L823.7,2578.0 L820.4,2571.8 L817.0,2565.5 L813.6,2559.2 L810.3,2553.3 L807.3,2548.1 L804.5,2543.5 L801.6,2539.3 L798.8,2535.5 L796.1,2532.0 L793.7,2528.7 L791.6,2525.5 L789.7,2522.4 L788.2,2519.3 L786.9,2516.0 L785.8,2512.7 L784.9,2509.3 L784.2,2506.0 L783.6,2502.6 L783.3,2499.3 L783.0,2495.9 L783.0,2492.6 L783.2,2489.4 L783.7,2486.1 L784.5,2482.5 L785.4,2478.8 L786.5,2475.0 L787.5,2471.3 L788.3,2467.5 L789.0,2463.9 L789.3,2460.5 L789.4,2457.6 L789.3,2455.1 L789.2,2452.8 L789.0,2450.6 L788.9,2448.6 L788.9,2446.4 L789.1,2443.8 L789.3,2440.7 L789.6,2437.3 L789.9,2433.7 L790.3,2430.1 L790.8,2426.4 L791.4,2422.7 L792.1,2419.2 L792.9,2415.7 L793.9,2412.4 L795.0,2409.1 L796.2,2405.9 L797.6,2402.5 L799.1,2399.0 L800.7,2395.4 L802.5,2391.5 L804.4,2387.4 L806.5,2383.1 L808.7,2378.5 L811.2,2373.7 L813.7,2368.7 L816.3,2363.7 L818.9,2358.6 L821.6,2353.5 L824.1,2348.5 L826.6,2343.6 L829.1,2338.6 L831.7,2333.6 L834.3,2328.5 L836.8,2323.6 L839.3,2318.7 L841.7,2313.9 L844.0,2309.2 L846.3,2304.5 L848.6,2299.6 L851.0,2294.8 L853.2,2290.0 L855.3,2285.6 L857.1,2281.7 L858.7,2278.4 L859.9,2275.9 Z" fill="#ff6a6a" stroke="#141414" stroke-width="1.15" stroke-linejoin="round"/>
<path d="M846.0,2594.2 L845.9,2591.7 L845.8,2588.3 L845.6,2584.2 L845.4,2579.6 L845.2,2574.8 L844.9,2570.0 L844.5,2565.3 L843.9,2561.0 L843.3,2557.1 L842.6,2553.5 L841.8,2550.0 L840.9,2546.5 L839.9,2543.1 L838.9,2539.8 L837.8,2536.3 L836.6,2532.8 L835.3,2529.0 L833.9,2525.1 L832.4,2521.3 L830.8,2517.3 L829.2,2513.5 L827.6,2509.6 L826.0,2505.9 L824.4,2502.3 L822.9,2498.6 L821.3,2495.1 L819.7,2491.6 L818.1,2488.1 L816.6,2484.8 L815.1,2481.6 L813.8,2478.4 L812.5,2475.3 L811.2,2472.2 L810.0,2469.2 L808.8,2466.3 L807.7,2463.5 L806.7,2460.8 L805.9,2458.3 L805.3,2456.1 L804.9,2453.9 L804.7,2451.9 L804.6,2450.1 L804.6,2448.5 L804.7,2447.0 L805.0,2445.4 L805.4,2443.6 L805.9,2441.5 L806.6,2439.2 L807.5,2436.8 L808.6,2434.1 L809.9,2431.3 L811.4,2428.2 L813.0,2425.1 L814.7,2421.9 L816.4,2418.6 L818.2,2415.3 L819.9,2412.0 L821.8,2408.7 L823.7,2405.3 L825.7,2401.9 L827.7,2398.4 L829.8,2394.8 L831.9,2391.2 L834.1,2387.5 L836.3,2383.6 L838.8,2379.2 L841.4,2374.7 L844.1,2370.3 L847.7,2372.4 L846.0,2353.0 L828.3,2361.1 L831.9,2363.2 L829.3,2367.7 L826.7,2372.2 L824.2,2376.6 L821.9,2380.5 L819.8,2384.1 L817.7,2387.8 L815.6,2391.3 L813.6,2394.9 L811.5,2398.4 L809.6,2401.9 L807.7,2405.3 L805.8,2408.7 L804.1,2412.0 L802.3,2415.4 L800.5,2418.7 L798.9,2422.0 L797.3,2425.3 L795.8,2428.5 L794.5,2431.7 L793.4,2434.8 L792.5,2437.6 L791.8,2440.2 L791.2,2442.7 L790.8,2445.3 L790.6,2447.9 L790.6,2450.5 L790.7,2453.2 L791.1,2456.1 L791.7,2459.2 L792.5,2462.3 L793.5,2465.3 L794.6,2468.4 L795.8,2471.5 L797.0,2474.5 L798.3,2477.6 L799.5,2480.7 L800.9,2483.9 L802.3,2487.2 L803.8,2490.6 L805.4,2494.0 L807.0,2497.4 L808.5,2500.8 L810.1,2504.3 L811.6,2507.7 L813.1,2511.4 L814.7,2515.1 L816.3,2518.9 L817.8,2522.7 L819.4,2526.4 L820.8,2530.1 L822.2,2533.7 L823.4,2537.2 L824.5,2540.6 L825.5,2543.9 L826.5,2547.1 L827.4,2550.2 L828.2,2553.2 L828.9,2556.4 L829.5,2559.6 L830.1,2563.0 L830.5,2566.8 L830.9,2571.0 L831.2,2575.6 L831.4,2580.2 L831.6,2584.7 L831.8,2588.8 L831.9,2592.2 L832.0,2594.8 Z" fill="#ff6a6a" stroke="#141414" stroke-width="1.15" stroke-linejoin="round"/>
<path d="M758.9,2363.0 L757.9,2363.6 L756.6,2364.3 L755.1,2365.1 L753.4,2366.0 L751.6,2367.1 L749.9,2368.3 L748.4,2369.5 L747.1,2370.8 L746.0,2372.2 L745.0,2373.8 L744.0,2375.5 L743.2,2377.3 L742.4,2379.1 L741.8,2380.9 L741.4,2382.7 L741.2,2384.5 L741.2,2386.3 L741.3,2388.1 L741.5,2390.0 L741.9,2391.9 L742.5,2393.7 L743.2,2395.4 L744.1,2397.0 L745.1,2398.3 L746.3,2399.4 L747.8,2400.4 L749.5,2401.3 L751.3,2402.0 L753.2,2402.6 L755.1,2403.2 L757.0,2403.7 L758.9,2404.2 L760.8,2404.6 L762.6,2405.0 L764.6,2405.3 L766.5,2405.5 L768.5,2405.7 L770.5,2405.9 L772.5,2406.0 L774.6,2406.1 L776.7,2406.2 L778.9,2406.4 L781.1,2406.6 L783.3,2406.7 L785.5,2406.8 L787.7,2406.7 L790.0,2406.5 L792.2,2406.1 L794.5,2405.4 L797.0,2404.5 L799.6,2403.4 L802.2,2402.2 L804.6,2401.0 L806.7,2399.9 L808.5,2399.0 L809.9,2398.3" fill="none" stroke="#141414" stroke-width="6.4" stroke-linecap="round" stroke-linejoin="round"/><path d="M758.9,2363.0 L757.9,2363.6 L756.6,2364.3 L755.1,2365.1 L753.4,2366.0 L751.6,2367.1 L749.9,2368.3 L748.4,2369.5 L747.1,2370.8 L746.0,2372.2 L745.0,2373.8 L744.0,2375.5 L743.2,2377.3 L742.4,2379.1 L741.8,2380.9 L741.4,2382.7 L741.2,2384.5 L741.2,2386.3 L741.3,2388.1 L741.5,2390.0 L741.9,2391.9 L742.5,2393.7 L743.2,2395.4 L744.1,2397.0 L745.1,2398.3 L746.3,2399.4 L747.8,2400.4 L749.5,2401.3 L751.3,2402.0 L753.2,2402.6 L755.1,2403.2 L757.0,2403.7 L758.9,2404.2 L760.8,2404.6 L762.6,2405.0 L764.6,2405.3 L766.5,2405.5 L768.5,2405.7 L770.5,2405.9 L772.5,2406.0 L774.6,2406.1 L776.7,2406.2 L778.9,2406.4 L781.1,2406.6 L783.3,2406.7 L785.5,2406.8 L787.7,2406.7 L790.0,2406.5 L792.2,2406.1 L794.5,2405.4 L797.0,2404.5 L799.6,2403.4 L802.2,2402.2 L804.6,2401.0 L806.7,2399.9 L808.5,2399.0 L809.9,2398.3" fill="none" stroke="#ff6a6a" stroke-width="4.2" stroke-linecap="round" stroke-linejoin="round"/>
<path d="M766.7,2390.4 L767.3,2389.7 L768.1,2388.7 L769.1,2387.4 L770.2,2386.1 L771.3,2384.9 L772.4,2383.8 L773.6,2383.0 L774.6,2382.6 L775.6,2382.7 L776.7,2383.2 L777.9,2384.1 L779.0,2385.1 L780.1,2386.1 L781.0,2387.1 L781.8,2388.0 L782.4,2388.5" fill="none" stroke="#141414" stroke-width="6.4" stroke-linecap="round" stroke-linejoin="round"/><path d="M766.7,2390.4 L767.3,2389.7 L768.1,2388.7 L769.1,2387.4 L770.2,2386.1 L771.3,2384.9 L772.4,2383.8 L773.6,2383.0 L774.6,2382.6 L775.6,2382.7 L776.7,2383.2 L777.9,2384.1 L779.0,2385.1 L780.1,2386.1 L781.0,2387.1 L781.8,2388.0 L782.4,2388.5" fill="none" stroke="#ff6a6a" stroke-width="4.2" stroke-linecap="round" stroke-linejoin="round"/>
<path d="M855.0,2361.0 L854.8,2362.6 L854.4,2364.7 L853.9,2367.2 L853.4,2369.9 L853.0,2372.8 L852.8,2375.7 L852.8,2378.3 L853.1,2380.6 L853.8,2382.6 L854.8,2384.5 L856.1,2386.3 L857.5,2387.9 L859.0,2389.6 L860.5,2391.1 L861.8,2392.7 L862.9,2394.3 L863.9,2395.9 L864.9,2397.5 L865.9,2399.0 L866.8,2400.6 L867.6,2402.0 L868.2,2403.5 L868.7,2404.8 L868.8,2406.1 L868.7,2407.3 L868.3,2408.4 L867.8,2409.4 L867.1,2410.3 L866.2,2411.2 L865.2,2412.1 L864.1,2413.0 L862.9,2414.0 L861.6,2415.1 L860.0,2416.4 L858.4,2417.8 L856.6,2419.1 L854.8,2420.3 L852.9,2421.2 L851.0,2421.8 L849.1,2421.8 L847.1,2421.2 L844.9,2420.0 L842.7,2418.3 L840.4,2416.4 L838.2,2414.5 L836.3,2412.7 L834.6,2411.1 L833.4,2410.1" fill="none" stroke="#141414" stroke-width="6.4" stroke-linecap="round" stroke-linejoin="round"/><path d="M855.0,2361.0 L854.8,2362.6 L854.4,2364.7 L853.9,2367.2 L853.4,2369.9 L853.0,2372.8 L852.8,2375.7 L852.8,2378.3 L853.1,2380.6 L853.8,2382.6 L854.8,2384.5 L856.1,2386.3 L857.5,2387.9 L859.0,2389.6 L860.5,2391.1 L861.8,2392.7 L862.9,2394.3 L863.9,2395.9 L864.9,2397.5 L865.9,2399.0 L866.8,2400.6 L867.6,2402.0 L868.2,2403.5 L868.7,2404.8 L868.8,2406.1 L868.7,2407.3 L868.3,2408.4 L867.8,2409.4 L867.1,2410.3 L866.2,2411.2 L865.2,2412.1 L864.1,2413.0 L862.9,2414.0 L861.6,2415.1 L860.0,2416.4 L858.4,2417.8 L856.6,2419.1 L854.8,2420.3 L852.9,2421.2 L851.0,2421.8 L849.1,2421.8 L847.1,2421.2 L844.9,2420.0 L842.7,2418.3 L840.4,2416.4 L838.2,2414.5 L836.3,2412.7 L834.6,2411.1 L833.4,2410.1" fill="none" stroke="#ff6a6a" stroke-width="4.2" stroke-linecap="round" stroke-linejoin="round"/>
<path d="M858.9,2374.7 L860.3,2374.9 L862.3,2375.2 L864.7,2375.5 L867.3,2375.9 L869.9,2376.4 L872.4,2377.0 L874.7,2377.7 L876.6,2378.6 L878.1,2379.7 L879.5,2381.0 L880.8,2382.4 L881.9,2384.0 L882.8,2385.6 L883.6,2387.3 L884.1,2388.9 L884.5,2390.4 L884.6,2391.9 L884.5,2393.4 L884.1,2394.9 L883.6,2396.4 L882.9,2397.9 L882.2,2399.4 L881.4,2400.8 L880.5,2402.2 L879.6,2403.5 L878.5,2404.8 L877.4,2406.0 L876.2,2407.2 L874.9,2408.4 L873.6,2409.6 L872.2,2410.8 L870.7,2412.0 L869.2,2413.2 L867.5,2414.5 L865.8,2415.8 L864.1,2417.0 L862.3,2418.3 L860.5,2419.5 L858.7,2420.7 L857.0,2421.8 L855.4,2422.9 L853.9,2424.0 L852.4,2425.2 L850.9,2426.2 L849.3,2427.3 L847.6,2428.2 L845.6,2429.0 L843.3,2429.7 L840.6,2430.3 L837.5,2430.8 L834.1,2431.2 L830.6,2431.5 L827.1,2431.7 L823.7,2431.8 L820.5,2431.8 L817.7,2431.6 L815.2,2431.3 L812.9,2430.8 L810.7,2430.3 L808.7,2429.6 L806.9,2428.8 L805.1,2427.9 L803.5,2426.9 L802.0,2425.8 L800.6,2424.5 L799.3,2423.0 L798.2,2421.3 L797.1,2419.5 L796.2,2417.8 L795.4,2416.3 L794.7,2415.0 L794.2,2414.0" fill="none" stroke="#141414" stroke-width="6.4" stroke-linecap="round" stroke-linejoin="round"/><path d="M858.9,2374.7 L860.3,2374.9 L862.3,2375.2 L864.7,2375.5 L867.3,2375.9 L869.9,2376.4 L872.4,2377.0 L874.7,2377.7 L876.6,2378.6 L878.1,2379.7 L879.5,2381.0 L880.8,2382.4 L881.9,2384.0 L882.8,2385.6 L883.6,2387.3 L884.1,2388.9 L884.5,2390.4 L884.6,2391.9 L884.5,2393.4 L884.1,2394.9 L883.6,2396.4 L882.9,2397.9 L882.2,2399.4 L881.4,2400.8 L880.5,2402.2 L879.6,2403.5 L878.5,2404.8 L877.4,2406.0 L876.2,2407.2 L874.9,2408.4 L873.6,2409.6 L872.2,2410.8 L870.7,2412.0 L869.2,2413.2 L867.5,2414.5 L865.8,2415.8 L864.1,2417.0 L862.3,2418.3 L860.5,2419.5 L858.7,2420.7 L857.0,2421.8 L855.4,2422.9 L853.9,2424.0 L852.4,2425.2 L850.9,2426.2 L849.3,2427.3 L847.6,2428.2 L845.6,2429.0 L843.3,2429.7 L840.6,2430.3 L837.5,2430.8 L834.1,2431.2 L830.6,2431.5 L827.1,2431.7 L823.7,2431.8 L820.5,2431.8 L817.7,2431.6 L815.2,2431.3 L812.9,2430.8 L810.7,2430.3 L808.7,2429.6 L806.9,2428.8 L805.1,2427.9 L803.5,2426.9 L802.0,2425.8 L800.6,2424.5 L799.3,2423.0 L798.2,2421.3 L797.1,2419.5 L796.2,2417.8 L795.4,2416.3 L794.7,2415.0 L794.2,2414.0" fill="none" stroke="#ff6a6a" stroke-width="4.2" stroke-linecap="round" stroke-linejoin="round"/>
<path d="M1330.6,2296.9 L1329.8,2294.3 L1328.7,2290.8 L1327.4,2286.6 L1326.0,2282.0 L1324.5,2277.2 L1323.0,2272.3 L1321.5,2267.5 L1320.2,2263.2 L1319.0,2259.0 L1317.8,2254.6 L1316.6,2250.2 L1315.4,2245.8 L1314.2,2241.5 L1313.1,2237.4 L1312.0,2233.6 L1311.0,2230.2 L1310.1,2227.0 L1313.8,2225.9 L1299.0,2214.0 L1293.9,2231.9 L1297.6,2230.8 L1298.6,2233.8 L1299.5,2237.2 L1300.6,2240.9 L1301.7,2245.0 L1302.8,2249.2 L1304.0,2253.6 L1305.3,2258.1 L1306.5,2262.5 L1307.8,2266.8 L1309.1,2271.3 L1310.5,2276.1 L1312.1,2281.0 L1313.6,2285.9 L1315.0,2290.5 L1316.3,2294.6 L1317.4,2298.1 L1318.2,2300.7 Z" fill="#44b2f2" stroke="#141414" stroke-width="1.15" stroke-linejoin="round"/>
<path d="M1277.6,2271.2 L1278.0,2271.8 L1278.5,2272.4 L1278.8,2272.7 L1279.0,2272.9 L1279.1,2273.1 L1279.3,2273.5 L1279.5,2274.0 L1279.8,2274.7 L1280.1,2276.1 L1280.5,2278.1 L1280.9,2280.4 L1281.3,2282.9 L1281.7,2285.3 L1282.0,2287.6 L1282.3,2289.5 L1282.6,2290.9 L1293.4,2289.1 L1293.2,2287.8 L1292.9,2285.9 L1292.6,2283.6 L1292.2,2281.1 L1291.8,2278.5 L1291.3,2276.1 L1290.9,2273.8 L1290.4,2271.9 L1289.9,2270.1 L1289.2,2268.6 L1288.5,2267.3 L1287.7,2266.3 L1287.1,2265.5 L1286.6,2265.0 L1286.5,2264.8 L1286.4,2264.8 Z" fill="#2aa2ee" stroke="#141414" stroke-width="1.15" stroke-linejoin="round"/>
<path d="M1383.9,2343.3 L1383.7,2342.7 L1383.4,2342.0 L1383.1,2341.2 L1382.7,2340.3 L1382.2,2339.1 L1381.6,2337.6 L1380.9,2335.7 L1380.0,2333.4 L1378.8,2330.6 L1377.4,2327.5 L1375.9,2324.1 L1374.3,2320.4 L1372.7,2316.6 L1371.1,2312.7 L1369.7,2308.7 L1368.4,2304.7 L1367.4,2300.5 L1366.4,2295.8 L1365.4,2290.8 L1364.5,2285.6 L1363.6,2280.4 L1362.7,2275.2 L1361.7,2270.2 L1360.6,2265.6 L1359.3,2261.2 L1357.9,2257.0 L1356.4,2253.0 L1360.4,2251.6 L1344.0,2241.0 L1339.3,2259.3 L1343.3,2257.8 L1344.6,2261.6 L1345.9,2265.4 L1347.0,2269.2 L1348.0,2273.3 L1348.9,2277.8 L1349.8,2282.8 L1350.7,2288.0 L1351.6,2293.3 L1352.6,2298.6 L1353.7,2303.7 L1355.0,2308.5 L1356.4,2313.1 L1358.0,2317.6 L1359.7,2321.9 L1361.4,2326.0 L1363.1,2329.7 L1364.6,2333.2 L1365.9,2336.2 L1367.0,2338.8 L1367.9,2340.9 L1368.6,2342.8 L1369.2,2344.2 L1369.7,2345.4 L1370.1,2346.4 L1370.4,2347.2 L1370.6,2347.9 L1370.9,2348.5 Z" fill="#44b2f2" stroke="#141414" stroke-width="1.15" stroke-linejoin="round"/>
<path d="M1371.7,2250.9 L1372.7,2252.7 L1374.0,2255.0 L1375.5,2257.6 L1377.1,2260.5 L1378.8,2263.6 L1380.4,2266.8 L1381.8,2270.1 L1383.0,2273.4 L1384.1,2277.0 L1385.2,2281.2 L1386.2,2285.7 L1387.2,2290.5 L1388.1,2295.2 L1389.0,2299.8 L1389.9,2304.1 L1390.6,2307.9 L1391.3,2311.3 L1392.0,2314.4 L1392.6,2317.3 L1393.1,2319.9 L1393.6,2322.3 L1394.0,2324.4 L1394.3,2326.2 L1394.6,2327.6 L1407.4,2325.0 L1407.1,2323.6 L1406.7,2321.9 L1406.3,2319.8 L1405.9,2317.4 L1405.3,2314.7 L1404.7,2311.8 L1404.1,2308.6 L1403.4,2305.3 L1402.6,2301.6 L1401.8,2297.4 L1400.9,2292.7 L1400.0,2287.9 L1398.9,2283.0 L1397.8,2278.1 L1396.7,2273.5 L1395.4,2269.2 L1393.9,2265.2 L1392.1,2261.3 L1390.3,2257.6 L1388.5,2254.2 L1386.8,2251.1 L1385.2,2248.5 L1384.0,2246.4 L1383.1,2244.7 Z" fill="#44b2f2" stroke="#141414" stroke-width="1.15" stroke-linejoin="round"/>
<path d="M1390.3,2304.8 L1390.9,2306.5 L1391.6,2308.8 L1392.4,2311.6 L1393.4,2314.6 L1394.4,2317.9 L1395.4,2321.1 L1396.4,2324.2 L1397.3,2327.2 L1398.2,2329.9 L1399.2,2332.4 L1400.0,2334.8 L1400.9,2337.2 L1401.7,2339.5 L1402.5,2342.0 L1403.2,2344.6 L1404.0,2347.5 L1404.8,2351.0 L1405.6,2355.2 L1406.4,2359.8 L1407.2,2364.5 L1403.1,2365.2 L1416.6,2378.0 L1425.2,2361.3 L1421.0,2362.1 L1420.2,2357.3 L1419.3,2352.6 L1418.5,2348.2 L1417.6,2344.3 L1416.8,2340.9 L1415.9,2337.9 L1415.0,2335.1 L1414.1,2332.5 L1413.2,2330.1 L1412.3,2327.7 L1411.5,2325.3 L1410.7,2322.8 L1409.8,2320.0 L1408.8,2316.9 L1407.8,2313.7 L1406.8,2310.5 L1405.8,2307.4 L1404.9,2304.7 L1404.2,2302.3 L1403.7,2300.6 Z" fill="#44b2f2" stroke="#141414" stroke-width="1.15" stroke-linejoin="round"/>
<path d="M1313.9,2326.2 L1314.3,2327.3 L1314.9,2328.7 L1315.6,2330.3 L1316.4,2332.2 L1317.1,2334.1 L1317.9,2336.1 L1318.7,2338.0 L1319.3,2339.7 L1319.9,2341.4 L1320.5,2343.3 L1321.1,2345.3 L1321.7,2347.2 L1322.3,2349.1 L1322.8,2350.7 L1323.2,2352.2 L1323.5,2353.3 L1333.1,2350.3 L1332.8,2349.3 L1332.3,2347.9 L1331.8,2346.2 L1331.3,2344.3 L1330.7,2342.3 L1330.0,2340.2 L1329.4,2338.2 L1328.7,2336.3 L1328.0,2334.4 L1327.2,2332.4 L1326.4,2330.4 L1325.6,2328.4 L1324.8,2326.5 L1324.1,2324.8 L1323.6,2323.4 L1323.1,2322.4 Z" fill="#2aa2ee" stroke="#141414" stroke-width="1.15" stroke-linejoin="round"/>
<path d="M1405.2,2265.6 L1406.5,2265.1 L1408.1,2264.3 L1409.8,2263.6 L1411.4,2262.8 L1412.9,2262.3 L1414.2,2262.0 L1414.8,2261.9 L1414.9,2261.9 L1415.2,2262.0 L1416.1,2262.6 L1417.1,2263.4 L1418.3,2264.5 L1419.5,2265.9 L1420.7,2267.4 L1421.8,2269.0 L1422.7,2270.6 L1423.7,2272.4 L1424.6,2274.4 L1425.5,2276.6 L1426.3,2278.9 L1426.9,2281.2 L1427.4,2283.4 L1427.7,2285.4 L1427.8,2286.9 L1427.7,2288.2 L1427.3,2289.7 L1426.7,2291.5 L1425.8,2293.3 L1424.9,2295.2 L1424.0,2297.0 L1423.1,2298.7 L1422.5,2300.0 L1434.3,2305.4 L1434.8,2304.4 L1435.5,2303.0 L1436.5,2301.1 L1437.6,2298.8 L1438.7,2296.3 L1439.7,2293.5 L1440.5,2290.4 L1440.8,2287.1 L1440.6,2284.0 L1440.2,2281.0 L1439.5,2278.0 L1438.7,2275.0 L1437.7,2272.1 L1436.5,2269.3 L1435.3,2266.7 L1434.1,2264.2 L1432.7,2261.9 L1431.2,2259.7 L1429.5,2257.5 L1427.7,2255.5 L1425.7,2253.6 L1423.6,2251.9 L1421.2,2250.5 L1418.3,2249.3 L1415.0,2248.9 L1411.8,2249.2 L1409.0,2249.9 L1406.6,2250.8 L1404.5,2251.7 L1402.7,2252.5 L1401.4,2253.1 L1400.6,2253.4 Z" fill="#66c6fa" stroke="#141414" stroke-width="1.15" stroke-linejoin="round"/>
<path d="M1386.4,2304.7 L1387.6,2303.8 L1389.0,2302.5 L1390.6,2301.1 L1392.3,2299.7 L1394.1,2298.3 L1395.8,2297.1 L1397.3,2296.2 L1398.4,2295.8 L1399.7,2295.5 L1401.1,2295.4 L1402.6,2295.3 L1404.1,2295.4 L1405.7,2295.7 L1407.3,2296.1 L1408.9,2296.7 L1410.4,2297.4 L1412.1,2298.3 L1414.0,2299.6 L1416.0,2301.2 L1418.1,2303.0 L1420.0,2304.8 L1421.8,2306.6 L1423.3,2308.3 L1424.3,2309.5 L1424.9,2310.4 L1425.1,2311.1 L1425.3,2311.8 L1425.4,2312.7 L1425.4,2313.6 L1425.4,2314.7 L1425.3,2315.9 L1425.4,2316.9 L1435.4,2316.1 L1435.3,2315.6 L1435.4,2315.0 L1435.4,2313.7 L1435.4,2312.1 L1435.2,2310.2 L1434.7,2308.1 L1433.8,2305.8 L1432.5,2303.7 L1430.9,2301.7 L1429.1,2299.7 L1427.0,2297.6 L1424.7,2295.5 L1422.4,2293.5 L1419.9,2291.6 L1417.4,2289.8 L1415.0,2288.4 L1412.6,2287.4 L1410.2,2286.5 L1407.8,2285.9 L1405.3,2285.5 L1402.9,2285.3 L1400.4,2285.4 L1398.1,2285.7 L1395.6,2286.2 L1392.9,2287.2 L1390.4,2288.6 L1388.1,2290.2 L1386.0,2291.9 L1384.1,2293.5 L1382.4,2295.0 L1381.1,2296.1 L1380.2,2296.9 Z" fill="#66c6fa" stroke="#141414" stroke-width="1.15" stroke-linejoin="round"/>
<path d="M1387.6,2367.0 L1387.4,2368.5 L1387.2,2370.1 L1386.9,2371.7 L1384.9,2371.3 L1389.2,2380.0 L1395.9,2373.0 L1393.8,2372.7 L1394.1,2371.2 L1394.3,2369.6 L1394.6,2368.0 Z" fill="#44b2f2" stroke="#141414" stroke-width="1.15" stroke-linejoin="round"/>
<path d="M1296.9,2216.4 L1298.6,2215.5 L1300.9,2214.2 L1303.8,2212.7 L1306.8,2211.0 L1309.9,2209.3 L1312.7,2207.6 L1314.9,2206.0 L1316.5,2204.6 L1317.4,2203.4 L1317.9,2202.3 L1318.0,2201.3 L1317.8,2200.4 L1317.3,2199.5 L1316.5,2198.6 L1315.6,2197.7 L1314.6,2196.7 L1313.2,2195.7 L1311.3,2194.7 L1309.1,2193.7 L1306.8,2192.7 L1304.4,2191.7 L1302.2,2190.7 L1300.3,2189.8 L1298.9,2188.9 L1297.8,2188.2 L1296.9,2187.7 L1296.1,2187.2 L1295.6,2186.8 L1295.3,2186.3 L1295.4,2185.5 L1295.9,2184.5 L1296.9,2183.0 L1298.5,2180.8 L1300.8,2177.7 L1303.6,2174.2 L1306.7,2170.6 L1309.9,2167.2 L1313.1,2164.3 L1316.0,2162.2 L1318.5,2161.4 L1320.6,2161.9 L1322.7,2163.4 L1324.6,2165.8 L1326.3,2168.7 L1328.0,2172.0 L1329.5,2175.3 L1330.9,2178.4 L1332.2,2181.0 L1333.3,2183.3 L1334.2,2185.6 L1334.9,2187.8 L1335.5,2190.0 L1336.1,2192.1 L1336.7,2194.3 L1337.3,2196.5 L1338.1,2198.7 L1339.1,2200.9 L1340.2,2203.1 L1341.4,2205.3 L1342.7,2207.6 L1343.8,2209.8 L1344.8,2212.0 L1345.6,2214.2 L1346.0,2216.4 L1346.2,2218.6 L1346.2,2220.9 L1346.0,2223.3 L1345.6,2225.6 L1345.1,2227.8 L1344.3,2230.0 L1343.3,2232.1 L1342.1,2234.0 L1340.5,2235.8 L1338.4,2237.4 L1336.0,2238.8 L1333.4,2240.3 L1330.8,2241.6 L1328.3,2243.0 L1326.1,2244.4 L1324.4,2245.8 L1323.0,2247.2 L1321.9,2248.5 L1320.9,2249.8 L1320.1,2251.1 L1319.5,2252.5 L1319.0,2254.0 L1318.7,2255.7 L1318.5,2257.6 L1318.5,2259.8 L1318.6,2262.4 L1319.0,2265.1 L1319.5,2267.9 L1320.1,2270.8 L1320.8,2273.7 L1321.6,2276.5 L1322.4,2279.2 L1323.4,2281.8 L1324.5,2284.3 L1325.8,2286.9 L1327.2,2289.4 L1328.6,2291.8 L1329.9,2294.2 L1331.1,2296.6 L1332.2,2298.8 L1333.2,2301.1 L1334.1,2303.4 L1335.0,2305.7 L1335.8,2307.9 L1336.5,2309.9 L1337.1,2311.8 L1337.7,2313.3 L1338.1,2314.5" fill="none" stroke="#141414" stroke-width="6.4" stroke-linecap="round" stroke-linejoin="round"/><path d="M1296.9,2216.4 L1298.6,2215.5 L1300.9,2214.2 L1303.8,2212.7 L1306.8,2211.0 L1309.9,2209.3 L1312.7,2207.6 L1314.9,2206.0 L1316.5,2204.6 L1317.4,2203.4 L1317.9,2202.3 L1318.0,2201.3 L1317.8,2200.4 L1317.3,2199.5 L1316.5,2198.6 L1315.6,2197.7 L1314.6,2196.7 L1313.2,2195.7 L1311.3,2194.7 L1309.1,2193.7 L1306.8,2192.7 L1304.4,2191.7 L1302.2,2190.7 L1300.3,2189.8 L1298.9,2188.9 L1297.8,2188.2 L1296.9,2187.7 L1296.1,2187.2 L1295.6,2186.8 L1295.3,2186.3 L1295.4,2185.5 L1295.9,2184.5 L1296.9,2183.0 L1298.5,2180.8 L1300.8,2177.7 L1303.6,2174.2 L1306.7,2170.6 L1309.9,2167.2 L1313.1,2164.3 L1316.0,2162.2 L1318.5,2161.4 L1320.6,2161.9 L1322.7,2163.4 L1324.6,2165.8 L1326.3,2168.7 L1328.0,2172.0 L1329.5,2175.3 L1330.9,2178.4 L1332.2,2181.0 L1333.3,2183.3 L1334.2,2185.6 L1334.9,2187.8 L1335.5,2190.0 L1336.1,2192.1 L1336.7,2194.3 L1337.3,2196.5 L1338.1,2198.7 L1339.1,2200.9 L1340.2,2203.1 L1341.4,2205.3 L1342.7,2207.6 L1343.8,2209.8 L1344.8,2212.0 L1345.6,2214.2 L1346.0,2216.4 L1346.2,2218.6 L1346.2,2220.9 L1346.0,2223.3 L1345.6,2225.6 L1345.1,2227.8 L1344.3,2230.0 L1343.3,2232.1 L1342.1,2234.0 L1340.5,2235.8 L1338.4,2237.4 L1336.0,2238.8 L1333.4,2240.3 L1330.8,2241.6 L1328.3,2243.0 L1326.1,2244.4 L1324.4,2245.8 L1323.0,2247.2 L1321.9,2248.5 L1320.9,2249.8 L1320.1,2251.1 L1319.5,2252.5 L1319.0,2254.0 L1318.7,2255.7 L1318.5,2257.6 L1318.5,2259.8 L1318.6,2262.4 L1319.0,2265.1 L1319.5,2267.9 L1320.1,2270.8 L1320.8,2273.7 L1321.6,2276.5 L1322.4,2279.2 L1323.4,2281.8 L1324.5,2284.3 L1325.8,2286.9 L1327.2,2289.4 L1328.6,2291.8 L1329.9,2294.2 L1331.1,2296.6 L1332.2,2298.8 L1333.2,2301.1 L1334.1,2303.4 L1335.0,2305.7 L1335.8,2307.9 L1336.5,2309.9 L1337.1,2311.8 L1337.7,2313.3 L1338.1,2314.5" fill="none" stroke="#66c6fa" stroke-width="4.2" stroke-linecap="round" stroke-linejoin="round"/>
<path d="M1334.2,2179.1 L1334.4,2177.8 L1334.6,2176.1 L1334.8,2174.1 L1335.0,2171.8 L1335.5,2169.5 L1336.1,2167.2 L1336.9,2165.1 L1338.1,2163.4 L1339.7,2161.8 L1341.8,2160.3 L1344.2,2158.8 L1346.7,2157.4 L1349.3,2156.2 L1351.7,2155.3 L1354.0,2154.7 L1355.8,2154.5 L1357.3,2154.7 L1358.5,2155.3 L1359.6,2156.2 L1360.6,2157.3 L1361.4,2158.6 L1362.1,2160.1 L1362.9,2161.7 L1363.6,2163.4 L1364.2,2165.2 L1364.7,2167.4 L1365.1,2169.8 L1365.5,2172.3 L1365.8,2174.7 L1366.3,2177.1 L1366.8,2179.2 L1367.6,2181.0 L1368.5,2182.5 L1369.6,2183.7 L1370.7,2184.8 L1371.9,2185.7 L1373.2,2186.5 L1374.5,2187.3 L1375.9,2188.1 L1377.4,2188.9 L1379.0,2189.6 L1380.8,2190.2 L1382.7,2190.7 L1384.6,2191.1 L1386.5,2191.7 L1388.3,2192.4 L1389.8,2193.4 L1391.1,2194.8 L1392.1,2196.6 L1392.7,2198.9 L1393.2,2201.5 L1393.6,2204.2 L1393.9,2207.0 L1394.2,2209.7 L1394.6,2212.2 L1395.1,2214.4 L1395.6,2216.3 L1396.1,2218.1 L1396.5,2219.8 L1397.0,2221.4 L1397.6,2222.8 L1398.4,2224.1 L1399.5,2225.3 L1400.9,2226.2 L1402.8,2226.8 L1405.2,2227.1 L1408.0,2227.2 L1410.9,2227.2 L1413.8,2227.1 L1416.5,2227.2 L1418.8,2227.5 L1420.6,2228.1 L1421.9,2229.1 L1423.0,2230.3 L1423.8,2231.6 L1424.4,2233.1 L1424.7,2234.8 L1424.9,2236.4 L1424.8,2238.2 L1424.5,2239.9 L1424.0,2241.7 L1423.2,2243.6 L1422.1,2245.7 L1420.8,2247.8 L1419.4,2249.8 L1417.9,2251.9 L1416.3,2253.8 L1414.7,2255.6 L1413.0,2257.3 L1411.1,2259.0 L1409.2,2260.7 L1407.1,2262.2 L1405.0,2263.7 L1402.9,2265.1 L1400.9,2266.3 L1399.0,2267.4 L1397.2,2268.3 L1395.4,2269.0 L1393.6,2269.6 L1391.9,2270.1 L1390.1,2270.5 L1388.5,2270.8 L1386.8,2271.1 L1385.2,2271.3 L1383.6,2271.4 L1381.9,2271.3 L1380.3,2271.1 L1378.7,2270.8 L1377.2,2270.6 L1375.8,2270.6 L1374.6,2270.8 L1373.5,2271.3 L1372.7,2272.2 L1372.1,2273.4 L1371.8,2274.8 L1371.5,2276.3 L1371.2,2278.0 L1370.9,2279.7 L1370.3,2281.5 L1369.5,2283.1 L1368.4,2284.7 L1366.9,2286.3 L1365.3,2287.8 L1363.7,2289.5 L1362.0,2291.1 L1360.4,2292.9 L1358.9,2294.8 L1357.8,2296.8 L1356.9,2299.0 L1356.2,2301.4 L1355.6,2304.0 L1355.1,2306.7 L1354.7,2309.3 L1354.3,2311.9 L1354.1,2314.3 L1353.8,2316.5 L1353.6,2318.6 L1353.5,2320.7 L1353.5,2322.7 L1353.5,2324.6 L1353.6,2326.3 L1353.7,2327.9 L1353.8,2329.2 L1353.8,2330.2" fill="none" stroke="#141414" stroke-width="6.4" stroke-linecap="round" stroke-linejoin="round"/><path d="M1334.2,2179.1 L1334.4,2177.8 L1334.6,2176.1 L1334.8,2174.1 L1335.0,2171.8 L1335.5,2169.5 L1336.1,2167.2 L1336.9,2165.1 L1338.1,2163.4 L1339.7,2161.8 L1341.8,2160.3 L1344.2,2158.8 L1346.7,2157.4 L1349.3,2156.2 L1351.7,2155.3 L1354.0,2154.7 L1355.8,2154.5 L1357.3,2154.7 L1358.5,2155.3 L1359.6,2156.2 L1360.6,2157.3 L1361.4,2158.6 L1362.1,2160.1 L1362.9,2161.7 L1363.6,2163.4 L1364.2,2165.2 L1364.7,2167.4 L1365.1,2169.8 L1365.5,2172.3 L1365.8,2174.7 L1366.3,2177.1 L1366.8,2179.2 L1367.6,2181.0 L1368.5,2182.5 L1369.6,2183.7 L1370.7,2184.8 L1371.9,2185.7 L1373.2,2186.5 L1374.5,2187.3 L1375.9,2188.1 L1377.4,2188.9 L1379.0,2189.6 L1380.8,2190.2 L1382.7,2190.7 L1384.6,2191.1 L1386.5,2191.7 L1388.3,2192.4 L1389.8,2193.4 L1391.1,2194.8 L1392.1,2196.6 L1392.7,2198.9 L1393.2,2201.5 L1393.6,2204.2 L1393.9,2207.0 L1394.2,2209.7 L1394.6,2212.2 L1395.1,2214.4 L1395.6,2216.3 L1396.1,2218.1 L1396.5,2219.8 L1397.0,2221.4 L1397.6,2222.8 L1398.4,2224.1 L1399.5,2225.3 L1400.9,2226.2 L1402.8,2226.8 L1405.2,2227.1 L1408.0,2227.2 L1410.9,2227.2 L1413.8,2227.1 L1416.5,2227.2 L1418.8,2227.5 L1420.6,2228.1 L1421.9,2229.1 L1423.0,2230.3 L1423.8,2231.6 L1424.4,2233.1 L1424.7,2234.8 L1424.9,2236.4 L1424.8,2238.2 L1424.5,2239.9 L1424.0,2241.7 L1423.2,2243.6 L1422.1,2245.7 L1420.8,2247.8 L1419.4,2249.8 L1417.9,2251.9 L1416.3,2253.8 L1414.7,2255.6 L1413.0,2257.3 L1411.1,2259.0 L1409.2,2260.7 L1407.1,2262.2 L1405.0,2263.7 L1402.9,2265.1 L1400.9,2266.3 L1399.0,2267.4 L1397.2,2268.3 L1395.4,2269.0 L1393.6,2269.6 L1391.9,2270.1 L1390.1,2270.5 L1388.5,2270.8 L1386.8,2271.1 L1385.2,2271.3 L1383.6,2271.4 L1381.9,2271.3 L1380.3,2271.1 L1378.7,2270.8 L1377.2,2270.6 L1375.8,2270.6 L1374.6,2270.8 L1373.5,2271.3 L1372.7,2272.2 L1372.1,2273.4 L1371.8,2274.8 L1371.5,2276.3 L1371.2,2278.0 L1370.9,2279.7 L1370.3,2281.5 L1369.5,2283.1 L1368.4,2284.7 L1366.9,2286.3 L1365.3,2287.8 L1363.7,2289.5 L1362.0,2291.1 L1360.4,2292.9 L1358.9,2294.8 L1357.8,2296.8 L1356.9,2299.0 L1356.2,2301.4 L1355.6,2304.0 L1355.1,2306.7 L1354.7,2309.3 L1354.3,2311.9 L1354.1,2314.3 L1353.8,2316.5 L1353.6,2318.6 L1353.5,2320.7 L1353.5,2322.7 L1353.5,2324.6 L1353.6,2326.3 L1353.7,2327.9 L1353.8,2329.2 L1353.8,2330.2" fill="none" stroke="#66c6fa" stroke-width="4.2" stroke-linecap="round" stroke-linejoin="round"/>
<path d="M1336.2,2198.7 L1337.9,2198.6 L1340.1,2198.5 L1342.8,2198.4 L1345.8,2198.2 L1348.9,2198.1 L1352.0,2198.2 L1355.0,2198.3 L1357.8,2198.7 L1360.4,2199.3 L1363.2,2200.0 L1365.9,2200.8 L1368.6,2201.7 L1371.1,2202.8 L1373.5,2203.9 L1375.6,2205.2 L1377.4,2206.5 L1378.9,2208.0 L1380.1,2209.7 L1381.1,2211.5 L1381.9,2213.4 L1382.6,2215.3 L1383.0,2217.1 L1383.2,2218.8 L1383.3,2220.3 L1383.2,2221.6 L1382.9,2222.8 L1382.4,2223.8 L1381.7,2224.8 L1380.8,2225.7 L1379.8,2226.6 L1378.7,2227.3 L1377.4,2228.1 L1375.9,2228.8 L1374.3,2229.3 L1372.4,2229.7 L1370.4,2230.1 L1368.3,2230.5 L1366.1,2230.9 L1363.9,2231.4 L1361.7,2232.1 L1359.4,2232.9 L1357.0,2233.8 L1354.5,2234.7 L1351.9,2235.8 L1349.3,2236.8 L1346.8,2237.9 L1344.4,2238.9 L1342.1,2239.9 L1339.8,2240.9 L1337.5,2242.1 L1335.2,2243.2 L1333.0,2244.3 L1331.0,2245.4 L1329.1,2246.4 L1327.6,2247.2 L1326.4,2247.8" fill="none" stroke="#141414" stroke-width="6.4" stroke-linecap="round" stroke-linejoin="round"/><path d="M1336.2,2198.7 L1337.9,2198.6 L1340.1,2198.5 L1342.8,2198.4 L1345.8,2198.2 L1348.9,2198.1 L1352.0,2198.2 L1355.0,2198.3 L1357.8,2198.7 L1360.4,2199.3 L1363.2,2200.0 L1365.9,2200.8 L1368.6,2201.7 L1371.1,2202.8 L1373.5,2203.9 L1375.6,2205.2 L1377.4,2206.5 L1378.9,2208.0 L1380.1,2209.7 L1381.1,2211.5 L1381.9,2213.4 L1382.6,2215.3 L1383.0,2217.1 L1383.2,2218.8 L1383.3,2220.3 L1383.2,2221.6 L1382.9,2222.8 L1382.4,2223.8 L1381.7,2224.8 L1380.8,2225.7 L1379.8,2226.6 L1378.7,2227.3 L1377.4,2228.1 L1375.9,2228.8 L1374.3,2229.3 L1372.4,2229.7 L1370.4,2230.1 L1368.3,2230.5 L1366.1,2230.9 L1363.9,2231.4 L1361.7,2232.1 L1359.4,2232.9 L1357.0,2233.8 L1354.5,2234.7 L1351.9,2235.8 L1349.3,2236.8 L1346.8,2237.9 L1344.4,2238.9 L1342.1,2239.9 L1339.8,2240.9 L1337.5,2242.1 L1335.2,2243.2 L1333.0,2244.3 L1331.0,2245.4 L1329.1,2246.4 L1327.6,2247.2 L1326.4,2247.8" fill="none" stroke="#66c6fa" stroke-width="4.2" stroke-linecap="round" stroke-linejoin="round"/>
<path d="M1296.9,2222.2 L1296.1,2222.9 L1295.0,2223.7 L1293.6,2224.6 L1292.1,2225.7 L1290.6,2227.0 L1289.2,2228.4 L1288.0,2230.1 L1287.1,2232.1 L1286.4,2234.4 L1285.9,2237.1 L1285.4,2240.1 L1285.1,2243.2 L1284.9,2246.5 L1284.9,2249.7 L1284.9,2252.8 L1285.1,2255.6 L1285.5,2258.2 L1286.1,2260.6 L1286.8,2263.0 L1287.7,2265.3 L1288.6,2267.6 L1289.5,2270.0 L1290.3,2272.5 L1291.0,2275.2 L1291.6,2278.3 L1292.2,2281.8 L1292.8,2285.5 L1293.4,2289.2 L1293.9,2292.8 L1294.3,2296.1 L1294.7,2298.8 L1295.0,2300.8" fill="none" stroke="#141414" stroke-width="6.4" stroke-linecap="round" stroke-linejoin="round"/><path d="M1296.9,2222.2 L1296.1,2222.9 L1295.0,2223.7 L1293.6,2224.6 L1292.1,2225.7 L1290.6,2227.0 L1289.2,2228.4 L1288.0,2230.1 L1287.1,2232.1 L1286.4,2234.4 L1285.9,2237.1 L1285.4,2240.1 L1285.1,2243.2 L1284.9,2246.5 L1284.9,2249.7 L1284.9,2252.8 L1285.1,2255.6 L1285.5,2258.2 L1286.1,2260.6 L1286.8,2263.0 L1287.7,2265.3 L1288.6,2267.6 L1289.5,2270.0 L1290.3,2272.5 L1291.0,2275.2 L1291.6,2278.3 L1292.2,2281.8 L1292.8,2285.5 L1293.4,2289.2 L1293.9,2292.8 L1294.3,2296.1 L1294.7,2298.8 L1295.0,2300.8" fill="none" stroke="#66c6fa" stroke-width="4.2" stroke-linecap="round" stroke-linejoin="round"/>
<path d="M1383.3,2232.1 L1383.7,2233.0 L1384.3,2234.2 L1385.0,2235.5 L1385.8,2237.1 L1386.6,2238.7 L1387.5,2240.5 L1388.3,2242.2 L1389.2,2243.8 L1390.1,2245.5 L1391.2,2247.4 L1392.3,2249.4 L1393.5,2251.4 L1394.6,2253.3 L1395.6,2255.1 L1396.4,2256.5 L1397.0,2257.6" fill="none" stroke="#141414" stroke-width="6.4" stroke-linecap="round" stroke-linejoin="round"/><path d="M1383.3,2232.1 L1383.7,2233.0 L1384.3,2234.2 L1385.0,2235.5 L1385.8,2237.1 L1386.6,2238.7 L1387.5,2240.5 L1388.3,2242.2 L1389.2,2243.8 L1390.1,2245.5 L1391.2,2247.4 L1392.3,2249.4 L1393.5,2251.4 L1394.6,2253.3 L1395.6,2255.1 L1396.4,2256.5 L1397.0,2257.6" fill="none" stroke="#66c6fa" stroke-width="4.2" stroke-linecap="round" stroke-linejoin="round"/>
<path d="M1428.4,2302.7 L1429.2,2302.3 L1430.3,2301.6 L1431.5,2300.8 L1432.9,2300.0 L1434.4,2299.3 L1435.8,2298.8 L1437.1,2298.6 L1438.2,2298.8 L1439.2,2299.5 L1440.3,2300.7 L1441.4,2302.2 L1442.4,2303.8 L1443.2,2305.6 L1443.8,2307.4 L1444.1,2309.1 L1444.1,2310.6 L1443.6,2312.0 L1442.7,2313.4 L1441.5,2314.8 L1440.1,2316.1 L1438.5,2317.4 L1437.0,2318.6 L1435.5,2319.6 L1434.3,2320.4 L1433.2,2321.0 L1432.0,2321.5 L1430.9,2321.8 L1429.8,2322.0 L1428.8,2322.1 L1427.9,2322.1 L1427.1,2322.2 L1426.5,2322.3" fill="none" stroke="#141414" stroke-width="6.4" stroke-linecap="round" stroke-linejoin="round"/><path d="M1428.4,2302.7 L1429.2,2302.3 L1430.3,2301.6 L1431.5,2300.8 L1432.9,2300.0 L1434.4,2299.3 L1435.8,2298.8 L1437.1,2298.6 L1438.2,2298.8 L1439.2,2299.5 L1440.3,2300.7 L1441.4,2302.2 L1442.4,2303.8 L1443.2,2305.6 L1443.8,2307.4 L1444.1,2309.1 L1444.1,2310.6 L1443.6,2312.0 L1442.7,2313.4 L1441.5,2314.8 L1440.1,2316.1 L1438.5,2317.4 L1437.0,2318.6 L1435.5,2319.6 L1434.3,2320.4 L1433.2,2321.0 L1432.0,2321.5 L1430.9,2321.8 L1429.8,2322.0 L1428.8,2322.1 L1427.9,2322.1 L1427.1,2322.2 L1426.5,2322.3" fill="none" stroke="#66c6fa" stroke-width="4.2" stroke-linecap="round" stroke-linejoin="round"/>
<path d="M1269.4,2358.0 L1269.5,2359.3 L1269.5,2361.1 L1269.5,2363.2 L1269.5,2365.6 L1269.7,2367.9 L1270.0,2370.1 L1270.6,2372.0 L1271.4,2373.4 L1272.6,2374.4 L1274.1,2375.1 L1275.8,2375.6 L1277.8,2375.9 L1279.7,2376.0 L1281.7,2376.0 L1283.5,2375.7 L1285.1,2375.3 L1286.6,2374.6 L1288.1,2373.4 L1289.5,2372.1 L1290.9,2370.5 L1292.2,2369.0 L1293.3,2367.5 L1294.3,2366.3 L1295.0,2365.5" fill="none" stroke="#141414" stroke-width="6.4" stroke-linecap="round" stroke-linejoin="round"/><path d="M1269.4,2358.0 L1269.5,2359.3 L1269.5,2361.1 L1269.5,2363.2 L1269.5,2365.6 L1269.7,2367.9 L1270.0,2370.1 L1270.6,2372.0 L1271.4,2373.4 L1272.6,2374.4 L1274.1,2375.1 L1275.8,2375.6 L1277.8,2375.9 L1279.7,2376.0 L1281.7,2376.0 L1283.5,2375.7 L1285.1,2375.3 L1286.6,2374.6 L1288.1,2373.4 L1289.5,2372.1 L1290.9,2370.5 L1292.2,2369.0 L1293.3,2367.5 L1294.3,2366.3 L1295.0,2365.5" fill="none" stroke="#66c6fa" stroke-width="4.2" stroke-linecap="round" stroke-linejoin="round"/>
<path d="M1287.1,2297.0 L1286.4,2298.5 L1285.5,2300.7 L1284.5,2303.1 L1283.3,2305.9 L1282.0,2308.7 L1280.7,2311.5 L1279.5,2314.2 L1278.3,2316.7 L1277.1,2319.0 L1275.9,2321.4 L1274.8,2323.6 L1273.6,2325.8 L1272.5,2327.9 L1271.3,2329.9 L1270.1,2331.8 L1268.9,2333.6 L1267.5,2335.5 L1263.9,2332.7 L1262.0,2352.0 L1282.9,2347.4 L1279.4,2344.6 L1281.1,2342.4 L1282.7,2340.1 L1284.2,2337.7 L1285.5,2335.3 L1286.9,2332.9 L1288.1,2330.5 L1289.3,2328.1 L1290.5,2325.7 L1291.7,2323.3 L1293.0,2320.7 L1294.3,2317.8 L1295.7,2314.8 L1297.0,2311.9 L1298.2,2309.1 L1299.3,2306.6 L1300.2,2304.6 L1300.9,2303.0 Z" fill="#66c6fa" stroke="#141414" stroke-width="1.15" stroke-linejoin="round"/>
<path d="M1299.8,2429.2 L1299.6,2428.2 L1299.2,2427.0 L1298.9,2425.8 L1298.6,2424.6 L1298.3,2423.4 L1298.1,2422.2 L1298.0,2421.2 L1298.0,2420.1 L1298.1,2419.0 L1298.1,2417.9 L1298.3,2416.9 L1298.5,2415.7 L1298.8,2414.3 L1299.3,2412.4 L1299.9,2409.9 L1300.7,2406.9 L1301.7,2403.2 L1303.0,2398.9 L1304.4,2394.1 L1306.0,2389.0 L1307.6,2383.6 L1309.3,2378.2 L1310.9,2372.9 L1312.5,2367.8 L1314.0,2362.9 L1315.5,2357.8 L1317.1,2352.7 L1318.7,2347.6 L1320.2,2342.6 L1321.7,2337.6 L1323.0,2332.9 L1324.3,2328.3 L1325.3,2323.8 L1326.3,2319.3 L1331.0,2320.4 L1322.4,2297.0 L1306.0,2314.8 L1310.7,2315.9 L1309.8,2320.2 L1308.7,2324.3 L1307.6,2328.6 L1306.3,2333.2 L1304.9,2338.0 L1303.4,2342.9 L1301.8,2348.0 L1300.2,2353.1 L1298.7,2358.2 L1297.1,2363.2 L1295.6,2368.3 L1294.0,2373.5 L1292.3,2378.9 L1290.7,2384.3 L1289.1,2389.5 L1287.7,2394.4 L1286.4,2398.8 L1285.3,2402.7 L1284.4,2405.8 L1283.8,2408.4 L1283.2,2410.6 L1282.8,2412.6 L1282.5,2414.4 L1282.2,2416.2 L1282.1,2417.9 L1282.0,2419.9 L1282.0,2422.1 L1282.3,2424.4 L1282.6,2426.5 L1283.0,2428.3 L1283.4,2429.9 L1283.8,2431.2 L1284.1,2432.1 L1284.2,2432.8 Z" fill="#66c6fa" stroke="#141414" stroke-width="1.15" stroke-linejoin="round"/>
<path d="M1316.5,2379.3 L1315.9,2380.2 L1315.0,2381.3 L1313.9,2382.6 L1312.7,2384.0 L1311.5,2385.7 L1310.4,2387.4 L1309.5,2389.2 L1308.7,2391.0 L1308.1,2393.0 L1307.6,2395.2 L1307.2,2397.5 L1306.8,2400.0 L1306.6,2402.4 L1306.5,2404.7 L1306.5,2406.8 L1306.7,2408.7 L1307.0,2410.4 L1307.4,2411.9 L1307.9,2413.3 L1308.5,2414.6 L1309.3,2415.7 L1310.3,2416.8 L1311.3,2417.7 L1312.6,2418.5 L1314.1,2419.2 L1315.7,2419.6 L1317.5,2420.0 L1319.5,2420.2 L1321.5,2420.4 L1323.7,2420.5 L1326.0,2420.5 L1328.3,2420.5 L1330.9,2420.4 L1333.8,2420.2 L1336.9,2420.0 L1340.1,2419.6 L1343.1,2419.3 L1345.9,2419.0 L1348.2,2418.7 L1349.9,2418.5" fill="none" stroke="#141414" stroke-width="6.4" stroke-linecap="round" stroke-linejoin="round"/><path d="M1316.5,2379.3 L1315.9,2380.2 L1315.0,2381.3 L1313.9,2382.6 L1312.7,2384.0 L1311.5,2385.7 L1310.4,2387.4 L1309.5,2389.2 L1308.7,2391.0 L1308.1,2393.0 L1307.6,2395.2 L1307.2,2397.5 L1306.8,2400.0 L1306.6,2402.4 L1306.5,2404.7 L1306.5,2406.8 L1306.7,2408.7 L1307.0,2410.4 L1307.4,2411.9 L1307.9,2413.3 L1308.5,2414.6 L1309.3,2415.7 L1310.3,2416.8 L1311.3,2417.7 L1312.6,2418.5 L1314.1,2419.2 L1315.7,2419.6 L1317.5,2420.0 L1319.5,2420.2 L1321.5,2420.4 L1323.7,2420.5 L1326.0,2420.5 L1328.3,2420.5 L1330.9,2420.4 L1333.8,2420.2 L1336.9,2420.0 L1340.1,2419.6 L1343.1,2419.3 L1345.9,2419.0 L1348.2,2418.7 L1349.9,2418.5" fill="none" stroke="#66c6fa" stroke-width="4.2" stroke-linecap="round" stroke-linejoin="round"/>
<path d="M1346.5,2326.9 L1345.3,2329.5 L1343.7,2333.1 L1341.7,2337.3 L1339.5,2342.1 L1337.3,2347.2 L1335.0,2352.5 L1332.8,2357.8 L1330.9,2362.8 L1329.2,2367.8 L1327.5,2372.9 L1325.9,2378.1 L1324.3,2383.4 L1322.9,2388.6 L1321.5,2393.7 L1320.3,2398.6 L1319.3,2403.1 L1318.3,2407.4 L1317.5,2411.4 L1316.8,2415.2 L1316.2,2419.0 L1315.7,2422.8 L1315.4,2426.6 L1315.3,2430.5 L1315.3,2434.5 L1315.6,2438.6 L1316.2,2442.7 L1316.9,2446.7 L1317.8,2450.7 L1318.8,2454.5 L1319.8,2458.3 L1320.7,2461.9 L1321.7,2465.5 L1322.8,2469.2 L1324.1,2472.9 L1325.4,2476.4 L1326.7,2479.8 L1327.8,2482.9 L1328.7,2485.7 L1329.3,2488.1 L1329.6,2490.3 L1329.5,2492.1 L1329.2,2494.0 L1328.7,2495.9 L1327.9,2497.9 L1327.0,2500.1 L1325.9,2502.6 L1324.8,2505.2 L1323.9,2508.0 L1323.1,2510.5 L1322.3,2512.9 L1321.5,2515.4 L1320.7,2517.9 L1319.9,2520.5 L1319.1,2523.2 L1318.4,2526.0 L1317.9,2528.8 L1317.4,2531.6 L1317.0,2534.2 L1316.6,2537.0 L1316.3,2539.8 L1316.1,2542.8 L1316.0,2545.9 L1316.1,2549.1 L1316.3,2552.5 L1316.7,2556.0 L1317.1,2559.7 L1317.7,2563.6 L1318.4,2567.7 L1319.3,2571.7 L1320.3,2575.8 L1321.5,2579.8 L1322.9,2583.6 L1324.7,2587.4 L1326.8,2591.0 L1329.0,2594.6 L1331.4,2597.9 L1333.7,2601.0 L1335.9,2603.9 L1337.9,2606.4 L1339.6,2608.5 L1341.3,2610.4 L1342.9,2612.1 L1344.3,2613.4 L1345.7,2614.4 L1346.9,2615.2 L1347.8,2615.8 L1348.3,2616.1 L1348.7,2616.4 L1355.3,2607.6 L1354.6,2607.0 L1353.7,2606.5 L1353.0,2606.0 L1352.2,2605.5 L1351.5,2604.9 L1350.6,2604.1 L1349.6,2603.0 L1348.4,2601.5 L1346.8,2599.4 L1344.8,2596.9 L1342.8,2594.2 L1340.7,2591.3 L1338.6,2588.2 L1336.7,2585.2 L1335.0,2582.1 L1333.7,2579.2 L1332.6,2576.1 L1331.6,2572.8 L1330.8,2569.2 L1330.1,2565.5 L1329.6,2561.8 L1329.1,2558.2 L1328.7,2554.7 L1328.5,2551.5 L1328.3,2548.7 L1328.3,2546.0 L1328.4,2543.4 L1328.6,2541.0 L1328.9,2538.6 L1329.3,2536.1 L1329.7,2533.7 L1330.1,2531.2 L1330.7,2528.8 L1331.3,2526.5 L1332.0,2524.2 L1332.7,2521.9 L1333.6,2519.5 L1334.4,2517.0 L1335.3,2514.5 L1336.1,2512.0 L1336.9,2509.9 L1337.8,2507.7 L1338.9,2505.4 L1340.0,2502.9 L1341.1,2500.1 L1342.0,2496.9 L1342.6,2493.5 L1342.8,2489.7 L1342.4,2485.9 L1341.6,2482.2 L1340.5,2478.6 L1339.3,2475.1 L1338.1,2471.7 L1336.9,2468.4 L1335.8,2465.2 L1334.9,2461.9 L1334.0,2458.4 L1333.1,2454.8 L1332.2,2451.2 L1331.4,2447.6 L1330.7,2444.0 L1330.1,2440.6 L1329.7,2437.2 L1329.5,2433.9 L1329.5,2430.7 L1329.7,2427.5 L1330.0,2424.4 L1330.4,2421.2 L1331.0,2417.8 L1331.7,2414.3 L1332.6,2410.5 L1333.5,2406.5 L1334.6,2402.1 L1335.9,2397.5 L1337.2,2392.6 L1338.7,2387.7 L1340.3,2382.6 L1341.9,2377.6 L1343.6,2372.8 L1345.3,2368.2 L1347.1,2363.5 L1349.2,2358.6 L1351.5,2353.6 L1353.8,2348.7 L1356.0,2344.0 L1358.1,2339.8 L1359.8,2336.3 L1361.1,2333.5 Z" fill="#66c6fa" stroke="#141414" stroke-width="1.15" stroke-linejoin="round"/>
<path d="M1372.9,2612.0 L1373.2,2610.1 L1373.7,2607.4 L1374.2,2604.2 L1374.8,2600.6 L1375.3,2596.8 L1375.8,2592.9 L1376.3,2589.0 L1376.5,2585.4 L1376.6,2582.0 L1376.7,2578.8 L1376.7,2575.6 L1376.6,2572.3 L1376.4,2569.0 L1376.1,2565.5 L1375.5,2562.1 L1374.8,2558.5 L1373.9,2554.8 L1372.8,2551.0 L1371.5,2547.3 L1370.1,2543.5 L1368.7,2539.8 L1367.2,2536.2 L1365.7,2532.8 L1364.1,2529.4 L1362.5,2526.1 L1360.8,2522.9 L1359.0,2519.7 L1357.2,2516.8 L1355.5,2514.0 L1353.8,2511.3 L1352.4,2508.9 L1351.1,2506.6 L1349.9,2504.4 L1348.8,2502.4 L1347.8,2500.7 L1347.0,2499.1 L1346.3,2497.7 L1345.7,2496.4 L1345.2,2495.0 L1344.8,2493.4 L1344.4,2491.4 L1344.0,2489.4 L1343.7,2487.5 L1343.5,2485.5 L1343.4,2483.4 L1343.4,2481.2 L1343.6,2478.8 L1343.9,2476.1 L1344.5,2473.1 L1345.2,2469.9 L1346.1,2466.4 L1347.2,2462.7 L1348.4,2458.8 L1349.7,2454.8 L1351.1,2450.6 L1352.6,2446.4 L1354.2,2441.9 L1356.0,2437.3 L1357.9,2432.5 L1359.9,2427.6 L1362.0,2422.5 L1364.1,2417.5 L1366.2,2412.4 L1368.2,2407.4 L1370.2,2402.5 L1372.2,2397.4 L1374.2,2392.4 L1376.3,2387.3 L1378.3,2382.3 L1380.3,2377.4 L1382.1,2372.6 L1383.9,2368.0 L1385.7,2363.3 L1387.5,2358.5 L1389.2,2353.8 L1393.2,2355.2 L1389.2,2333.0 L1372.1,2347.6 L1376.1,2349.0 L1374.3,2353.7 L1372.6,2358.4 L1370.9,2363.0 L1369.1,2367.5 L1367.2,2372.3 L1365.3,2377.1 L1363.3,2382.1 L1361.3,2387.1 L1359.2,2392.2 L1357.2,2397.2 L1355.2,2402.2 L1353.2,2407.1 L1351.1,2412.1 L1349.0,2417.2 L1347.0,2422.3 L1344.9,2427.3 L1342.9,2432.2 L1341.1,2437.0 L1339.4,2441.6 L1337.9,2446.1 L1336.4,2450.4 L1335.0,2454.6 L1333.8,2458.7 L1332.6,2462.7 L1331.6,2466.6 L1330.7,2470.3 L1330.1,2473.9 L1329.6,2477.4 L1329.4,2480.6 L1329.4,2483.7 L1329.5,2486.5 L1329.8,2489.2 L1330.2,2491.8 L1330.7,2494.2 L1331.2,2496.6 L1331.8,2499.1 L1332.7,2501.4 L1333.6,2503.6 L1334.5,2505.6 L1335.6,2507.4 L1336.6,2509.3 L1337.7,2511.2 L1338.9,2513.4 L1340.3,2515.9 L1341.9,2518.6 L1343.5,2521.3 L1345.2,2524.1 L1346.9,2526.8 L1348.5,2529.7 L1350.1,2532.5 L1351.5,2535.4 L1352.9,2538.5 L1354.3,2541.8 L1355.7,2545.1 L1357.1,2548.5 L1358.3,2551.9 L1359.5,2555.3 L1360.4,2558.5 L1361.2,2561.5 L1361.7,2564.4 L1362.2,2567.3 L1362.4,2570.1 L1362.6,2572.9 L1362.7,2575.8 L1362.7,2578.7 L1362.6,2581.6 L1362.5,2584.6 L1362.3,2587.8 L1361.9,2591.2 L1361.5,2594.9 L1360.9,2598.5 L1360.4,2602.0 L1359.8,2605.2 L1359.4,2607.9 L1359.1,2610.0 Z" fill="#66c6fa" stroke="#141414" stroke-width="1.15" stroke-linejoin="round"/>
<path d="M1393.1,2371.4 L1393.3,2372.4 L1393.5,2373.8 L1393.7,2375.4 L1394.0,2377.3 L1394.3,2379.2 L1394.6,2381.2 L1394.8,2383.2 L1395.1,2385.1 L1395.2,2387.1 L1395.3,2389.2 L1395.2,2391.4 L1395.2,2393.6 L1395.3,2395.8 L1395.6,2397.7 L1396.1,2399.5 L1397.0,2400.9 L1398.3,2401.9 L1400.0,2402.6 L1402.0,2403.0 L1404.2,2403.2 L1406.5,2403.4 L1408.7,2403.7 L1410.8,2404.1 L1412.7,2404.8 L1414.5,2405.7 L1416.3,2406.8 L1418.1,2408.0 L1419.8,2409.3 L1421.4,2410.7 L1422.7,2412.0 L1423.8,2413.3 L1424.5,2414.6 L1424.8,2415.9 L1424.8,2417.2 L1424.5,2418.5 L1424.0,2419.9 L1423.3,2421.2 L1422.5,2422.4 L1421.6,2423.5 L1420.6,2424.4 L1419.6,2425.1 L1418.4,2425.7 L1417.1,2426.1 L1415.7,2426.5 L1414.1,2426.8 L1412.5,2427.2 L1410.7,2427.7 L1408.8,2428.3 L1406.7,2429.2 L1404.5,2430.4 L1402.0,2431.7 L1399.5,2433.0 L1396.9,2434.2 L1394.3,2435.2 L1391.7,2435.9 L1389.2,2436.2 L1386.6,2435.9 L1383.8,2435.2 L1381.0,2434.0 L1378.1,2432.7 L1375.4,2431.4 L1373.0,2430.1 L1371.0,2429.0 L1369.5,2428.3" fill="none" stroke="#141414" stroke-width="6.4" stroke-linecap="round" stroke-linejoin="round"/><path d="M1393.1,2371.4 L1393.3,2372.4 L1393.5,2373.8 L1393.7,2375.4 L1394.0,2377.3 L1394.3,2379.2 L1394.6,2381.2 L1394.8,2383.2 L1395.1,2385.1 L1395.2,2387.1 L1395.3,2389.2 L1395.2,2391.4 L1395.2,2393.6 L1395.3,2395.8 L1395.6,2397.7 L1396.1,2399.5 L1397.0,2400.9 L1398.3,2401.9 L1400.0,2402.6 L1402.0,2403.0 L1404.2,2403.2 L1406.5,2403.4 L1408.7,2403.7 L1410.8,2404.1 L1412.7,2404.8 L1414.5,2405.7 L1416.3,2406.8 L1418.1,2408.0 L1419.8,2409.3 L1421.4,2410.7 L1422.7,2412.0 L1423.8,2413.3 L1424.5,2414.6 L1424.8,2415.9 L1424.8,2417.2 L1424.5,2418.5 L1424.0,2419.9 L1423.3,2421.2 L1422.5,2422.4 L1421.6,2423.5 L1420.6,2424.4 L1419.6,2425.1 L1418.4,2425.7 L1417.1,2426.1 L1415.7,2426.5 L1414.1,2426.8 L1412.5,2427.2 L1410.7,2427.7 L1408.8,2428.3 L1406.7,2429.2 L1404.5,2430.4 L1402.0,2431.7 L1399.5,2433.0 L1396.9,2434.2 L1394.3,2435.2 L1391.7,2435.9 L1389.2,2436.2 L1386.6,2435.9 L1383.8,2435.2 L1381.0,2434.0 L1378.1,2432.7 L1375.4,2431.4 L1373.0,2430.1 L1371.0,2429.0 L1369.5,2428.3" fill="none" stroke="#66c6fa" stroke-width="4.2" stroke-linecap="round" stroke-linejoin="round"/>
<path d="M1402.9,2395.0 L1403.7,2396.5 L1404.9,2398.6 L1406.4,2401.1 L1407.9,2403.8 L1409.5,2406.7 L1410.8,2409.5 L1412.0,2412.2 L1412.7,2414.6 L1413.1,2416.8 L1413.3,2418.9 L1413.4,2421.0 L1413.2,2423.1 L1412.9,2425.0 L1412.4,2426.9 L1411.7,2428.6 L1410.8,2430.3 L1409.7,2431.8 L1408.3,2433.2 L1406.8,2434.5 L1405.0,2435.7 L1403.1,2436.8 L1401.1,2437.9 L1399.1,2439.0 L1397.0,2440.1 L1394.8,2441.2 L1392.5,2442.3 L1390.1,2443.4 L1387.6,2444.4 L1385.0,2445.4 L1382.4,2446.4 L1379.9,2447.2 L1377.4,2448.0 L1374.9,2448.7 L1372.4,2449.3 L1369.9,2449.9 L1367.4,2450.4 L1364.9,2450.9 L1362.4,2451.3 L1360.1,2451.6 L1357.8,2451.9 L1355.5,2452.1 L1353.2,2452.2 L1350.9,2452.2 L1348.7,2452.1 L1346.7,2452.1 L1344.8,2452.0 L1343.3,2451.9 L1342.1,2451.9" fill="none" stroke="#141414" stroke-width="6.4" stroke-linecap="round" stroke-linejoin="round"/><path d="M1402.9,2395.0 L1403.7,2396.5 L1404.9,2398.6 L1406.4,2401.1 L1407.9,2403.8 L1409.5,2406.7 L1410.8,2409.5 L1412.0,2412.2 L1412.7,2414.6 L1413.1,2416.8 L1413.3,2418.9 L1413.4,2421.0 L1413.2,2423.1 L1412.9,2425.0 L1412.4,2426.9 L1411.7,2428.6 L1410.8,2430.3 L1409.7,2431.8 L1408.3,2433.2 L1406.8,2434.5 L1405.0,2435.7 L1403.1,2436.8 L1401.1,2437.9 L1399.1,2439.0 L1397.0,2440.1 L1394.8,2441.2 L1392.5,2442.3 L1390.1,2443.4 L1387.6,2444.4 L1385.0,2445.4 L1382.4,2446.4 L1379.9,2447.2 L1377.4,2448.0 L1374.9,2448.7 L1372.4,2449.3 L1369.9,2449.9 L1367.4,2450.4 L1364.9,2450.9 L1362.4,2451.3 L1360.1,2451.6 L1357.8,2451.9 L1355.5,2452.1 L1353.2,2452.2 L1350.9,2452.2 L1348.7,2452.1 L1346.7,2452.1 L1344.8,2452.0 L1343.3,2451.9 L1342.1,2451.9" fill="none" stroke="#66c6fa" stroke-width="4.2" stroke-linecap="round" stroke-linejoin="round"/>
</g>
</svg></body></html>
